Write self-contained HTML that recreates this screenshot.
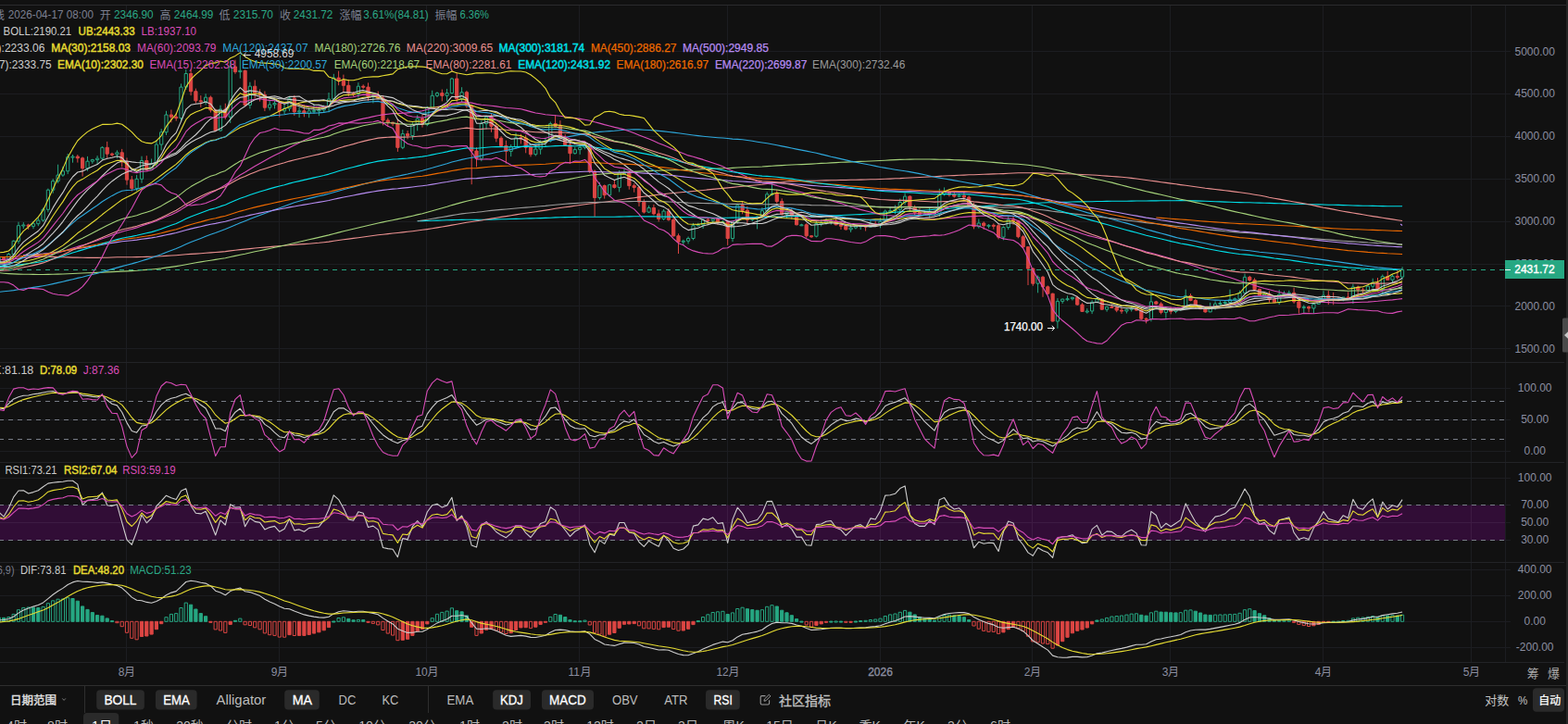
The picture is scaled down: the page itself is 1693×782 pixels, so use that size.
<!DOCTYPE html><html><head><meta charset="utf-8"><title>chart</title><style>html,body{margin:0;padding:0;background:#111111;overflow:hidden}</style></head><body><svg width="1693" height="782" viewBox="0 0 1693 782" style="display:block"><rect width="1693" height="782" fill="#111111"/><g shape-rendering="crispEdges" fill="none"><path d="M136.5 6V715" stroke="#1c1d21" stroke-width="1"/><path d="M301.5 6V715" stroke="#1c1d21" stroke-width="1"/><path d="M460.5 6V715" stroke="#1c1d21" stroke-width="1"/><path d="M625.5 6V715" stroke="#1c1d21" stroke-width="1"/><path d="M785.5 6V715" stroke="#1c1d21" stroke-width="1"/><path d="M950.5 6V715" stroke="#1c1d21" stroke-width="1"/><path d="M1114.5 6V715" stroke="#1c1d21" stroke-width="1"/><path d="M1263.5 6V715" stroke="#1c1d21" stroke-width="1"/><path d="M1428.5 6V715" stroke="#1c1d21" stroke-width="1"/><path d="M1588.5 6V715" stroke="#1c1d21" stroke-width="1"/><path d="M1625.5 6V715" stroke="#1c1d21" stroke-width="1"/><path d="M0 376.5H1631" stroke="#1c1d21" stroke-width="1"/><path d="M0 330.5H1631" stroke="#1c1d21" stroke-width="1"/><path d="M0 285.5H1631" stroke="#1c1d21" stroke-width="1"/><path d="M0 239.5H1631" stroke="#1c1d21" stroke-width="1"/><path d="M0 193.5H1631" stroke="#1c1d21" stroke-width="1"/><path d="M0 147.5H1631" stroke="#1c1d21" stroke-width="1"/><path d="M0 101.5H1631" stroke="#1c1d21" stroke-width="1"/><path d="M0 55.5H1631" stroke="#1c1d21" stroke-width="1"/><path d="M0 419.5H1631" stroke="#1c1d21" stroke-width="1"/><path d="M0 453.5H1631" stroke="#1c1d21" stroke-width="1"/><path d="M0 487.5H1631" stroke="#1c1d21" stroke-width="1"/><path d="M0 516.5H1631" stroke="#1c1d21" stroke-width="1"/><path d="M0 545.5H1631" stroke="#1c1d21" stroke-width="1"/><path d="M0 564.5H1631" stroke="#1c1d21" stroke-width="1"/><path d="M0 583.5H1631" stroke="#1c1d21" stroke-width="1"/><path d="M0 615.5H1631" stroke="#1c1d21" stroke-width="1"/><path d="M0 643.5H1631" stroke="#1c1d21" stroke-width="1"/><path d="M0 671.5H1631" stroke="#1c1d21" stroke-width="1"/><path d="M0 699.5H1631" stroke="#1c1d21" stroke-width="1"/><path d="M0 391.5H1689" stroke="#222327" stroke-width="1"/><path d="M0 499.5H1689" stroke="#222327" stroke-width="1"/><path d="M0 607.5H1689" stroke="#222327" stroke-width="1"/><path d="M0 715.5H1689" stroke="#222327" stroke-width="1"/><path d="M0 5.5H1691" stroke="#2b2b2d" stroke-width="1"/></g><rect x="0" y="545.8" width="1625" height="37.8" fill="#310d36"/><g shape-rendering="crispEdges" fill="none"><path d="M136.5 545.3V583.3" stroke="#3d1b43" stroke-width="1"/><path d="M301.5 545.3V583.3" stroke="#3d1b43" stroke-width="1"/><path d="M460.5 545.3V583.3" stroke="#3d1b43" stroke-width="1"/><path d="M625.5 545.3V583.3" stroke="#3d1b43" stroke-width="1"/><path d="M785.5 545.3V583.3" stroke="#3d1b43" stroke-width="1"/><path d="M950.5 545.3V583.3" stroke="#3d1b43" stroke-width="1"/><path d="M1114.5 545.3V583.3" stroke="#3d1b43" stroke-width="1"/><path d="M1263.5 545.3V583.3" stroke="#3d1b43" stroke-width="1"/><path d="M1428.5 545.3V583.3" stroke="#3d1b43" stroke-width="1"/><path d="M1588.5 545.3V583.3" stroke="#3d1b43" stroke-width="1"/><path d="M0 564.5H1625" stroke="#3d1b43" stroke-width="1"/></g><g shape-rendering="crispEdges" fill="none"><path d="M0 433.5H1625" stroke="#787d87" stroke-width="1" stroke-dasharray="5 5" stroke-dashoffset="0.8"/><path d="M0 453.5H1625" stroke="#787d87" stroke-width="1" stroke-dasharray="5 5" stroke-dashoffset="0.8"/><path d="M0 474.5H1625" stroke="#787d87" stroke-width="1" stroke-dasharray="5 5" stroke-dashoffset="0.8"/><path d="M0 545.5H1625" stroke="#787d87" stroke-width="1" stroke-dasharray="5 5" stroke-dashoffset="0.8"/><path d="M0 583.5H1625" stroke="#787d87" stroke-width="1" stroke-dasharray="5 5" stroke-dashoffset="0.8"/></g><path d="M-1.2 277.8V278.6M-1.2 283.7V284.5M-2.8 278.6h3.2V283.7h-3.2zM9.4 273.0V274.5M9.4 280.9V282.2M7.8 274.5h3.2V280.9h-3.2zM14.7 259.5V260.3M14.7 274.5V277.1M13.1 260.3h3.2V274.5h-3.2zM20.0 239.7V243.7M20.0 260.3V263.3M18.4 243.7h3.2V260.3h-3.2zM25.3 240.1V243.0M25.3 244.0V247.0M23.7 243.0h3.2V244.0h-3.2zM36.0 239.3V241.7M36.0 244.4V247.2M34.4 241.7h3.2V244.4h-3.2zM41.3 234.8V238.0M41.3 241.7V244.2M39.7 238.0h3.2V241.7h-3.2zM46.6 224.4V226.3M46.6 238.0V239.5M45.0 226.3h3.2V238.0h-3.2zM51.9 203.6V205.2M51.9 226.3V229.3M50.3 205.2h3.2V226.3h-3.2zM57.2 193.1V195.6M57.2 205.2V208.7M55.6 195.6h3.2V205.2h-3.2zM62.6 177.7V189.1M62.6 195.6V197.9M61.0 189.1h3.2V195.6h-3.2zM67.9 179.8V184.8M67.9 189.1V190.9M66.3 184.8h3.2V189.1h-3.2zM73.2 166.1V169.7M73.2 184.8V188.1M71.6 169.7h3.2V184.8h-3.2zM78.5 167.0V169.1M78.5 170.1V175.7M76.9 169.1h3.2V170.1h-3.2zM94.5 168.9V174.2M94.5 181.8V184.7M92.9 174.2h3.2V181.8h-3.2zM99.8 171.7V172.6M99.8 174.2V176.8M98.2 172.6h3.2V174.2h-3.2zM105.1 168.1V171.1M105.1 172.6V177.2M103.5 171.1h3.2V172.6h-3.2zM110.4 158.1V159.3M110.4 171.1V172.9M108.8 159.3h3.2V171.1h-3.2zM126.4 162.3V164.8M126.4 166.7V171.0M124.8 164.8h3.2V166.7h-3.2zM147.6 188.9V193.3M147.6 203.4V206.3M146.0 193.3h3.2V203.4h-3.2zM153.0 168.7V173.5M153.0 193.3V197.7M151.4 173.5h3.2V193.3h-3.2zM163.6 171.5V176.7M163.6 183.2V183.7M162.0 176.7h3.2V183.2h-3.2zM168.9 151.1V156.1M168.9 176.7V180.7M167.3 156.1h3.2V176.7h-3.2zM174.2 139.2V142.8M174.2 156.1V162.4M172.6 142.8h3.2V156.1h-3.2zM179.5 119.8V124.0M179.5 142.8V146.0M177.9 124.0h3.2V142.8h-3.2zM195.5 90.4V94.1M195.5 127.6V131.4M193.9 94.1h3.2V127.6h-3.2zM200.8 74.9V79.5M200.8 94.1V96.9M199.2 79.5h3.2V94.1h-3.2zM222.1 101.2V105.2M222.1 109.8V113.3M220.5 105.2h3.2V109.8h-3.2zM238.0 113.7V118.0M238.0 141.0V142.1M236.4 118.0h3.2V141.0h-3.2zM248.7 65.4V72.1M248.7 126.3V132.9M247.1 72.1h3.2V126.3h-3.2zM259.3 59.4V76.3M259.3 77.6V84.7M257.7 76.3h3.2V77.6h-3.2zM269.9 88.7V93.2M269.9 113.4V117.4M268.3 93.2h3.2V113.4h-3.2zM291.2 107.9V113.0M291.2 116.2V119.3M289.6 113.0h3.2V116.2h-3.2zM296.5 108.6V111.6M296.5 113.0V117.4M294.9 111.6h3.2V113.0h-3.2zM307.1 112.2V117.1M307.1 119.8V123.8M305.5 117.1h3.2V119.8h-3.2zM312.5 104.8V106.1M312.5 117.1V120.2M310.9 106.1h3.2V117.1h-3.2zM323.1 115.6V119.8M323.1 120.8V127.0M321.5 119.8h3.2V120.8h-3.2zM333.7 116.4V119.8M333.7 122.6V127.2M332.1 119.8h3.2V122.6h-3.2zM339.0 112.5V119.4M339.0 120.4V122.6M337.4 119.4h3.2V120.4h-3.2zM344.4 114.9V118.9M344.4 119.9V125.2M342.8 118.9h3.2V119.9h-3.2zM349.7 113.5V115.3M349.7 118.9V121.6M348.1 115.3h3.2V118.9h-3.2zM355.0 100.0V107.0M355.0 115.3V121.3M353.4 107.0h3.2V115.3h-3.2zM360.3 79.8V84.1M360.3 107.0V108.4M358.7 84.1h3.2V107.0h-3.2zM386.9 89.1V93.2M386.9 101.5V105.6M385.3 93.2h3.2V101.5h-3.2zM402.9 100.3V103.3M402.9 104.3V111.4M401.2 103.3h3.2V104.3h-3.2zM434.8 140.1V144.6M434.8 159.3V161.1M433.2 144.6h3.2V159.3h-3.2zM445.4 132.3V134.5M445.4 146.5V151.0M443.8 134.5h3.2V146.5h-3.2zM450.7 124.2V128.1M450.7 134.5V141.3M449.1 128.1h3.2V134.5h-3.2zM461.3 114.8V116.2M461.3 134.5V136.2M459.7 116.2h3.2V134.5h-3.2zM466.7 97.7V103.3M466.7 116.2V117.5M465.1 103.3h3.2V116.2h-3.2zM472.0 99.2V100.6M472.0 103.3V105.1M470.4 100.6h3.2V103.3h-3.2zM482.6 95.9V100.6M482.6 103.3V109.3M481.0 100.6h3.2V103.3h-3.2zM487.9 83.9V85.0M487.9 100.6V101.3M486.3 85.0h3.2V100.6h-3.2zM498.6 94.2V99.7M498.6 107.0V110.0M497.0 99.7h3.2V107.0h-3.2zM519.8 130.3V133.6M519.8 171.2V174.2M518.2 133.6h3.2V171.2h-3.2zM525.1 125.3V126.3M525.1 133.6V139.8M523.5 126.3h3.2V133.6h-3.2zM551.7 156.0V158.4M551.7 163.4V169.1M550.1 158.4h3.2V163.4h-3.2zM557.0 143.4V148.8M557.0 158.4V160.8M555.4 148.8h3.2V158.4h-3.2zM578.3 156.5V161.1M578.3 166.7V168.5M576.7 161.1h3.2V166.7h-3.2zM583.6 151.4V153.8M583.6 161.1V166.8M582.0 153.8h3.2V161.1h-3.2zM588.9 148.6V152.0M588.9 153.8V159.0M587.3 152.0h3.2V153.8h-3.2zM594.3 131.5V133.6M594.3 152.0V153.6M592.7 133.6h3.2V152.0h-3.2zM620.8 158.8V161.6M620.8 165.7V166.7M619.2 161.6h3.2V165.7h-3.2zM626.2 158.0V159.3M626.2 161.6V166.9M624.6 159.3h3.2V161.6h-3.2zM631.5 154.0V156.6M631.5 159.3V161.3M629.9 156.6h3.2V159.3h-3.2zM647.4 196.8V200.6M647.4 213.5V215.7M645.8 200.6h3.2V213.5h-3.2zM658.1 198.7V199.7M658.1 210.7V212.6M656.5 199.7h3.2V210.7h-3.2zM668.7 184.0V186.8M668.7 202.4V207.4M667.1 186.8h3.2V202.4h-3.2zM674.0 182.1V186.8M674.0 187.8V188.2M672.4 186.8h3.2V187.8h-3.2zM700.6 221.9V224.5M700.6 229.1V230.1M699.0 224.5h3.2V229.1h-3.2zM716.6 226.0V228.1M716.6 236.4V238.0M715.0 228.1h3.2V236.4h-3.2zM737.8 258.8V260.3M737.8 261.3V264.7M736.2 260.3h3.2V261.3h-3.2zM743.1 255.5V257.5M743.1 260.3V263.4M741.5 257.5h3.2V260.3h-3.2zM748.5 240.9V243.7M748.5 257.5V259.3M746.9 243.7h3.2V257.5h-3.2zM753.8 240.7V242.8M753.8 243.8V244.6M752.2 242.8h3.2V243.8h-3.2zM759.1 236.1V237.3M759.1 242.8V247.0M757.5 237.3h3.2V242.8h-3.2zM769.7 235.5V236.4M769.7 238.2V241.2M768.1 236.4h3.2V238.2h-3.2zM780.4 237.9V239.6M780.4 240.6V240.8M778.8 239.6h3.2V240.6h-3.2zM791.0 238.2V239.2M791.0 257.5V261.1M789.4 239.2h3.2V257.5h-3.2zM796.3 219.9V221.7M796.3 239.2V241.5M794.7 221.7h3.2V239.2h-3.2zM812.3 234.5V235.5M812.3 237.3V239.0M810.7 235.5h3.2V237.3h-3.2zM817.6 233.5V234.1M817.6 235.5V247.4M816.0 234.1h3.2V235.5h-3.2zM822.9 224.2V227.7M822.9 234.1V236.2M821.3 227.7h3.2V234.1h-3.2zM828.2 207.3V209.8M828.2 227.7V231.4M826.6 209.8h3.2V227.7h-3.2zM833.5 197.9V209.3M833.5 210.3V211.5M831.9 209.3h3.2V210.3h-3.2zM849.5 227.6V228.6M849.5 231.4V236.0M847.9 228.6h3.2V231.4h-3.2zM865.4 241.7V242.8M865.4 243.8V244.1M863.8 242.8h3.2V243.8h-3.2zM881.4 238.2V241.5M881.4 255.2V256.4M879.8 241.5h3.2V255.2h-3.2zM886.7 236.9V241.0M886.7 242.0V244.4M885.1 241.0h3.2V242.0h-3.2zM892.0 235.6V239.2M892.0 241.0V242.6M890.4 239.2h3.2V241.0h-3.2zM897.3 236.3V238.7M897.3 239.7V242.6M895.7 238.7h3.2V239.7h-3.2zM918.6 241.9V246.0M918.6 247.9V250.9M917.0 246.0h3.2V247.9h-3.2zM923.9 243.6V244.2M923.9 246.0V247.5M922.3 244.2h3.2V246.0h-3.2zM929.2 242.8V243.7M929.2 244.7V248.1M927.6 243.7h3.2V244.7h-3.2zM939.9 238.2V241.9M939.9 245.1V245.9M938.3 241.9h3.2V245.1h-3.2zM950.5 235.4V239.2M950.5 242.2V246.3M948.9 239.2h3.2V242.2h-3.2zM955.8 226.4V228.1M955.8 239.2V240.0M954.2 228.1h3.2V239.2h-3.2zM961.1 222.9V227.7M961.1 228.7V230.6M959.5 227.7h3.2V228.7h-3.2zM966.5 221.6V226.3M966.5 227.7V231.3M964.9 226.3h3.2V227.7h-3.2zM971.8 214.5V218.5M971.8 226.3V230.7M970.2 218.5h3.2V226.3h-3.2zM977.1 208.6V212.1M977.1 218.5V221.2M975.5 212.1h3.2V218.5h-3.2zM998.4 227.5V231.4M998.4 232.4V232.0M996.8 231.4h3.2V232.4h-3.2zM1003.7 224.9V228.6M1003.7 231.4V235.5M1002.1 228.6h3.2V231.4h-3.2zM1014.3 203.8V209.8M1014.3 230.4V234.0M1012.7 209.8h3.2V230.4h-3.2zM1019.6 202.4V206.6M1019.6 209.8V211.5M1018.0 206.6h3.2V209.8h-3.2zM1035.6 209.2V211.2M1035.6 212.2V213.2M1034.0 211.2h3.2V212.2h-3.2zM1056.8 236.5V241.0M1056.8 244.7V246.6M1055.2 241.0h3.2V244.7h-3.2zM1067.5 242.2V243.3M1067.5 244.3V246.6M1065.9 243.3h3.2V244.3h-3.2zM1083.4 244.4V245.6M1083.4 256.1V259.4M1081.8 245.6h3.2V256.1h-3.2zM1088.7 234.2V237.3M1088.7 245.6V248.1M1087.1 237.3h3.2V245.6h-3.2zM1120.6 297.4V299.3M1120.6 306.2V316.3M1119.0 299.3h3.2V306.2h-3.2zM1141.9 322.1V325.4M1141.9 347.0V354.8M1140.3 325.4h3.2V347.0h-3.2zM1147.2 322.6V323.1M1147.2 325.4V327.9M1145.6 323.1h3.2V325.4h-3.2zM1152.5 319.4V322.7M1152.5 323.7V325.2M1150.9 322.7h3.2V323.7h-3.2zM1157.9 320.7V321.3M1157.9 322.7V324.5M1156.3 321.3h3.2V322.7h-3.2zM1173.8 333.1V336.0M1173.8 337.0V338.6M1172.2 336.0h3.2V337.0h-3.2zM1179.1 324.2V326.4M1179.1 336.0V339.1M1177.5 326.4h3.2V336.0h-3.2zM1184.4 320.8V323.1M1184.4 326.4V327.4M1182.8 323.1h3.2V326.4h-3.2zM1195.1 331.0V331.4M1195.1 334.2V336.7M1193.5 331.4h3.2V334.2h-3.2zM1216.4 333.4V334.2M1216.4 336.0V338.5M1214.8 334.2h3.2V336.0h-3.2zM1221.7 330.5V333.2M1221.7 334.2V336.6M1220.1 333.2h3.2V334.2h-3.2zM1242.9 317.2V325.9M1242.9 344.5V347.3M1241.3 325.9h3.2V344.5h-3.2zM1258.9 331.5V334.2M1258.9 337.4V343.8M1257.3 334.2h3.2V337.4h-3.2zM1269.5 332.9V334.6M1269.5 336.4V338.2M1267.9 334.6h3.2V336.4h-3.2zM1274.8 332.0V332.8M1274.8 334.6V335.8M1273.2 332.8h3.2V334.6h-3.2zM1280.2 312.6V319.5M1280.2 332.8V333.3M1278.6 319.5h3.2V332.8h-3.2zM1306.7 326.8V331.9M1306.7 336.9V337.2M1305.1 331.9h3.2V336.9h-3.2zM1312.1 325.4V328.2M1312.1 331.9V334.7M1310.5 328.2h3.2V331.9h-3.2zM1317.4 324.9V327.5M1317.4 328.5V329.8M1315.8 327.5h3.2V328.5h-3.2zM1322.7 325.2V326.4M1322.7 327.5V329.8M1321.1 326.4h3.2V327.5h-3.2zM1328.0 312.6V323.8M1328.0 326.4V327.9M1326.4 323.8h3.2V326.4h-3.2zM1333.3 321.3V322.7M1333.3 323.8V325.4M1331.7 322.7h3.2V323.8h-3.2zM1338.6 313.8V316.3M1338.6 322.7V325.6M1337.0 316.3h3.2V322.7h-3.2zM1344.0 295.6V299.3M1344.0 316.3V317.2M1342.4 299.3h3.2V316.3h-3.2zM1365.2 316.3V317.6M1365.2 319.0V320.8M1363.6 317.6h3.2V319.0h-3.2zM1381.2 313.0V318.1M1381.2 326.8V329.1M1379.6 318.1h3.2V326.8h-3.2zM1386.5 314.3V317.2M1386.5 318.2V318.6M1384.9 317.2h3.2V318.2h-3.2zM1391.8 313.7V316.3M1391.8 317.3V319.4M1390.2 316.3h3.2V317.3h-3.2zM1407.8 329.4V331.6M1407.8 332.6V337.9M1406.2 331.6h3.2V332.6h-3.2zM1418.4 328.0V328.4M1418.4 333.0V338.7M1416.8 328.4h3.2V333.0h-3.2zM1423.7 322.3V324.7M1423.7 328.4V328.8M1422.1 324.7h3.2V328.4h-3.2zM1429.0 314.2V319.2M1429.0 324.7V327.1M1427.4 319.2h3.2V324.7h-3.2zM1450.3 321.7V321.0M1450.3 323.8V325.3M1448.7 321.0h3.2V323.8h-3.2zM1460.9 306.5V310.0M1460.9 321.9V328.1M1459.3 310.0h3.2V321.9h-3.2zM1476.9 307.3V309.2M1476.9 313.6V315.0M1475.3 309.2h3.2V313.6h-3.2zM1482.2 300.7V305.5M1482.2 309.2V311.4M1480.6 305.5h3.2V309.2h-3.2zM1492.8 296.5V298.6M1492.8 312.3V315.8M1491.2 298.6h3.2V312.3h-3.2zM1503.5 296.5V298.4M1503.5 302.3V305.6M1501.9 298.4h3.2V302.3h-3.2zM1514.1 288.3V291.3M1514.1 299.1V302.0M1512.5 291.3h3.2V299.1h-3.2z" fill="#111111" stroke="#26a782" stroke-width="1"/><path d="M4.1 277.2V282.8M2.5 278.6h3.2V280.9h-3.2zM30.7 241.7V247.9M29.1 243.0h3.2V244.4h-3.2zM83.8 167.0V175.6M82.2 169.1h3.2V170.8h-3.2zM89.1 169.4V190.5M87.5 170.8h3.2V181.8h-3.2zM115.7 152.9V170.9M114.1 159.3h3.2V166.2h-3.2zM121.0 164.8V169.1M119.4 166.2h3.2V167.2h-3.2zM131.7 160.9V180.3M130.1 164.8h3.2V175.1h-3.2zM137.0 170.4V199.7M135.4 175.1h3.2V194.2h-3.2zM142.3 190.0V206.6M140.7 194.2h3.2V203.4h-3.2zM158.3 168.2V184.4M156.7 173.5h3.2V183.2h-3.2zM184.9 118.5V132.3M183.3 124.0h3.2V126.3h-3.2zM190.2 121.9V130.6M188.6 126.3h3.2V127.6h-3.2zM206.1 74.9V103.1M204.5 79.5h3.2V98.7h-3.2zM211.4 95.6V111.6M209.8 98.7h3.2V108.8h-3.2zM216.8 103.1V115.9M215.2 108.8h3.2V109.8h-3.2zM227.4 103.4V121.5M225.8 105.2h3.2V118.9h-3.2zM232.7 117.5V141.9M231.1 118.9h3.2V141.0h-3.2zM243.3 111.7V128.9M241.7 118.0h3.2V126.3h-3.2zM254.0 64.7V79.8M252.4 72.1h3.2V77.6h-3.2zM264.6 75.5V114.4M263.0 76.3h3.2V113.4h-3.2zM275.2 86.5V106.4M273.6 93.2h3.2V100.6h-3.2zM280.6 96.4V109.6M279.0 100.6h3.2V102.4h-3.2zM285.9 98.5V120.1M284.3 102.4h3.2V116.2h-3.2zM301.8 108.7V126.5M300.2 111.6h3.2V119.8h-3.2zM317.8 102.9V124.9M316.2 106.1h3.2V120.8h-3.2zM328.4 113.2V126.3M326.8 119.8h3.2V122.6h-3.2zM365.6 76.7V92.2M364.0 84.1h3.2V86.8h-3.2zM370.9 80.6V99.7M369.3 86.8h3.2V92.3h-3.2zM376.3 85.8V104.0M374.7 92.3h3.2V100.6h-3.2zM381.6 98.9V104.1M380.0 100.6h3.2V101.6h-3.2zM392.2 91.3V96.0M390.6 93.2h3.2V94.2h-3.2zM397.5 89.4V108.9M395.9 94.1h3.2V104.2h-3.2zM408.2 98.5V107.0M406.6 103.3h3.2V106.1h-3.2zM413.5 102.9V135.4M411.9 106.1h3.2V129.9h-3.2zM418.8 127.5V137.1M417.2 129.9h3.2V132.2h-3.2zM424.1 131.6V136.1M422.5 132.2h3.2V133.6h-3.2zM429.4 128.3V163.9M427.8 133.6h3.2V159.3h-3.2zM440.1 141.1V150.3M438.5 144.6h3.2V146.5h-3.2zM456.0 124.0V137.6M454.4 128.1h3.2V134.5h-3.2zM477.3 96.5V109.4M475.7 100.6h3.2V103.3h-3.2zM493.2 78.1V109.8M491.6 85.0h3.2V107.0h-3.2zM503.9 97.9V116.7M502.3 99.7h3.2V114.3h-3.2zM509.2 113.2V199.2M507.6 114.3h3.2V163.0h-3.2zM514.5 159.2V180.4M512.9 163.0h3.2V171.2h-3.2zM530.5 122.1V142.8M528.9 126.3h3.2V136.4h-3.2zM535.8 133.2V153.4M534.2 136.4h3.2V149.2h-3.2zM541.1 147.2V158.3M539.5 149.2h3.2V157.5h-3.2zM546.4 151.7V176.7M544.8 157.5h3.2V163.4h-3.2zM562.4 144.7V155.4M560.8 148.8h3.2V149.8h-3.2zM567.7 145.8V165.3M566.1 149.2h3.2V159.3h-3.2zM573.0 157.4V169.4M571.4 159.3h3.2V166.7h-3.2zM599.6 124.0V138.1M598.0 133.6h3.2V136.4h-3.2zM604.9 130.1V151.0M603.3 136.4h3.2V148.8h-3.2zM610.2 145.0V157.8M608.6 148.8h3.2V156.6h-3.2zM615.5 153.0V176.7M613.9 156.6h3.2V165.7h-3.2zM636.8 155.0V187.0M635.2 156.6h3.2V185.0h-3.2zM642.1 183.4V233.9M640.5 185.0h3.2V213.5h-3.2zM652.7 199.4V214.6M651.1 200.6h3.2V210.7h-3.2zM663.4 195.0V203.6M661.8 199.7h3.2V202.4h-3.2zM679.3 184.6V204.7M677.7 186.8h3.2V200.6h-3.2zM684.7 198.2V207.7M683.1 200.6h3.2V202.4h-3.2zM690.0 201.0V223.0M688.4 202.4h3.2V218.1h-3.2zM695.3 215.3V230.6M693.7 218.1h3.2V229.1h-3.2zM705.9 220.8V232.5M704.3 224.5h3.2V230.9h-3.2zM711.2 226.5V239.5M709.6 230.9h3.2V236.4h-3.2zM721.9 225.0V238.7M720.3 228.1h3.2V237.3h-3.2zM727.2 233.3V255.7M725.6 237.3h3.2V254.8h-3.2zM732.5 252.3V274.0M730.9 254.8h3.2V261.2h-3.2zM764.4 235.5V241.6M762.8 237.3h3.2V238.3h-3.2zM775.0 234.4V242.7M773.4 236.4h3.2V240.1h-3.2zM785.7 237.9V264.9M784.1 239.6h3.2V257.5h-3.2zM801.6 217.1V231.3M800.0 221.7h3.2V227.2h-3.2zM806.9 222.9V241.6M805.3 227.2h3.2V237.3h-3.2zM838.8 204.8V219.7M837.2 209.3h3.2V217.6h-3.2zM844.2 214.3V232.6M842.6 217.6h3.2V231.4h-3.2zM854.8 224.9V236.9M853.2 228.6h3.2V233.2h-3.2zM860.1 232.6V243.4M858.5 233.2h3.2V242.8h-3.2zM870.7 241.2V256.8M869.1 242.8h3.2V254.8h-3.2zM876.1 254.2V256.9M874.5 254.8h3.2V255.8h-3.2zM902.6 236.7V243.3M901.0 238.7h3.2V242.8h-3.2zM908.0 238.8V248.0M906.4 242.8h3.2V244.2h-3.2zM913.3 242.6V248.5M911.7 244.2h3.2V247.9h-3.2zM934.6 242.4V249.5M933.0 243.7h3.2V245.1h-3.2zM945.2 238.5V244.3M943.6 241.9h3.2V242.9h-3.2zM982.4 211.4V227.7M980.8 212.1h3.2V224.0h-3.2zM987.7 221.6V232.3M986.1 224.0h3.2V229.5h-3.2zM993.0 224.9V232.4M991.4 229.5h3.2V231.4h-3.2zM1009.0 227.0V233.4M1007.4 228.6h3.2V230.4h-3.2zM1024.9 205.8V212.5M1023.3 206.6h3.2V210.2h-3.2zM1030.3 207.8V213.5M1028.7 210.2h3.2V212.1h-3.2zM1040.9 207.3V216.7M1039.3 211.2h3.2V213.0h-3.2zM1046.2 211.4V223.3M1044.6 213.0h3.2V221.7h-3.2zM1051.5 219.1V247.4M1049.9 221.7h3.2V244.7h-3.2zM1062.2 239.3V248.0M1060.6 241.0h3.2V243.7h-3.2zM1072.8 241.4V247.7M1071.2 243.3h3.2V244.3h-3.2zM1078.1 241.1V258.4M1076.5 243.7h3.2V256.1h-3.2zM1094.1 233.5V242.8M1092.5 237.3h3.2V238.7h-3.2zM1099.4 237.8V257.3M1097.8 238.7h3.2V255.7h-3.2zM1104.7 253.9V267.9M1103.1 255.7h3.2V266.7h-3.2zM1110.0 266.1V308.0M1108.4 266.7h3.2V290.1h-3.2zM1115.3 289.1V308.8M1113.7 290.1h3.2V306.2h-3.2zM1126.0 297.9V320.8M1124.4 299.3h3.2V309.8h-3.2zM1131.3 308.4V318.0M1129.7 309.8h3.2V317.2h-3.2zM1136.6 316.7V347.3M1135.0 317.2h3.2V347.0h-3.2zM1163.2 319.7V330.0M1161.6 321.3h3.2V329.1h-3.2zM1168.5 327.3V336.8M1166.9 329.1h3.2V336.4h-3.2zM1189.8 322.1V334.8M1188.2 323.1h3.2V334.2h-3.2zM1200.4 328.7V333.0M1198.8 331.4h3.2V332.4h-3.2zM1205.7 331.0V337.2M1204.1 331.9h3.2V335.1h-3.2zM1211.0 332.4V338.9M1209.4 335.1h3.2V336.1h-3.2zM1227.0 332.0V335.9M1225.4 333.2h3.2V335.1h-3.2zM1232.3 332.5V345.4M1230.7 335.1h3.2V344.2h-3.2zM1237.6 343.0V349.3M1236.0 344.2h3.2V345.2h-3.2zM1248.3 324.9V328.6M1246.7 325.9h3.2V328.2h-3.2zM1253.6 326.3V339.4M1252.0 328.2h3.2V337.4h-3.2zM1264.2 331.3V339.4M1262.6 334.2h3.2V336.4h-3.2zM1285.5 317.1V325.3M1283.9 319.5h3.2V324.5h-3.2zM1290.8 322.9V333.2M1289.2 324.5h3.2V330.0h-3.2zM1296.1 329.5V334.1M1294.5 330.0h3.2V333.7h-3.2zM1301.4 332.2V337.7M1299.8 333.7h3.2V336.9h-3.2zM1349.3 297.9V304.3M1347.7 299.3h3.2V302.5h-3.2zM1354.6 300.3V314.0M1353.0 302.5h3.2V312.6h-3.2zM1359.9 311.7V319.6M1358.3 312.6h3.2V319.0h-3.2zM1370.5 314.4V326.7M1368.9 317.6h3.2V323.6h-3.2zM1375.9 320.7V327.0M1374.3 323.6h3.2V326.8h-3.2zM1397.1 310.7V327.9M1395.5 316.3h3.2V325.9h-3.2zM1402.4 322.8V338.7M1400.8 325.9h3.2V332.3h-3.2zM1413.1 330.3V337.4M1411.5 331.6h3.2V333.0h-3.2zM1434.3 314.1V329.1M1432.7 319.2h3.2V322.4h-3.2zM1439.7 315.9V329.3M1438.1 322.4h3.2V323.4h-3.2zM1445.0 321.1V325.3M1443.4 323.1h3.2V324.1h-3.2zM1455.6 315.3V322.6M1454.0 321.0h3.2V322.0h-3.2zM1466.2 308.5V319.1M1464.7 310.0h3.2V313.0h-3.2zM1471.6 310.8V317.2M1470.0 313.0h3.2V314.0h-3.2zM1487.5 300.0V314.3M1485.9 305.5h3.2V312.3h-3.2zM1498.2 292.9V302.9M1496.6 298.6h3.2V302.3h-3.2zM1508.8 291.7V301.9M1507.2 298.4h3.2V299.4h-3.2z" fill="#dc4543" stroke="#dc4543" stroke-width="1"/><g clip-path="url(#cm)"><polyline points="1512.1,242.0 1514.1,243.5" fill="none" stroke="#b78cf2" stroke-width="1.1" stroke-linejoin="round" /><polyline points="1248.3,235.0 1253.6,235.4 1258.9,235.8 1264.2,236.2 1269.5,236.6 1274.8,237.0 1280.2,237.4 1285.5,237.8 1290.8,238.2 1296.1,238.7 1301.4,239.1 1306.7,239.5 1312.1,239.9 1317.4,240.3 1322.7,240.6 1328.0,241.0 1333.3,241.3 1338.6,241.6 1344.0,241.8 1349.3,242.0 1354.6,242.2 1359.9,242.5 1365.2,242.8 1370.5,243.0 1375.9,243.3 1381.2,243.5 1386.5,243.8 1391.8,244.0 1397.1,244.3 1402.4,244.6 1407.8,244.9 1413.1,245.2 1418.4,245.5 1423.7,245.8 1429.0,246.1 1434.3,246.4 1439.7,246.7 1445.0,247.0 1450.3,247.2 1455.6,247.5 1460.9,247.7 1466.2,247.8 1471.6,248.0 1476.9,248.2 1482.2,248.4 1487.5,248.6 1492.8,248.8 1498.2,249.0 1503.5,249.2 1508.8,249.4 1514.1,249.5" fill="none" stroke="#ee6a00" stroke-width="1.1" stroke-linejoin="round" /><polyline points="450.7,238.7 456.0,238.6 461.3,238.5 466.7,238.3 472.0,238.1 477.3,238.0 482.6,237.8 487.9,237.6 493.2,237.5 498.6,237.4 503.9,237.3 509.2,237.3 514.5,237.4 519.8,237.3 525.1,237.2 530.5,237.1 535.8,236.9 541.1,236.8 546.4,236.7 551.7,236.5 557.0,236.4 562.4,236.2 567.7,236.0 573.0,235.9 578.3,235.8 583.6,235.6 588.9,235.4 594.3,235.2 599.6,234.9 604.9,234.8 610.2,234.6 615.5,234.5 620.8,234.4 626.2,234.3 631.5,234.2 636.8,234.2 642.1,234.3 647.4,234.3 652.7,234.3 658.1,234.3 663.4,234.2 668.7,234.1 674.0,234.0 679.3,233.9 684.7,233.8 690.0,233.8 695.3,233.9 700.6,233.9 705.9,233.9 711.2,234.0 716.6,234.1 721.9,234.1 727.2,234.3 732.5,234.4 737.8,234.6 743.1,234.7 748.5,234.8 753.8,235.0 759.1,235.0 764.4,235.1 769.7,235.2 775.0,235.2 780.4,235.2 785.7,235.2 791.0,235.1 796.3,235.0 801.6,235.0 806.9,234.9 812.3,234.8 817.6,234.7 822.9,234.6 828.2,234.5 833.5,234.3 838.8,234.1 844.2,234.0 849.5,233.9 854.8,233.7 860.1,233.6 865.4,233.6 870.7,233.5 876.1,233.4 881.4,233.3 886.7,233.1 892.0,233.0 897.3,232.8 902.6,232.7 908.0,232.5 913.3,232.3 918.6,232.0 923.9,231.8 929.2,231.6 934.6,231.3 939.9,231.0 945.2,230.7 950.5,230.4 955.8,230.1 961.1,229.7 966.5,229.3 971.8,228.9 977.1,228.5 982.4,228.1 987.7,227.7 993.0,227.4 998.4,227.0 1003.7,226.7 1009.0,226.3 1014.3,225.9 1019.6,225.5 1024.9,225.2 1030.3,224.8 1035.6,224.4 1040.9,224.0 1046.2,223.7 1051.5,223.4 1056.8,223.1 1062.2,222.8 1067.5,222.4 1072.8,222.1 1078.1,221.8 1083.4,221.5 1088.7,221.1 1094.1,220.7 1099.4,220.3 1104.7,220.0 1110.0,219.7 1115.3,219.4 1120.6,219.2 1126.0,219.0 1131.3,218.8 1136.6,218.7 1141.9,218.5 1147.2,218.4 1152.5,218.2 1157.9,218.0 1163.2,217.9 1168.5,217.9 1173.8,217.8 1179.1,217.7 1184.4,217.5 1189.8,217.5 1195.1,217.4 1200.4,217.3 1205.7,217.3 1211.0,217.2 1216.4,217.2 1221.7,217.1 1227.0,217.0 1232.3,217.0 1237.6,217.0 1242.9,216.9 1248.3,216.9 1253.6,216.8 1258.9,216.8 1264.2,216.7 1269.5,216.7 1274.8,216.6 1280.2,216.7 1285.5,216.7 1290.8,216.9 1296.1,217.1 1301.4,217.3 1306.7,217.5 1312.1,217.7 1317.4,217.9 1322.7,218.1 1328.0,218.3 1333.3,218.5 1338.6,218.6 1344.0,218.7 1349.3,218.8 1354.6,219.0 1359.9,219.1 1365.2,219.3 1370.5,219.4 1375.9,219.6 1381.2,219.8 1386.5,219.9 1391.8,220.0 1397.1,220.2 1402.4,220.3 1407.8,220.5 1413.1,220.7 1418.4,220.8 1423.7,220.9 1429.0,221.0 1434.3,221.2 1439.7,221.3 1445.0,221.4 1450.3,221.6 1455.6,221.8 1460.9,222.0 1466.2,222.1 1471.6,222.3 1476.9,222.3 1482.2,222.4 1487.5,222.5 1492.8,222.6 1498.2,222.7 1503.5,222.7 1508.8,222.7 1514.1,222.7" fill="none" stroke="#00e0ea" stroke-width="1.1" stroke-linejoin="round" /><polyline points="25.3,275.5 30.7,275.8 36.0,276.2 41.3,276.6 46.6,277.0 51.9,277.2 57.2,277.4 62.6,277.6 67.9,277.8 73.2,277.9 78.5,278.1 83.8,278.1 89.1,278.3 94.5,278.4 99.8,278.4 105.1,278.4 110.4,278.3 115.7,278.2 121.0,278.0 126.4,277.8 131.7,277.7 137.0,277.7 142.3,277.7 147.6,277.6 153.0,277.5 158.3,277.4 163.6,277.3 168.9,277.0 174.2,276.7 179.5,276.4 184.9,276.0 190.2,275.7 195.5,275.3 200.8,274.8 206.1,274.4 211.4,274.1 216.8,273.7 222.1,273.3 227.4,272.9 232.7,272.5 238.0,272.1 243.3,271.6 248.7,270.9 254.0,270.2 259.3,269.6 264.6,269.1 269.9,268.6 275.2,268.0 280.6,267.5 285.9,267.1 291.2,266.6 296.5,266.1 301.8,265.7 307.1,265.3 312.5,264.8 317.8,264.4 323.1,263.9 328.4,263.6 333.7,263.2 339.0,262.7 344.4,262.3 349.7,261.7 355.0,261.1 360.3,260.3 365.6,259.5 370.9,258.8 376.3,258.1 381.6,257.4 386.9,256.7 392.2,256.0 397.5,255.3 402.9,254.5 408.2,253.8 413.5,253.2 418.8,252.6 424.1,252.0 429.4,251.5 434.8,250.9 440.1,250.3 445.4,249.7 450.7,249.0 456.0,248.3 461.3,247.6 466.7,246.8 472.0,245.9 477.3,245.0 482.6,244.1 487.9,243.1 493.2,242.2 498.6,241.2 503.9,240.3 509.2,239.5 514.5,238.8 519.8,238.0 525.1,237.0 530.5,236.1 535.8,235.2 541.1,234.4 546.4,233.6 551.7,232.8 557.0,231.9 562.4,231.0 567.7,230.2 573.0,229.5 578.3,228.7 583.6,227.9 588.9,227.1 594.3,226.2 599.6,225.3 604.9,224.5 610.2,223.8 615.5,223.1 620.8,222.3 626.2,221.5 631.5,220.7 636.8,220.0 642.1,219.5 647.4,218.8 652.7,218.2 658.1,217.5 663.4,216.8 668.7,216.0 674.0,215.2 679.3,214.4 684.7,213.7 690.0,212.9 695.3,212.3 700.6,211.6 705.9,210.9 711.2,210.3 716.6,209.6 721.9,209.0 727.2,208.5 732.5,208.0 737.8,207.5 743.1,207.1 748.5,206.5 753.8,206.0 759.1,205.5 764.4,204.9 769.7,204.4 775.0,203.9 780.4,203.4 785.7,202.9 791.0,202.4 796.3,201.8 801.6,201.3 806.9,200.8 812.3,200.3 817.6,199.7 822.9,199.2 828.2,198.5 833.5,197.9 838.8,197.3 844.2,196.8 849.5,196.2 854.8,195.9 860.1,195.6 865.4,195.5 870.7,195.4 876.1,195.3 881.4,195.2 886.7,195.0 892.0,194.9 897.3,194.8 902.6,194.7 908.0,194.5 913.3,194.5 918.6,194.3 923.9,194.2 929.2,194.1 934.6,194.0 939.9,193.8 945.2,193.7 950.5,193.5 955.8,193.3 961.1,193.1 966.5,192.8 971.8,192.6 977.1,192.2 982.4,192.0 987.7,191.7 993.0,191.5 998.4,191.2 1003.7,190.9 1009.0,190.7 1014.3,190.4 1019.6,190.0 1024.9,189.8 1030.3,189.6 1035.6,189.3 1040.9,189.1 1046.2,188.8 1051.5,188.7 1056.8,188.5 1062.2,188.3 1067.5,188.1 1072.8,187.9 1078.1,187.8 1083.4,187.6 1088.7,187.3 1094.1,187.0 1099.4,186.8 1104.7,186.7 1110.0,186.7 1115.3,186.8 1120.6,186.8 1126.0,186.9 1131.3,187.0 1136.6,187.3 1141.9,187.4 1147.2,187.6 1152.5,187.8 1157.9,188.0 1163.2,188.2 1168.5,188.5 1173.8,188.7 1179.1,189.0 1184.4,189.3 1189.8,189.7 1195.1,190.1 1200.4,190.5 1205.7,190.9 1211.0,191.3 1216.4,191.8 1221.7,192.4 1227.0,193.0 1232.3,193.7 1237.6,194.5 1242.9,195.2 1248.3,195.9 1253.6,196.7 1258.9,197.4 1264.2,198.1 1269.5,198.8 1274.8,199.6 1280.2,200.3 1285.5,201.0 1290.8,201.8 1296.1,202.5 1301.4,203.3 1306.7,203.9 1312.1,204.5 1317.4,205.1 1322.7,205.8 1328.0,206.4 1333.3,207.1 1338.6,207.8 1344.0,208.5 1349.3,209.3 1354.6,210.2 1359.9,211.0 1365.2,212.0 1370.5,213.2 1375.9,214.2 1381.2,215.1 1386.5,216.1 1391.8,217.0 1397.1,218.0 1402.4,218.9 1407.8,219.8 1413.1,220.8 1418.4,221.9 1423.7,223.1 1429.0,224.2 1434.3,225.1 1439.7,226.1 1445.0,227.2 1450.3,228.2 1455.6,229.1 1460.9,230.0 1466.2,230.9 1471.6,231.8 1476.9,232.7 1482.2,233.6 1487.5,234.4 1492.8,235.2 1498.2,236.1 1503.5,236.9 1508.8,237.7 1514.1,238.5" fill="none" stroke="#ea9090" stroke-width="1.1" stroke-linejoin="round" /><polyline points="-11.9,293.6 -6.6,294.2 -1.2,294.7 4.1,295.2 9.4,295.6 14.7,295.9 20.0,296.1 25.3,296.2 30.7,296.3 36.0,296.4 41.3,296.5 46.6,296.5 51.9,296.4 57.2,296.3 62.6,296.1 67.9,296.0 73.2,295.7 78.5,295.5 83.8,295.2 89.1,295.0 94.5,294.8 99.8,294.6 105.1,294.4 110.4,294.1 115.7,293.9 121.0,293.6 126.4,293.4 131.7,293.1 137.0,292.9 142.3,292.6 147.6,292.3 153.0,291.8 158.3,291.4 163.6,291.0 168.9,290.5 174.2,289.9 179.5,289.1 184.9,288.4 190.2,287.6 195.5,286.7 200.8,285.7 206.1,284.7 211.4,283.8 216.8,282.9 222.1,282.0 227.4,281.2 232.7,280.4 238.0,279.5 243.3,278.7 248.7,277.5 254.0,276.4 259.3,275.2 264.6,274.2 269.9,273.0 275.2,271.8 280.6,270.7 285.9,269.6 291.2,268.5 296.5,267.3 301.8,266.1 307.1,265.0 312.5,263.7 317.8,262.5 323.1,261.3 328.4,260.0 333.7,258.8 339.0,257.6 344.4,256.4 349.7,255.1 355.0,253.9 360.3,252.5 365.6,251.1 370.9,249.8 376.3,248.5 381.6,247.2 386.9,246.0 392.2,244.7 397.5,243.5 402.9,242.2 408.2,241.0 413.5,239.9 418.8,238.8 424.1,237.7 429.4,236.6 434.8,235.5 440.1,234.4 445.4,233.2 450.7,231.9 456.0,230.7 461.3,229.3 466.7,227.8 472.0,226.3 477.3,224.8 482.6,223.3 487.9,221.6 493.2,220.1 498.6,218.6 503.9,217.2 509.2,216.0 514.5,214.9 519.8,213.6 525.1,212.3 530.5,211.1 535.8,209.9 541.1,208.8 546.4,207.7 551.7,206.6 557.0,205.4 562.4,204.3 567.7,203.2 573.0,202.2 578.3,201.2 583.6,200.1 588.9,199.0 594.3,197.8 599.6,196.6 604.9,195.5 610.2,194.4 615.5,193.4 620.8,192.3 626.2,191.3 631.5,190.2 636.8,189.3 642.1,188.8 647.4,188.2 652.7,187.8 658.1,187.4 663.4,187.0 668.7,186.6 674.0,186.1 679.3,185.7 684.7,185.4 690.0,185.1 695.3,184.9 700.6,184.6 705.9,184.4 711.2,184.2 716.6,184.0 721.9,183.8 727.2,183.7 732.5,183.6 737.8,183.5 743.1,183.4 748.5,183.2 753.8,183.0 759.1,182.8 764.4,182.6 769.7,182.3 775.0,182.1 780.4,181.8 785.7,181.7 791.0,181.4 796.3,181.0 801.6,180.7 806.9,180.5 812.3,180.3 817.6,180.2 822.9,180.0 828.2,179.6 833.5,179.2 838.8,178.9 844.2,178.6 849.5,178.3 854.8,178.0 860.1,177.8 865.4,177.6 870.7,177.4 876.1,177.1 881.4,176.7 886.7,176.4 892.0,176.2 897.3,175.9 902.6,175.6 908.0,175.3 913.3,175.1 918.6,174.9 923.9,174.6 929.2,174.4 934.6,174.2 939.9,174.0 945.2,173.7 950.5,173.5 955.8,173.2 961.1,172.9 966.5,172.6 971.8,172.4 977.1,172.2 982.4,172.1 987.7,172.0 993.0,172.0 998.4,172.0 1003.7,172.0 1009.0,172.1 1014.3,172.2 1019.6,172.3 1024.9,172.4 1030.3,172.7 1035.6,172.9 1040.9,173.1 1046.2,173.4 1051.5,173.7 1056.8,174.1 1062.2,174.5 1067.5,175.0 1072.8,175.4 1078.1,175.9 1083.4,176.4 1088.7,176.7 1094.1,177.0 1099.4,177.3 1104.7,177.7 1110.0,178.3 1115.3,179.0 1120.6,179.7 1126.0,180.5 1131.3,181.5 1136.6,182.7 1141.9,183.8 1147.2,184.9 1152.5,186.2 1157.9,187.5 1163.2,188.8 1168.5,190.1 1173.8,191.3 1179.1,192.6 1184.4,193.7 1189.8,194.8 1195.1,196.0 1200.4,197.1 1205.7,198.6 1211.0,200.0 1216.4,201.4 1221.7,202.7 1227.0,204.0 1232.3,205.4 1237.6,206.7 1242.9,207.9 1248.3,209.1 1253.6,210.3 1258.9,211.5 1264.2,212.7 1269.5,214.0 1274.8,215.2 1280.2,216.3 1285.5,217.4 1290.8,218.6 1296.1,219.8 1301.4,221.0 1306.7,222.2 1312.1,223.4 1317.4,224.8 1322.7,226.1 1328.0,227.4 1333.3,228.6 1338.6,229.8 1344.0,230.9 1349.3,232.1 1354.6,233.3 1359.9,234.5 1365.2,235.6 1370.5,236.7 1375.9,237.8 1381.2,238.8 1386.5,239.7 1391.8,240.6 1397.1,241.6 1402.4,242.7 1407.8,243.9 1413.1,245.0 1418.4,246.2 1423.7,247.4 1429.0,248.6 1434.3,249.8 1439.7,251.0 1445.0,252.4 1450.3,253.6 1455.6,254.8 1460.9,255.9 1466.2,256.7 1471.6,257.5 1476.9,258.5 1482.2,259.5 1487.5,260.5 1492.8,261.3 1498.2,262.1 1503.5,262.8 1508.8,263.6 1514.1,264.4" fill="none" stroke="#a5d27a" stroke-width="1.1" stroke-linejoin="round" /><polyline points="-11.9,316.2 -6.6,315.8 -1.2,315.3 4.1,314.8 9.4,314.2 14.7,313.6 20.0,312.8 25.3,312.0 30.7,311.2 36.0,310.4 41.3,309.6 46.6,308.7 51.9,307.7 57.2,306.6 62.6,305.4 67.9,304.2 73.2,302.9 78.5,301.7 83.8,300.4 89.1,299.2 94.5,297.8 99.8,296.5 105.1,295.2 110.4,293.6 115.7,292.1 121.0,290.6 126.4,289.1 131.7,287.6 137.0,286.2 142.3,284.9 147.6,283.4 153.0,281.7 158.3,280.1 163.6,278.4 168.9,276.6 174.2,274.7 179.5,272.6 184.9,270.5 190.2,268.5 195.5,266.2 200.8,263.8 206.1,261.6 211.4,259.5 216.8,257.4 222.1,255.3 227.4,253.3 232.7,251.5 238.0,249.5 243.3,247.6 248.7,245.3 254.0,243.0 259.3,240.7 264.6,238.7 269.9,236.6 275.2,234.6 280.6,232.5 285.9,230.5 291.2,228.6 296.5,226.6 301.8,224.7 307.1,222.7 312.5,220.7 317.8,218.8 323.1,217.2 328.4,215.7 333.7,214.4 339.0,213.1 344.4,211.8 349.7,210.6 355.0,209.2 360.3,207.7 365.6,206.2 370.9,204.7 376.3,203.3 381.6,201.9 386.9,200.4 392.2,198.9 397.5,197.6 402.9,196.2 408.2,194.8 413.5,193.6 418.8,192.4 424.1,191.2 429.4,190.2 434.8,189.1 440.1,188.0 445.4,186.7 450.7,185.5 456.0,184.3 461.3,182.8 466.7,181.3 472.0,179.7 477.3,178.2 482.6,176.7 487.9,175.0 493.2,173.7 498.6,172.4 503.9,171.2 509.2,170.3 514.5,169.4 519.8,168.1 525.1,166.9 530.5,165.7 535.8,164.5 541.1,163.5 546.4,162.5 551.7,161.4 557.0,160.1 562.4,158.7 567.7,157.6 573.0,156.6 578.3,155.5 583.6,154.3 588.9,153.2 594.3,151.9 599.6,150.6 604.9,149.5 610.2,148.3 615.5,147.4 620.8,146.4 626.2,145.4 631.5,144.3 636.8,143.6 642.1,143.0 647.4,142.4 652.7,142.0 658.1,141.6 663.4,141.3 668.7,140.8 674.0,140.3 679.3,140.0 684.7,139.8 690.0,139.9 695.3,140.2 700.6,140.5 705.9,140.9 711.2,141.4 716.6,141.9 721.9,142.5 727.2,143.1 732.5,143.8 737.8,144.5 743.1,145.3 748.5,146.0 753.8,146.6 759.1,147.2 764.4,147.8 769.7,148.3 775.0,148.7 780.4,149.0 785.7,149.5 791.0,150.1 796.3,150.4 801.6,150.8 806.9,151.5 812.3,152.3 817.6,153.2 822.9,154.0 828.2,154.7 833.5,155.7 838.8,156.8 844.2,157.9 849.5,158.9 854.8,160.0 860.1,161.1 865.4,162.1 870.7,163.1 876.1,164.2 881.4,165.2 886.7,166.6 892.0,167.9 897.3,169.3 902.6,170.4 908.0,171.6 913.3,172.9 918.6,174.1 923.9,175.1 929.2,176.2 934.6,177.3 939.9,178.3 945.2,179.4 950.5,180.5 955.8,181.4 961.1,182.3 966.5,183.2 971.8,184.0 977.1,184.8 982.4,185.6 987.7,186.6 993.0,187.6 998.4,188.8 1003.7,190.0 1009.0,191.2 1014.3,192.1 1019.6,193.0 1024.9,193.9 1030.3,194.9 1035.6,195.8 1040.9,196.7 1046.2,197.7 1051.5,198.6 1056.8,199.6 1062.2,200.5 1067.5,201.2 1072.8,202.0 1078.1,202.9 1083.4,203.8 1088.7,204.7 1094.1,205.6 1099.4,206.8 1104.7,208.1 1110.0,209.7 1115.3,211.4 1120.6,213.1 1126.0,214.9 1131.3,216.7 1136.6,218.7 1141.9,220.5 1147.2,221.8 1152.5,223.1 1157.9,224.7 1163.2,226.4 1168.5,228.0 1173.8,229.6 1179.1,231.0 1184.4,232.3 1189.8,233.8 1195.1,235.3 1200.4,236.8 1205.7,238.3 1211.0,239.7 1216.4,241.1 1221.7,242.6 1227.0,244.2 1232.3,245.9 1237.6,247.7 1242.9,249.1 1248.3,250.6 1253.6,252.0 1258.9,253.4 1264.2,254.9 1269.5,256.4 1274.8,257.6 1280.2,258.5 1285.5,259.5 1290.8,260.5 1296.1,261.7 1301.4,262.8 1306.7,264.0 1312.1,265.2 1317.4,266.2 1322.7,267.2 1328.0,268.1 1333.3,268.9 1338.6,269.7 1344.0,270.2 1349.3,270.8 1354.6,271.5 1359.9,272.2 1365.2,272.7 1370.5,273.2 1375.9,273.8 1381.2,274.3 1386.5,274.9 1391.8,275.5 1397.1,276.2 1402.4,277.0 1407.8,277.8 1413.1,278.6 1418.4,279.3 1423.7,279.9 1429.0,280.6 1434.3,281.4 1439.7,282.2 1445.0,282.9 1450.3,283.6 1455.6,284.4 1460.9,285.1 1466.2,285.9 1471.6,286.8 1476.9,287.5 1482.2,288.2 1487.5,288.9 1492.8,289.4 1498.2,289.9 1503.5,290.4 1508.8,290.7 1514.1,291.0" fill="none" stroke="#2ea8dc" stroke-width="1.1" stroke-linejoin="round" /><polyline points="-11.9,283.1 -6.6,282.0 -1.2,280.8 4.1,280.3 9.4,279.9 14.7,279.6 20.0,279.1 25.3,278.5 30.7,278.1 36.0,277.7 41.3,277.2 46.6,276.5 51.9,275.5 57.2,274.2 62.6,272.9 67.9,271.5 73.2,269.8 78.5,268.1 83.8,266.4 89.1,264.9 94.5,263.2 99.8,261.5 105.1,259.7 110.4,257.7 115.7,255.9 121.0,254.0 126.4,252.0 131.7,250.3 137.0,248.8 142.3,247.5 147.6,245.9 153.0,243.9 158.3,242.2 163.6,240.4 168.9,238.4 174.2,236.3 179.5,234.1 184.9,231.9 190.2,229.4 195.5,226.4 200.8,223.0 206.1,220.0 211.4,217.1 216.8,214.2 222.1,211.2 227.4,208.5 232.7,206.0 238.0,202.9 243.3,199.8 248.7,196.1 254.0,192.6 259.3,189.0 264.6,186.0 269.9,182.7 275.2,179.5 280.6,176.5 285.9,173.6 291.2,170.6 296.5,167.8 301.8,165.2 307.1,162.4 312.5,159.5 317.8,156.8 323.1,154.2 328.4,151.6 333.7,149.3 339.0,147.2 344.4,145.1 349.7,143.0 355.0,140.7 360.3,138.2 365.6,135.9 370.9,134.0 376.3,132.4 381.6,130.9 386.9,129.4 392.2,128.1 397.5,127.1 402.9,125.9 408.2,124.7 413.5,123.9 418.8,123.3 424.1,122.6 429.4,122.6 434.8,122.3 440.1,121.9 445.4,121.4 450.7,120.7 456.0,119.7 461.3,118.2 466.7,116.7 472.0,115.5 477.3,114.2 482.6,112.9 487.9,111.7 493.2,111.1 498.6,110.7 503.9,110.5 509.2,111.1 514.5,112.4 519.8,113.3 525.1,113.7 530.5,114.2 535.8,114.9 541.1,115.7 546.4,116.5 551.7,116.8 557.0,117.3 562.4,117.7 567.7,119.1 573.0,120.6 578.3,122.0 583.6,122.7 588.9,123.7 594.3,124.2 599.6,124.8 604.9,125.3 610.2,126.0 615.5,127.0 620.8,127.6 626.2,128.4 631.5,129.2 636.8,130.3 642.1,131.8 647.4,133.1 652.7,134.6 658.1,136.0 663.4,137.4 668.7,138.6 674.0,139.9 679.3,141.8 684.7,143.8 690.0,145.9 695.3,148.0 700.6,150.0 705.9,152.3 711.2,154.7 716.6,156.8 721.9,159.0 727.2,161.5 732.5,163.7 737.8,165.8 743.1,167.9 748.5,169.3 753.8,170.9 759.1,172.4 764.4,174.2 769.7,176.0 775.0,177.7 780.4,179.8 785.7,182.4 791.0,184.7 796.3,186.6 801.6,188.7 806.9,191.3 812.3,193.4 817.6,195.7 822.9,197.6 828.2,198.3 833.5,199.0 838.8,200.4 844.2,202.1 849.5,203.7 854.8,205.1 860.1,206.5 865.4,207.8 870.7,209.4 876.1,211.2 881.4,212.7 886.7,214.1 892.0,215.3 897.3,216.6 902.6,218.1 908.0,219.6 913.3,221.5 918.6,223.3 923.9,224.9 929.2,226.4 934.6,227.7 939.9,229.0 945.2,230.4 950.5,231.8 955.8,232.5 961.1,232.8 966.5,233.2 971.8,233.3 977.1,233.5 982.4,233.9 987.7,234.6 993.0,235.3 998.4,235.9 1003.7,236.3 1009.0,236.5 1014.3,236.2 1019.6,235.9 1024.9,235.5 1030.3,235.1 1035.6,234.8 1040.9,234.4 1046.2,233.9 1051.5,233.6 1056.8,233.3 1062.2,233.1 1067.5,233.1 1072.8,233.1 1078.1,233.4 1083.4,233.5 1088.7,233.5 1094.1,233.5 1099.4,233.8 1104.7,233.9 1110.0,234.8 1115.3,236.2 1120.6,237.4 1126.0,238.6 1131.3,239.9 1136.6,241.8 1141.9,243.5 1147.2,245.3 1152.5,247.2 1157.9,249.0 1163.2,250.6 1168.5,252.4 1173.8,254.1 1179.1,255.5 1184.4,256.8 1189.8,258.2 1195.1,259.4 1200.4,260.9 1205.7,262.5 1211.0,264.1 1216.4,265.7 1221.7,267.2 1227.0,268.7 1232.3,270.3 1237.6,272.0 1242.9,273.3 1248.3,274.7 1253.6,276.3 1258.9,277.8 1264.2,279.4 1269.5,281.0 1274.8,282.7 1280.2,284.3 1285.5,285.9 1290.8,287.7 1296.1,289.8 1301.4,291.7 1306.7,293.4 1312.1,295.0 1317.4,296.6 1322.7,298.2 1328.0,299.8 1333.3,301.6 1338.6,303.5 1344.0,305.0 1349.3,306.5 1354.6,308.2 1359.9,309.9 1365.2,311.5 1370.5,312.8 1375.9,314.3 1381.2,315.5 1386.5,316.7 1391.8,317.9 1397.1,319.1 1402.4,320.6 1407.8,322.1 1413.1,323.7 1418.4,324.9 1423.7,325.9 1429.0,326.4 1434.3,326.6 1439.7,327.0 1445.0,327.3 1450.3,327.3 1455.6,326.9 1460.9,326.6 1466.2,326.5 1471.6,326.3 1476.9,326.1 1482.2,325.7 1487.5,325.3 1492.8,324.7 1498.2,324.3 1503.5,323.9 1508.8,323.3 1514.1,322.6" fill="none" stroke="#d94cb8" stroke-width="1.1" stroke-linejoin="round" /><polyline points="-11.9,284.4 -6.6,284.1 -1.2,283.8 4.1,283.8 9.4,283.6 14.7,283.4 20.0,283.0 25.3,282.4 30.7,281.5 36.0,280.3 41.3,278.8 46.6,277.0 51.9,274.4 57.2,271.5 62.6,268.4 67.9,265.1 73.2,261.0 78.5,256.5 83.8,251.8 89.1,248.1 94.5,244.3 99.8,240.3 105.1,236.2 110.4,231.8 115.7,227.6 121.0,223.7 126.4,219.6 131.7,215.7 137.0,212.9 142.3,210.4 147.6,207.4 153.0,203.7 158.3,200.5 163.6,197.1 168.9,193.1 174.2,189.2 179.5,185.2 184.9,181.3 190.2,177.4 195.5,172.5 200.8,167.2 206.1,163.0 211.4,159.8 216.8,156.9 222.1,154.1 227.4,151.9 232.7,151.0 238.0,149.3 243.3,147.8 248.7,144.1 254.0,140.9 259.3,137.7 264.6,135.8 269.9,133.6 275.2,131.4 280.6,129.2 285.9,127.6 291.2,125.5 296.5,122.8 301.8,120.0 307.1,117.5 312.5,115.2 317.8,113.1 323.1,111.2 328.4,110.1 333.7,109.4 339.0,109.2 344.4,109.0 349.7,108.5 355.0,109.0 360.3,109.1 365.6,108.7 370.9,108.2 376.3,107.9 381.6,107.7 386.9,106.9 392.2,105.3 397.5,104.9 402.9,104.1 408.2,105.2 413.5,107.0 418.8,108.8 424.1,109.5 429.4,111.7 434.8,113.2 440.1,114.7 445.4,115.3 450.7,115.8 456.0,116.5 461.3,116.4 466.7,116.0 472.0,115.8 477.3,115.2 482.6,114.6 487.9,113.3 493.2,112.9 498.6,112.2 503.9,112.1 509.2,113.7 514.5,115.8 519.8,117.4 525.1,118.8 530.5,120.2 535.8,121.8 541.1,123.7 546.4,126.1 551.7,128.2 557.0,129.7 562.4,131.2 567.7,133.0 573.0,134.2 578.3,135.2 583.6,135.8 588.9,135.6 594.3,135.2 599.6,134.9 604.9,135.4 610.2,136.3 615.5,137.4 620.8,138.9 626.2,140.7 631.5,142.6 636.8,145.3 642.1,149.1 647.4,152.9 652.7,156.4 658.1,159.7 663.4,162.7 668.7,163.5 674.0,164.0 679.3,166.2 684.7,168.8 690.0,171.5 695.3,174.1 700.6,176.4 705.9,178.6 711.2,181.2 716.6,183.9 721.9,186.8 727.2,190.0 732.5,193.1 737.8,196.5 743.1,199.9 748.5,203.0 753.8,206.6 759.1,210.0 764.4,213.0 769.7,215.6 775.0,218.1 780.4,220.7 785.7,224.0 791.0,226.7 796.3,227.9 801.6,228.4 806.9,229.6 812.3,230.5 817.6,231.6 822.9,232.4 828.2,233.2 833.5,234.0 838.8,234.5 844.2,235.5 849.5,235.8 854.8,236.0 860.1,236.6 865.4,237.0 870.7,237.6 876.1,238.5 881.4,238.6 886.7,238.2 892.0,237.4 897.3,236.7 902.6,236.2 908.0,236.3 913.3,236.4 918.6,236.7 923.9,236.9 929.2,237.2 934.6,237.3 939.9,237.4 945.2,236.9 950.5,236.9 955.8,237.1 961.1,237.1 966.5,236.8 971.8,236.2 977.1,235.5 982.4,235.3 987.7,236.0 993.0,236.7 998.4,237.2 1003.7,237.1 1009.0,237.2 1014.3,236.4 1019.6,235.2 1024.9,234.1 1030.3,232.7 1035.6,231.2 1040.9,230.2 1046.2,229.6 1051.5,229.8 1056.8,229.9 1062.2,229.9 1067.5,229.9 1072.8,229.7 1078.1,230.1 1083.4,230.1 1088.7,229.9 1094.1,229.7 1099.4,230.1 1104.7,230.9 1110.0,232.6 1115.3,235.2 1120.6,237.6 1126.0,240.4 1131.3,243.7 1136.6,248.2 1141.9,251.6 1147.2,254.7 1152.5,257.7 1157.9,260.7 1163.2,264.1 1168.5,267.6 1173.8,271.8 1179.1,275.8 1184.4,279.6 1189.8,283.7 1195.1,287.7 1200.4,291.6 1205.7,295.4 1211.0,298.4 1216.4,301.6 1221.7,304.5 1227.0,307.6 1232.3,310.9 1237.6,313.9 1242.9,316.6 1248.3,319.6 1253.6,322.9 1258.9,325.5 1264.2,327.8 1269.5,329.3 1274.8,330.2 1280.2,330.9 1285.5,331.4 1290.8,331.8 1296.1,331.3 1301.4,331.7 1306.7,332.0 1312.1,332.2 1317.4,332.4 1322.7,332.3 1328.0,331.9 1333.3,331.5 1338.6,331.1 1344.0,330.3 1349.3,329.3 1354.6,328.6 1359.9,328.2 1365.2,327.6 1370.5,327.2 1375.9,327.0 1381.2,326.5 1386.5,325.9 1391.8,324.9 1397.1,324.3 1402.4,324.5 1407.8,324.6 1413.1,324.5 1418.4,324.3 1423.7,323.9 1429.0,323.4 1434.3,323.1 1439.7,323.2 1445.0,323.2 1450.3,322.9 1455.6,322.5 1460.9,321.6 1466.2,320.9 1471.6,320.4 1476.9,319.8 1482.2,319.1 1487.5,318.8 1492.8,318.0 1498.2,317.5 1503.5,317.5 1508.8,317.3 1514.1,316.6" fill="none" stroke="#e6dc32" stroke-width="1.1" stroke-linejoin="round" /><polyline points="-11.9,290.9 -6.6,290.2 -1.2,288.5 4.1,286.6 9.4,285.4 14.7,283.4 20.0,280.2 25.3,276.8 30.7,273.7 36.0,270.4 41.3,267.2 46.6,263.2 51.9,257.3 57.2,251.8 62.6,245.9 67.9,239.3 73.2,231.7 78.5,224.4 83.8,217.1 89.1,210.9 94.5,205.2 99.8,200.4 105.1,195.6 110.4,190.0 115.7,184.9 121.0,180.2 126.4,176.1 131.7,174.1 137.0,174.0 142.3,174.9 147.6,175.5 153.0,175.7 158.3,176.7 163.6,177.1 168.9,175.4 174.2,173.3 179.5,170.0 184.9,167.0 190.2,164.9 195.5,160.1 200.8,154.3 206.1,149.9 211.4,145.5 216.8,139.9 222.1,133.3 227.4,128.4 232.7,126.2 238.0,121.8 243.3,118.5 248.7,112.9 254.0,108.5 259.3,105.3 264.6,104.5 269.9,102.2 275.2,102.6 280.6,104.2 285.9,105.3 291.2,105.6 296.5,105.7 301.8,106.7 307.1,106.6 312.5,104.2 317.8,104.4 323.1,104.0 328.4,107.4 333.7,110.2 339.0,113.1 344.4,113.4 349.7,114.9 355.0,115.3 360.3,114.1 365.6,112.1 370.9,110.8 376.3,110.0 381.6,108.8 386.9,107.2 392.2,106.4 397.5,105.3 402.9,104.2 408.2,103.1 413.5,103.8 418.8,104.6 424.1,105.6 429.4,108.6 434.8,111.1 440.1,115.2 445.4,118.4 450.7,120.8 456.0,123.1 461.3,124.0 466.7,124.7 472.0,125.1 477.3,125.1 482.6,124.9 487.9,123.5 493.2,122.0 498.6,119.8 503.9,118.5 509.2,118.7 514.5,120.5 519.8,119.7 525.1,119.1 530.5,119.7 535.8,120.6 541.1,123.4 546.4,127.4 551.7,131.3 557.0,134.3 562.4,137.5 567.7,142.5 573.0,146.5 578.3,150.6 583.6,153.2 588.9,152.5 594.3,149.9 599.6,150.1 604.9,151.6 610.2,153.0 615.5,154.1 620.8,154.4 626.2,154.1 631.5,154.0 636.8,156.4 642.1,160.7 647.4,163.4 652.7,166.3 658.1,168.9 663.4,172.2 668.7,174.5 674.0,178.0 679.3,182.3 684.7,185.9 690.0,190.0 695.3,194.2 700.6,198.4 705.9,203.2 711.2,208.5 716.6,211.4 721.9,213.0 727.2,216.6 732.5,219.9 737.8,224.0 743.1,227.7 748.5,231.5 753.8,235.2 759.1,237.6 764.4,240.0 769.7,241.2 775.0,242.0 780.4,243.0 785.7,244.8 791.0,244.9 796.3,244.5 801.6,243.8 806.9,242.7 812.3,241.0 817.6,239.2 822.9,237.2 828.2,235.0 833.5,232.7 838.8,231.4 844.2,231.0 849.5,230.4 854.8,230.0 860.1,230.2 865.4,229.2 870.7,230.3 876.1,232.5 881.4,233.4 886.7,233.7 892.0,233.9 897.3,234.2 902.6,235.2 908.0,237.5 913.3,240.1 918.6,242.0 923.9,242.9 929.2,243.9 934.6,244.7 939.9,244.6 945.2,244.6 950.5,243.5 955.8,241.7 961.1,240.8 966.5,239.8 971.8,238.4 977.1,236.7 982.4,235.4 987.7,234.4 993.0,233.3 998.4,232.4 1003.7,231.3 1009.0,230.4 1014.3,228.1 1019.6,225.7 1024.9,223.6 1030.3,221.8 1035.6,220.7 1040.9,219.7 1046.2,219.4 1051.5,221.1 1056.8,223.0 1062.2,224.4 1067.5,225.3 1072.8,226.1 1078.1,227.7 1083.4,228.9 1088.7,229.3 1094.1,231.3 1099.4,234.5 1104.7,238.3 1110.0,243.5 1115.3,249.8 1120.6,255.6 1126.0,261.5 1131.3,266.3 1136.6,273.4 1141.9,278.8 1147.2,284.1 1152.5,289.4 1157.9,293.7 1163.2,299.3 1168.5,305.9 1173.8,312.4 1179.1,317.1 1184.4,320.9 1189.8,323.8 1195.1,325.5 1200.4,327.7 1205.7,329.3 1211.0,330.6 1216.4,329.7 1221.7,330.3 1227.0,331.1 1232.3,332.5 1237.6,334.0 1242.9,333.8 1248.3,333.3 1253.6,333.4 1258.9,333.9 1264.2,334.8 1269.5,334.8 1274.8,334.9 1280.2,334.1 1285.5,333.4 1290.8,333.0 1296.1,332.9 1301.4,333.2 1306.7,333.0 1312.1,331.9 1317.4,330.8 1322.7,330.8 1328.0,330.5 1333.3,329.5 1338.6,328.3 1344.0,325.9 1349.3,323.7 1354.6,322.4 1359.9,322.3 1365.2,321.9 1370.5,321.5 1375.9,321.0 1381.2,319.7 1386.5,318.8 1391.8,318.0 1397.1,317.9 1402.4,318.3 1407.8,318.8 1413.1,319.5 1418.4,320.3 1423.7,322.0 1429.0,323.1 1434.3,323.7 1439.7,324.0 1445.0,324.4 1450.3,324.2 1455.6,323.9 1460.9,323.4 1466.2,323.1 1471.6,322.9 1476.9,321.8 1482.2,320.0 1487.5,318.7 1492.8,316.5 1498.2,314.7 1503.5,313.0 1508.8,311.6 1514.1,309.5" fill="none" stroke="#cdcdcd" stroke-width="1.1" stroke-linejoin="round" /><polyline points="450.7,238.7 456.0,238.0 461.3,237.2 466.7,236.3 472.0,235.4 477.3,234.5 482.6,233.6 487.9,232.6 493.2,231.8 498.6,230.9 503.9,230.2 509.2,229.7 514.5,229.3 519.8,228.7 525.1,228.0 530.5,227.4 535.8,226.9 541.1,226.4 546.4,226.0 551.7,225.5 557.0,225.0 562.4,224.5 567.7,224.1 573.0,223.7 578.3,223.3 583.6,222.8 588.9,222.4 594.3,221.8 599.6,221.2 604.9,220.7 610.2,220.3 615.5,219.9 620.8,219.6 626.2,219.2 631.5,218.7 636.8,218.5 642.1,218.5 647.4,218.4 652.7,218.3 658.1,218.2 663.4,218.1 668.7,217.9 674.0,217.7 679.3,217.6 684.7,217.5 690.0,217.5 695.3,217.5 700.6,217.6 705.9,217.7 711.2,217.8 716.6,217.9 721.9,218.0 727.2,218.2 732.5,218.5 737.8,218.8 743.1,219.1 748.5,219.2 753.8,219.4 759.1,219.5 764.4,219.6 769.7,219.7 775.0,219.9 780.4,220.0 785.7,220.2 791.0,220.4 796.3,220.4 801.6,220.4 806.9,220.5 812.3,220.6 817.6,220.7 822.9,220.8 828.2,220.7 833.5,220.6 838.8,220.6 844.2,220.7 849.5,220.7 854.8,220.8 860.1,221.0 865.4,221.1 870.7,221.3 876.1,221.6 881.4,221.7 886.7,221.8 892.0,221.9 897.3,222.0 902.6,222.2 908.0,222.3 913.3,222.5 918.6,222.7 923.9,222.8 929.2,222.9 934.6,223.1 939.9,223.2 945.2,223.3 950.5,223.4 955.8,223.5 961.1,223.5 966.5,223.5 971.8,223.5 977.1,223.4 982.4,223.4 987.7,223.5 993.0,223.5 998.4,223.6 1003.7,223.6 1009.0,223.6 1014.3,223.5 1019.6,223.4 1024.9,223.3 1030.3,223.3 1035.6,223.2 1040.9,223.1 1046.2,223.1 1051.5,223.3 1056.8,223.4 1062.2,223.5 1067.5,223.6 1072.8,223.8 1078.1,224.0 1083.4,224.1 1088.7,224.2 1094.1,224.3 1099.4,224.5 1104.7,224.8 1110.0,225.2 1115.3,225.8 1120.6,226.3 1126.0,226.8 1131.3,227.4 1136.6,228.2 1141.9,228.9 1147.2,229.5 1152.5,230.1 1157.9,230.7 1163.2,231.4 1168.5,232.1 1173.8,232.8 1179.1,233.4 1184.4,234.0 1189.8,234.6 1195.1,235.3 1200.4,235.9 1205.7,236.6 1211.0,237.2 1216.4,237.9 1221.7,238.5 1227.0,239.2 1232.3,239.9 1237.6,240.6 1242.9,241.1 1248.3,241.7 1253.6,242.3 1258.9,242.9 1264.2,243.6 1269.5,244.2 1274.8,244.8 1280.2,245.3 1285.5,245.8 1290.8,246.3 1296.1,246.9 1301.4,247.5 1306.7,248.1 1312.1,248.6 1317.4,249.1 1322.7,249.7 1328.0,250.1 1333.3,250.6 1338.6,251.1 1344.0,251.4 1349.3,251.7 1354.6,252.1 1359.9,252.6 1365.2,253.0 1370.5,253.5 1375.9,254.0 1381.2,254.4 1386.5,254.8 1391.8,255.2 1397.1,255.7 1402.4,256.2 1407.8,256.7 1413.1,257.2 1418.4,257.7 1423.7,258.1 1429.0,258.5 1434.3,258.9 1439.7,259.4 1445.0,259.8 1450.3,260.2 1455.6,260.6 1460.9,260.9 1466.2,261.3 1471.6,261.6 1476.9,262.0 1482.2,262.2 1487.5,262.6 1492.8,262.8 1498.2,263.1 1503.5,263.3 1508.8,263.6 1514.1,263.7" fill="none" stroke="#9b9b9b" stroke-width="1.1" stroke-linejoin="round" /><polyline points="25.3,275.5 30.7,275.2 36.0,274.9 41.3,274.5 46.6,274.1 51.9,273.5 57.2,272.8 62.6,272.0 67.9,271.2 73.2,270.3 78.5,269.4 83.8,268.5 89.1,267.7 94.5,266.9 99.8,266.0 105.1,265.2 110.4,264.2 115.7,263.3 121.0,262.4 126.4,261.6 131.7,260.8 137.0,260.2 142.3,259.7 147.6,259.1 153.0,258.3 158.3,257.6 163.6,256.9 168.9,256.0 174.2,254.9 179.5,253.8 184.9,252.6 190.2,251.5 195.5,250.0 200.8,248.5 206.1,247.1 211.4,245.9 216.8,244.7 222.1,243.4 227.4,242.3 232.7,241.4 238.0,240.2 243.3,239.2 248.7,237.7 254.0,236.2 259.3,234.8 264.6,233.7 269.9,232.4 275.2,231.2 280.6,230.1 285.9,229.0 291.2,228.0 296.5,226.9 301.8,226.0 307.1,225.0 312.5,223.9 317.8,223.0 323.1,222.0 328.4,221.1 333.7,220.2 339.0,219.3 344.4,218.4 349.7,217.5 355.0,216.5 360.3,215.3 365.6,214.1 370.9,213.0 376.3,212.0 381.6,211.0 386.9,209.9 392.2,208.9 397.5,207.9 402.9,207.0 408.2,206.1 413.5,205.4 418.8,204.7 424.1,204.1 429.4,203.7 434.8,203.1 440.1,202.6 445.4,202.0 450.7,201.3 456.0,200.7 461.3,200.0 466.7,199.1 472.0,198.2 477.3,197.3 482.6,196.5 487.9,195.5 493.2,194.7 498.6,193.8 503.9,193.1 509.2,192.8 514.5,192.6 519.8,192.1 525.1,191.5 530.5,191.0 535.8,190.6 541.1,190.3 546.4,190.1 551.7,189.8 557.0,189.4 562.4,189.0 567.7,188.8 573.0,188.6 578.3,188.3 583.6,188.0 588.9,187.7 594.3,187.2 599.6,186.7 604.9,186.4 610.2,186.1 615.5,185.9 620.8,185.7 626.2,185.5 631.5,185.2 636.8,185.2 642.1,185.5 647.4,185.6 652.7,185.8 658.1,186.0 663.4,186.1 668.7,186.1 674.0,186.1 679.3,186.3 684.7,186.4 690.0,186.7 695.3,187.1 700.6,187.4 705.9,187.8 711.2,188.2 716.6,188.6 721.9,189.0 727.2,189.6 732.5,190.3 737.8,190.9 743.1,191.5 748.5,192.0 753.8,192.5 759.1,192.9 764.4,193.3 769.7,193.7 775.0,194.1 780.4,194.5 785.7,195.1 791.0,195.5 796.3,195.7 801.6,196.0 806.9,196.4 812.3,196.7 817.6,197.1 822.9,197.3 828.2,197.4 833.5,197.5 838.8,197.7 844.2,198.0 849.5,198.3 854.8,198.6 860.1,199.0 865.4,199.4 870.7,199.9 876.1,200.4 881.4,200.8 886.7,201.2 892.0,201.5 897.3,201.8 902.6,202.2 908.0,202.6 913.3,203.0 918.6,203.4 923.9,203.8 929.2,204.1 934.6,204.5 939.9,204.8 945.2,205.2 950.5,205.5 955.8,205.7 961.1,205.9 966.5,206.1 971.8,206.2 977.1,206.2 982.4,206.4 987.7,206.6 993.0,206.8 998.4,207.0 1003.7,207.2 1009.0,207.5 1014.3,207.5 1019.6,207.5 1024.9,207.5 1030.3,207.5 1035.6,207.6 1040.9,207.6 1046.2,207.7 1051.5,208.1 1056.8,208.4 1062.2,208.7 1067.5,209.0 1072.8,209.3 1078.1,209.7 1083.4,210.1 1088.7,210.3 1094.1,210.6 1099.4,211.0 1104.7,211.5 1110.0,212.2 1115.3,213.0 1120.6,213.8 1126.0,214.7 1131.3,215.6 1136.6,216.8 1141.9,217.8 1147.2,218.8 1152.5,219.7 1157.9,220.6 1163.2,221.6 1168.5,222.6 1173.8,223.7 1179.1,224.6 1184.4,225.5 1189.8,226.5 1195.1,227.4 1200.4,228.4 1205.7,229.3 1211.0,230.3 1216.4,231.2 1221.7,232.2 1227.0,233.1 1232.3,234.1 1237.6,235.1 1242.9,235.9 1248.3,236.7 1253.6,237.7 1258.9,238.5 1264.2,239.4 1269.5,240.3 1274.8,241.1 1280.2,241.8 1285.5,242.6 1290.8,243.4 1296.1,244.2 1301.4,245.0 1306.7,245.8 1312.1,246.6 1317.4,247.3 1322.7,248.0 1328.0,248.7 1333.3,249.4 1338.6,250.0 1344.0,250.4 1349.3,250.9 1354.6,251.4 1359.9,252.0 1365.2,252.6 1370.5,253.3 1375.9,253.9 1381.2,254.5 1386.5,255.1 1391.8,255.6 1397.1,256.3 1402.4,257.0 1407.8,257.6 1413.1,258.3 1418.4,259.0 1423.7,259.6 1429.0,260.1 1434.3,260.7 1439.7,261.2 1445.0,261.8 1450.3,262.3 1455.6,262.9 1460.9,263.3 1466.2,263.7 1471.6,264.2 1476.9,264.6 1482.2,265.0 1487.5,265.4 1492.8,265.7 1498.2,266.0 1503.5,266.3 1508.8,266.6 1514.1,266.8" fill="none" stroke="#b78cf2" stroke-width="1.1" stroke-linejoin="round" /><polyline points="-11.9,277.4 -6.6,277.5 -1.2,277.5 4.1,277.5 9.4,277.5 14.7,277.3 20.0,277.0 25.3,276.6 30.7,276.2 36.0,275.8 41.3,275.4 46.6,274.9 51.9,274.1 57.2,273.2 62.6,272.3 67.9,271.3 73.2,270.2 78.5,269.1 83.8,268.0 89.1,267.1 94.5,266.0 99.8,265.0 105.1,264.0 110.4,262.8 115.7,261.7 121.0,260.7 126.4,259.6 131.7,258.7 137.0,258.0 142.3,257.4 147.6,256.7 153.0,255.8 158.3,255.0 163.6,254.1 168.9,253.0 174.2,251.8 179.5,250.4 184.9,249.0 190.2,247.7 195.5,246.0 200.8,244.1 206.1,242.5 211.4,241.0 216.8,239.6 222.1,238.1 227.4,236.8 232.7,235.7 238.0,234.4 243.3,233.2 248.7,231.5 254.0,229.8 259.3,228.1 264.6,226.8 269.9,225.3 275.2,223.9 280.6,222.6 285.9,221.4 291.2,220.2 296.5,219.0 301.8,217.9 307.1,216.8 312.5,215.6 317.8,214.5 323.1,213.5 328.4,212.5 333.7,211.5 339.0,210.4 344.4,209.4 349.7,208.4 355.0,207.3 360.3,205.9 365.6,204.6 370.9,203.4 376.3,202.2 381.6,201.1 386.9,199.9 392.2,198.7 397.5,197.7 402.9,196.7 408.2,195.7 413.5,194.9 418.8,194.2 424.1,193.6 429.4,193.2 434.8,192.7 440.1,192.1 445.4,191.5 450.7,190.8 456.0,190.2 461.3,189.4 466.7,188.4 472.0,187.4 477.3,186.5 482.6,185.6 487.9,184.5 493.2,183.6 498.6,182.7 503.9,181.9 509.2,181.7 514.5,181.6 519.8,181.1 525.1,180.5 530.5,180.0 535.8,179.6 541.1,179.4 546.4,179.2 551.7,179.0 557.0,178.6 562.4,178.3 567.7,178.1 573.0,178.0 578.3,177.8 583.6,177.5 588.9,177.3 594.3,176.8 599.6,176.3 604.9,176.0 610.2,175.8 615.5,175.7 620.8,175.5 626.2,175.4 631.5,175.1 636.8,175.3 642.1,175.7 647.4,176.0 652.7,176.3 658.1,176.6 663.4,176.9 668.7,177.0 674.0,177.1 679.3,177.4 684.7,177.6 690.0,178.1 695.3,178.6 700.6,179.2 705.9,179.7 711.2,180.4 716.6,180.9 721.9,181.5 727.2,182.3 732.5,183.2 737.8,184.0 743.1,184.8 748.5,185.5 753.8,186.1 759.1,186.7 764.4,187.3 769.7,187.8 775.0,188.4 780.4,189.0 785.7,189.7 791.0,190.3 796.3,190.6 801.6,191.0 806.9,191.5 812.3,192.0 817.6,192.5 822.9,192.9 828.2,193.1 833.5,193.2 838.8,193.5 844.2,193.9 849.5,194.3 854.8,194.7 860.1,195.3 865.4,195.8 870.7,196.4 876.1,197.1 881.4,197.6 886.7,198.1 892.0,198.5 897.3,199.0 902.6,199.4 908.0,199.9 913.3,200.5 918.6,201.0 923.9,201.4 929.2,201.9 934.6,202.4 939.9,202.8 945.2,203.3 950.5,203.7 955.8,203.9 961.1,204.2 966.5,204.4 971.8,204.6 977.1,204.7 982.4,204.9 987.7,205.2 993.0,205.5 998.4,205.7 1003.7,206.0 1009.0,206.3 1014.3,206.3 1019.6,206.3 1024.9,206.3 1030.3,206.4 1035.6,206.5 1040.9,206.5 1046.2,206.7 1051.5,207.1 1056.8,207.5 1062.2,207.9 1067.5,208.3 1072.8,208.7 1078.1,209.2 1083.4,209.6 1088.7,209.9 1094.1,210.2 1099.4,210.7 1104.7,211.4 1110.0,212.2 1115.3,213.3 1120.6,214.2 1126.0,215.3 1131.3,216.4 1136.6,217.8 1141.9,219.0 1147.2,220.2 1152.5,221.3 1157.9,222.4 1163.2,223.6 1168.5,224.8 1173.8,226.1 1179.1,227.2 1184.4,228.2 1189.8,229.4 1195.1,230.5 1200.4,231.7 1205.7,232.8 1211.0,233.9 1216.4,235.0 1221.7,236.1 1227.0,237.2 1232.3,238.4 1237.6,239.6 1242.9,240.5 1248.3,241.5 1253.6,242.6 1258.9,243.6 1264.2,244.6 1269.5,245.6 1274.8,246.6 1280.2,247.4 1285.5,248.2 1290.8,249.1 1296.1,250.1 1301.4,251.0 1306.7,251.9 1312.1,252.7 1317.4,253.6 1322.7,254.4 1328.0,255.1 1333.3,255.9 1338.6,256.6 1344.0,257.0 1349.3,257.5 1354.6,258.1 1359.9,258.8 1365.2,259.5 1370.5,260.2 1375.9,260.9 1381.2,261.5 1386.5,262.2 1391.8,262.8 1397.1,263.4 1402.4,264.2 1407.8,265.0 1413.1,265.7 1418.4,266.4 1423.7,267.0 1429.0,267.6 1434.3,268.2 1439.7,268.8 1445.0,269.4 1450.3,270.0 1455.6,270.6 1460.9,271.0 1466.2,271.5 1471.6,271.9 1476.9,272.4 1482.2,272.7 1487.5,273.2 1492.8,273.4 1498.2,273.8 1503.5,274.0 1508.8,274.3 1514.1,274.5" fill="none" stroke="#ee6a00" stroke-width="1.1" stroke-linejoin="round" /><polyline points="-11.9,287.8 -6.6,287.7 -1.2,287.6 4.1,287.5 9.4,287.3 14.7,286.8 20.0,286.1 25.3,285.4 30.7,284.7 36.0,284.0 41.3,283.3 46.6,282.3 51.9,281.0 57.2,279.6 62.6,278.1 67.9,276.6 73.2,274.8 78.5,273.1 83.8,271.4 89.1,269.9 94.5,268.3 99.8,266.7 105.1,265.2 110.4,263.4 115.7,261.8 121.0,260.2 126.4,258.6 131.7,257.3 137.0,256.2 142.3,255.4 147.6,254.3 153.0,253.0 158.3,251.8 163.6,250.6 168.9,249.0 174.2,247.3 179.5,245.2 184.9,243.3 190.2,241.4 195.5,238.9 200.8,236.3 206.1,234.0 211.4,231.9 216.8,229.9 222.1,227.9 227.4,226.1 232.7,224.7 238.0,222.9 243.3,221.3 248.7,218.8 254.0,216.5 259.3,214.2 264.6,212.5 269.9,210.5 275.2,208.7 280.6,207.0 285.9,205.5 291.2,203.9 296.5,202.4 301.8,201.0 307.1,199.7 312.5,198.1 317.8,196.8 323.1,195.6 328.4,194.4 333.7,193.1 339.0,191.9 344.4,190.7 349.7,189.5 355.0,188.1 360.3,186.4 365.6,184.7 370.9,183.2 376.3,181.8 381.6,180.5 386.9,179.1 392.2,177.7 397.5,176.4 402.9,175.2 408.2,174.1 413.5,173.4 418.8,172.7 424.1,172.0 429.4,171.8 434.8,171.4 440.1,171.0 445.4,170.4 450.7,169.7 456.0,169.1 461.3,168.2 466.7,167.1 472.0,166.0 477.3,165.0 482.6,163.9 487.9,162.6 493.2,161.7 498.6,160.7 503.9,159.9 509.2,160.0 514.5,160.2 519.8,159.7 525.1,159.2 530.5,158.8 535.8,158.6 541.1,158.6 546.4,158.7 551.7,158.7 557.0,158.5 562.4,158.4 567.7,158.4 573.0,158.5 578.3,158.6 583.6,158.5 588.9,158.4 594.3,158.0 599.6,157.6 604.9,157.5 610.2,157.4 615.5,157.6 620.8,157.7 626.2,157.7 631.5,157.7 636.8,158.1 642.1,159.0 647.4,159.7 652.7,160.6 658.1,161.2 663.4,161.9 668.7,162.3 674.0,162.7 679.3,163.3 684.7,164.0 690.0,164.9 695.3,165.9 700.6,166.9 705.9,168.0 711.2,169.1 716.6,170.1 721.9,171.2 727.2,172.6 732.5,174.0 737.8,175.4 743.1,176.8 748.5,177.9 753.8,179.0 759.1,180.0 764.4,180.9 769.7,181.8 775.0,182.8 780.4,183.7 785.7,185.0 791.0,185.8 796.3,186.4 801.6,187.1 806.9,187.9 812.3,188.7 817.6,189.5 822.9,190.1 828.2,190.4 833.5,190.8 838.8,191.2 844.2,191.9 849.5,192.5 854.8,193.1 860.1,194.0 865.4,194.8 870.7,195.8 876.1,196.7 881.4,197.5 886.7,198.2 892.0,198.9 897.3,199.5 902.6,200.3 908.0,201.0 913.3,201.8 918.6,202.5 923.9,203.2 929.2,203.8 934.6,204.5 939.9,205.1 945.2,205.8 950.5,206.3 955.8,206.7 961.1,207.0 966.5,207.3 971.8,207.5 977.1,207.6 982.4,207.9 987.7,208.2 993.0,208.6 998.4,209.0 1003.7,209.3 1009.0,209.7 1014.3,209.7 1019.6,209.6 1024.9,209.6 1030.3,209.7 1035.6,209.7 1040.9,209.7 1046.2,209.9 1051.5,210.5 1056.8,211.0 1062.2,211.6 1067.5,212.1 1072.8,212.6 1078.1,213.3 1083.4,213.9 1088.7,214.2 1094.1,214.7 1099.4,215.3 1104.7,216.2 1110.0,217.4 1115.3,218.9 1120.6,220.2 1126.0,221.7 1131.3,223.3 1136.6,225.3 1141.9,227.0 1147.2,228.5 1152.5,230.1 1157.9,231.6 1163.2,233.2 1168.5,234.9 1173.8,236.6 1179.1,238.1 1184.4,239.5 1189.8,241.1 1195.1,242.5 1200.4,244.0 1205.7,245.5 1211.0,247.0 1216.4,248.5 1221.7,249.9 1227.0,251.3 1232.3,252.8 1237.6,254.3 1242.9,255.5 1248.3,256.7 1253.6,258.0 1258.9,259.3 1264.2,260.6 1269.5,261.8 1274.8,263.0 1280.2,263.9 1285.5,264.9 1290.8,266.0 1296.1,267.1 1301.4,268.3 1306.7,269.3 1312.1,270.3 1317.4,271.2 1322.7,272.1 1328.0,273.0 1333.3,273.8 1338.6,274.5 1344.0,274.9 1349.3,275.4 1354.6,276.0 1359.9,276.7 1365.2,277.4 1370.5,278.1 1375.9,279.0 1381.2,279.6 1386.5,280.2 1391.8,280.8 1397.1,281.6 1402.4,282.4 1407.8,283.2 1413.1,284.0 1418.4,284.8 1423.7,285.4 1429.0,286.0 1434.3,286.6 1439.7,287.2 1445.0,287.8 1450.3,288.3 1455.6,288.9 1460.9,289.2 1466.2,289.6 1471.6,290.0 1476.9,290.4 1482.2,290.6 1487.5,291.0 1492.8,291.1 1498.2,291.3 1503.5,291.4 1508.8,291.5 1514.1,291.5" fill="none" stroke="#00e0ea" stroke-width="1.1" stroke-linejoin="round" /><polyline points="-11.9,293.2 -6.6,293.0 -1.2,292.6 4.1,292.3 9.4,291.9 14.7,291.1 20.0,290.0 25.3,288.8 30.7,287.7 36.0,286.6 41.3,285.4 46.6,283.9 51.9,282.0 57.2,279.8 62.6,277.6 67.9,275.3 73.2,272.7 78.5,270.1 83.8,267.7 89.1,265.6 94.5,263.3 99.8,261.1 105.1,258.8 110.4,256.4 115.7,254.2 121.0,252.0 126.4,249.8 131.7,248.0 137.0,246.7 142.3,245.6 147.6,244.3 153.0,242.6 158.3,241.1 163.6,239.5 168.9,237.4 174.2,235.1 179.5,232.4 184.9,229.7 190.2,227.2 195.5,223.9 200.8,220.4 206.1,217.4 211.4,214.7 216.8,212.1 222.1,209.5 227.4,207.2 232.7,205.6 238.0,203.4 243.3,201.5 248.7,198.3 254.0,195.3 259.3,192.4 264.6,190.5 269.9,188.1 275.2,185.9 280.6,183.8 285.9,182.2 291.2,180.5 296.5,178.8 301.8,177.3 307.1,175.8 312.5,174.1 317.8,172.8 323.1,171.5 328.4,170.3 333.7,169.0 339.0,167.8 344.4,166.6 349.7,165.3 355.0,163.9 360.3,161.9 365.6,160.1 370.9,158.4 376.3,157.0 381.6,155.6 386.9,154.0 392.2,152.6 397.5,151.4 402.9,150.2 408.2,149.1 413.5,148.6 418.8,148.2 424.1,147.9 429.4,148.1 434.8,148.1 440.1,148.0 445.4,147.7 450.7,147.2 456.0,146.9 461.3,146.1 466.7,145.1 472.0,144.0 477.3,143.0 482.6,141.9 487.9,140.5 493.2,139.7 498.6,138.7 503.9,138.1 509.2,138.7 514.5,139.5 519.8,139.4 525.1,139.0 530.5,139.0 535.8,139.2 541.1,139.7 546.4,140.3 551.7,140.7 557.0,140.9 562.4,141.1 567.7,141.6 573.0,142.2 578.3,142.7 583.6,142.9 588.9,143.2 594.3,142.9 599.6,142.8 604.9,142.9 610.2,143.2 615.5,143.8 620.8,144.2 626.2,144.6 631.5,144.9 636.8,145.9 642.1,147.6 647.4,148.9 652.7,150.4 658.1,151.6 663.4,152.9 668.7,153.7 674.0,154.5 679.3,155.7 684.7,156.8 690.0,158.3 695.3,160.1 700.6,161.7 705.9,163.4 711.2,165.2 716.6,166.7 721.9,168.5 727.2,170.6 732.5,172.8 737.8,175.0 743.1,177.0 748.5,178.7 753.8,180.3 759.1,181.7 764.4,183.1 769.7,184.4 775.0,185.8 780.4,187.1 785.7,188.8 791.0,190.1 796.3,190.9 801.6,191.8 806.9,192.9 812.3,193.9 817.6,194.9 822.9,195.7 828.2,196.1 833.5,196.4 838.8,196.9 844.2,197.8 849.5,198.5 854.8,199.4 860.1,200.5 865.4,201.5 870.7,202.8 876.1,204.1 881.4,205.0 886.7,205.9 892.0,206.8 897.3,207.5 902.6,208.4 908.0,209.3 913.3,210.3 918.6,211.1 923.9,212.0 929.2,212.7 934.6,213.5 939.9,214.2 945.2,214.9 950.5,215.5 955.8,215.8 961.1,216.1 966.5,216.4 971.8,216.4 977.1,216.3 982.4,216.5 987.7,216.8 993.0,217.2 998.4,217.5 1003.7,217.8 1009.0,218.1 1014.3,217.9 1019.6,217.6 1024.9,217.5 1030.3,217.3 1035.6,217.2 1040.9,217.1 1046.2,217.2 1051.5,217.9 1056.8,218.4 1062.2,219.1 1067.5,219.7 1072.8,220.3 1078.1,221.1 1083.4,221.7 1088.7,222.1 1094.1,222.5 1099.4,223.4 1104.7,224.4 1110.0,226.1 1115.3,228.0 1120.6,229.8 1126.0,231.8 1131.3,233.9 1136.6,236.7 1141.9,238.9 1147.2,240.9 1152.5,243.0 1157.9,244.9 1163.2,247.0 1168.5,249.2 1173.8,251.3 1179.1,253.2 1184.4,254.9 1189.8,256.9 1195.1,258.7 1200.4,260.5 1205.7,262.3 1211.0,264.2 1216.4,265.9 1221.7,267.6 1227.0,269.2 1232.3,271.1 1237.6,272.9 1242.9,274.2 1248.3,275.5 1253.6,277.1 1258.9,278.5 1264.2,279.9 1269.5,281.3 1274.8,282.5 1280.2,283.4 1285.5,284.4 1290.8,285.6 1296.1,286.8 1301.4,288.0 1306.7,289.1 1312.1,290.0 1317.4,291.0 1322.7,291.8 1328.0,292.6 1333.3,293.4 1338.6,293.9 1344.0,294.1 1349.3,294.3 1354.6,294.7 1359.9,295.3 1365.2,295.9 1370.5,296.6 1375.9,297.3 1381.2,297.8 1386.5,298.3 1391.8,298.7 1397.1,299.4 1402.4,300.2 1407.8,301.0 1413.1,301.8 1418.4,302.5 1423.7,303.0 1429.0,303.4 1434.3,303.9 1439.7,304.3 1445.0,304.8 1450.3,305.2 1455.6,305.6 1460.9,305.7 1466.2,305.9 1471.6,306.1 1476.9,306.2 1482.2,306.2 1487.5,306.3 1492.8,306.1 1498.2,306.0 1503.5,305.9 1508.8,305.7 1514.1,305.3" fill="none" stroke="#ea9090" stroke-width="1.1" stroke-linejoin="round" /><polyline points="-11.9,291.5 -6.6,291.3 -1.2,290.9 4.1,290.5 9.4,290.0 14.7,289.0 20.0,287.6 25.3,286.1 30.7,284.7 36.0,283.3 41.3,281.8 46.6,280.0 51.9,277.6 57.2,274.9 62.6,272.1 67.9,269.2 73.2,265.9 78.5,262.8 83.8,259.7 89.1,257.2 94.5,254.5 99.8,251.8 105.1,249.1 110.4,246.2 115.7,243.6 121.0,241.0 126.4,238.5 131.7,236.5 137.0,235.1 142.3,234.0 147.6,232.7 153.0,230.8 158.3,229.2 163.6,227.5 168.9,225.1 174.2,222.4 179.5,219.2 184.9,216.2 190.2,213.3 195.5,209.4 200.8,205.1 206.1,201.6 211.4,198.6 216.8,195.7 222.1,192.7 227.4,190.3 232.7,188.7 238.0,186.3 243.3,184.4 248.7,180.7 254.0,177.3 259.3,174.0 264.6,172.0 269.9,169.4 275.2,167.2 280.6,165.0 285.9,163.4 291.2,161.8 296.5,160.1 301.8,158.8 307.1,157.5 312.5,155.8 317.8,154.6 323.1,153.5 328.4,152.5 333.7,151.4 339.0,150.4 344.4,149.3 349.7,148.2 355.0,146.9 360.3,144.8 365.6,142.9 370.9,141.2 376.3,139.9 381.6,138.6 386.9,137.2 392.2,135.7 397.5,134.7 402.9,133.7 408.2,132.8 413.5,132.7 418.8,132.7 424.1,132.7 429.4,133.6 434.8,133.9 440.1,134.3 445.4,134.4 450.7,134.1 456.0,134.2 461.3,133.6 466.7,132.6 472.0,131.5 477.3,130.6 482.6,129.6 487.9,128.2 493.2,127.5 498.6,126.5 503.9,126.1 509.2,127.4 514.5,128.8 519.8,129.0 525.1,128.9 530.5,129.1 535.8,129.8 541.1,130.7 546.4,131.8 551.7,132.6 557.0,133.2 562.4,133.7 567.7,134.5 573.0,135.6 578.3,136.4 583.6,137.0 588.9,137.5 594.3,137.3 599.6,137.3 604.9,137.7 610.2,138.3 615.5,139.2 620.8,139.9 626.2,140.6 631.5,141.1 636.8,142.5 642.1,144.9 647.4,146.7 652.7,148.8 658.1,150.5 663.4,152.2 668.7,153.3 674.0,154.4 679.3,155.9 684.7,157.4 690.0,159.4 695.3,161.7 700.6,163.8 705.9,166.0 711.2,168.3 716.6,170.2 721.9,172.4 727.2,175.1 732.5,178.0 737.8,180.7 743.1,183.2 748.5,185.2 753.8,187.1 759.1,188.7 764.4,190.3 769.7,191.8 775.0,193.4 780.4,194.9 785.7,197.0 791.0,198.4 796.3,199.1 801.6,200.1 806.9,201.3 812.3,202.4 817.6,203.4 822.9,204.2 828.2,204.4 833.5,204.6 838.8,205.0 844.2,205.9 849.5,206.6 854.8,207.5 860.1,208.6 865.4,209.8 870.7,211.2 876.1,212.7 881.4,213.6 886.7,214.5 892.0,215.3 897.3,216.1 902.6,217.0 908.0,217.9 913.3,218.9 918.6,219.7 923.9,220.5 929.2,221.3 934.6,222.1 939.9,222.7 945.2,223.4 950.5,223.9 955.8,224.0 961.1,224.2 966.5,224.2 971.8,224.0 977.1,223.6 982.4,223.7 987.7,223.8 993.0,224.1 998.4,224.3 1003.7,224.5 1009.0,224.7 1014.3,224.2 1019.6,223.6 1024.9,223.2 1030.3,222.8 1035.6,222.4 1040.9,222.1 1046.2,222.1 1051.5,222.8 1056.8,223.4 1062.2,224.1 1067.5,224.7 1072.8,225.4 1078.1,226.4 1083.4,227.0 1088.7,227.3 1094.1,227.7 1099.4,228.6 1104.7,229.9 1110.0,231.8 1115.3,234.3 1120.6,236.4 1126.0,238.8 1131.3,241.4 1136.6,244.9 1141.9,247.5 1147.2,250.0 1152.5,252.4 1157.9,254.6 1163.2,257.1 1168.5,259.7 1173.8,262.2 1179.1,264.3 1184.4,266.2 1189.8,268.4 1195.1,270.5 1200.4,272.5 1205.7,274.6 1211.0,276.6 1216.4,278.5 1221.7,280.3 1227.0,282.1 1232.3,284.1 1237.6,286.1 1242.9,287.4 1248.3,288.7 1253.6,290.3 1258.9,291.7 1264.2,293.2 1269.5,294.6 1274.8,295.8 1280.2,296.6 1285.5,297.5 1290.8,298.6 1296.1,299.7 1301.4,300.9 1306.7,302.0 1312.1,302.8 1317.4,303.6 1322.7,304.4 1328.0,305.0 1333.3,305.6 1338.6,305.9 1344.0,305.7 1349.3,305.6 1354.6,305.8 1359.9,306.3 1365.2,306.7 1370.5,307.2 1375.9,307.8 1381.2,308.2 1386.5,308.5 1391.8,308.7 1397.1,309.3 1402.4,310.1 1407.8,310.8 1413.1,311.5 1418.4,312.0 1423.7,312.5 1429.0,312.7 1434.3,313.0 1439.7,313.3 1445.0,313.7 1450.3,313.9 1455.6,314.2 1460.9,314.0 1466.2,314.0 1471.6,314.0 1476.9,313.8 1482.2,313.6 1487.5,313.5 1492.8,313.0 1498.2,312.7 1503.5,312.2 1508.8,311.8 1514.1,311.1" fill="none" stroke="#a5d27a" stroke-width="1.1" stroke-linejoin="round" /><polyline points="-11.9,286.6 -6.6,286.4 -1.2,285.9 4.1,285.6 9.4,284.9 14.7,283.3 20.0,280.7 25.3,278.3 30.7,276.1 36.0,273.9 41.3,271.6 46.6,268.7 51.9,264.6 57.2,260.1 62.6,255.5 67.9,251.0 73.2,245.7 78.5,240.8 83.8,236.3 89.1,232.8 94.5,229.0 99.8,225.3 105.1,221.8 110.4,217.8 115.7,214.5 121.0,211.4 126.4,208.4 131.7,206.2 137.0,205.5 142.3,205.3 147.6,204.5 153.0,202.5 158.3,201.3 163.6,199.7 168.9,196.9 174.2,193.4 179.5,188.9 184.9,184.9 190.2,181.2 195.5,175.6 200.8,169.4 206.1,164.8 211.4,161.2 216.8,157.9 222.1,154.5 227.4,152.2 232.7,151.5 238.0,149.3 243.3,147.8 248.7,142.9 254.0,138.7 259.3,134.7 264.6,133.3 269.9,130.7 275.2,128.8 280.6,127.1 285.9,126.4 291.2,125.5 296.5,124.6 301.8,124.3 307.1,123.8 312.5,122.7 317.8,122.6 323.1,122.4 328.4,122.4 333.7,122.2 339.0,122.1 344.4,121.9 349.7,121.4 355.0,120.5 360.3,118.1 365.6,116.1 370.9,114.6 376.3,113.7 381.6,112.9 386.9,111.6 392.2,110.5 397.5,110.1 402.9,109.7 408.2,109.4 413.5,110.8 418.8,112.1 424.1,113.5 429.4,116.5 434.8,118.3 440.1,120.1 445.4,121.0 450.7,121.5 456.0,122.3 461.3,121.9 466.7,120.7 472.0,119.4 477.3,118.4 482.6,117.2 487.9,115.2 493.2,114.6 498.6,113.7 503.9,113.7 509.2,116.9 514.5,120.4 519.8,121.3 525.1,121.6 530.5,122.5 535.8,124.3 541.1,126.4 546.4,128.8 551.7,130.7 557.0,131.9 562.4,133.0 567.7,134.7 573.0,136.7 578.3,138.3 583.6,139.3 588.9,140.1 594.3,139.7 599.6,139.5 604.9,140.1 610.2,141.2 615.5,142.7 620.8,144.0 626.2,144.9 631.5,145.7 636.8,148.2 642.1,152.4 647.4,155.6 652.7,159.1 658.1,161.7 663.4,164.4 668.7,165.8 674.0,167.2 679.3,169.3 684.7,171.5 690.0,174.5 695.3,178.0 700.6,181.0 705.9,184.2 711.2,187.6 716.6,190.2 721.9,193.2 727.2,197.2 732.5,201.3 737.8,205.1 743.1,208.5 748.5,210.8 753.8,212.9 759.1,214.4 764.4,216.0 769.7,217.3 775.0,218.8 780.4,220.1 785.7,222.5 791.0,223.6 796.3,223.5 801.6,223.7 806.9,224.6 812.3,225.3 817.6,225.9 822.9,226.0 828.2,224.9 833.5,223.9 838.8,223.5 844.2,224.0 849.5,224.3 854.8,224.9 860.1,226.1 865.4,227.1 870.7,228.9 876.1,230.6 881.4,231.3 886.7,231.9 892.0,232.4 897.3,232.8 902.6,233.5 908.0,234.1 913.3,235.0 918.6,235.7 923.9,236.3 929.2,236.8 934.6,237.3 939.9,237.6 945.2,237.9 950.5,238.0 955.8,237.4 961.1,236.7 966.5,236.1 971.8,234.9 977.1,233.4 982.4,232.8 987.7,232.6 993.0,232.5 998.4,232.5 1003.7,232.2 1009.0,232.1 1014.3,230.7 1019.6,229.1 1024.9,227.9 1030.3,226.9 1035.6,225.9 1040.9,225.0 1046.2,224.8 1051.5,226.1 1056.8,227.1 1062.2,228.1 1067.5,229.1 1072.8,230.1 1078.1,231.7 1083.4,232.6 1088.7,232.9 1094.1,233.3 1099.4,234.8 1104.7,236.8 1110.0,240.3 1115.3,244.5 1120.6,248.0 1126.0,252.0 1131.3,256.2 1136.6,262.1 1141.9,266.2 1147.2,269.8 1152.5,273.3 1157.9,276.4 1163.2,279.8 1168.5,283.4 1173.8,286.8 1179.1,289.4 1184.4,291.5 1189.8,294.3 1195.1,296.7 1200.4,299.0 1205.7,301.3 1211.0,303.5 1216.4,305.5 1221.7,307.3 1227.0,309.1 1232.3,311.3 1237.6,313.5 1242.9,314.3 1248.3,315.2 1253.6,316.6 1258.9,317.7 1264.2,319.0 1269.5,320.0 1274.8,320.8 1280.2,320.7 1285.5,321.0 1290.8,321.5 1296.1,322.3 1301.4,323.3 1306.7,323.8 1312.1,324.1 1317.4,324.3 1322.7,324.5 1328.0,324.4 1333.3,324.3 1338.6,323.8 1344.0,322.2 1349.3,320.9 1354.6,320.4 1359.9,320.3 1365.2,320.1 1370.5,320.4 1375.9,320.8 1381.2,320.6 1386.5,320.4 1391.8,320.1 1397.1,320.5 1402.4,321.2 1407.8,321.9 1413.1,322.6 1418.4,323.0 1423.7,323.1 1429.0,322.9 1434.3,322.8 1439.7,322.8 1445.0,322.9 1450.3,322.8 1455.6,322.7 1460.9,321.9 1466.2,321.3 1471.6,320.8 1476.9,320.1 1482.2,319.1 1487.5,318.7 1492.8,317.4 1498.2,316.4 1503.5,315.3 1508.8,314.2 1514.1,312.7" fill="none" stroke="#2ea8dc" stroke-width="1.1" stroke-linejoin="round" /><polyline points="-11.9,286.3 -6.6,286.0 -1.2,285.1 4.1,284.6 9.4,283.3 14.7,280.4 20.0,275.8 25.3,271.7 30.7,268.3 36.0,265.0 41.3,261.6 46.6,257.2 51.9,250.7 57.2,243.8 62.6,237.0 67.9,230.5 73.2,222.9 78.5,216.1 83.8,210.5 89.1,206.9 94.5,202.8 99.8,199.0 105.1,195.5 110.4,191.0 115.7,187.9 121.0,185.2 126.4,182.7 131.7,181.7 137.0,183.3 142.3,185.8 147.6,186.7 153.0,185.1 158.3,184.9 163.6,183.8 168.9,180.4 174.2,175.7 179.5,169.2 184.9,163.8 190.2,159.3 195.5,151.2 200.8,142.2 206.1,136.8 211.4,133.3 216.8,130.3 222.1,127.2 227.4,126.2 232.7,128.0 238.0,126.8 243.3,126.7 248.7,119.9 254.0,114.6 259.3,109.8 264.6,110.3 269.9,108.1 275.2,107.2 280.6,106.6 285.9,107.8 291.2,108.4 296.5,108.8 301.8,110.2 307.1,111.1 312.5,110.4 317.8,111.7 323.1,112.7 328.4,114.0 333.7,114.7 339.0,115.3 344.4,115.7 349.7,115.7 355.0,114.6 360.3,110.8 365.6,107.8 370.9,105.9 376.3,105.2 381.6,104.7 386.9,103.3 392.2,102.1 397.5,102.4 402.9,102.5 408.2,103.0 413.5,106.3 418.8,109.6 424.1,112.6 429.4,118.4 434.8,121.7 440.1,124.8 445.4,126.0 450.7,126.3 456.0,127.3 461.3,125.9 466.7,123.1 472.0,120.3 477.3,118.2 482.6,116.0 487.9,112.1 493.2,111.4 498.6,110.0 503.9,110.5 509.2,117.1 514.5,123.8 519.8,125.1 525.1,125.2 530.5,126.6 535.8,129.4 541.1,132.9 546.4,136.8 551.7,139.5 557.0,140.6 562.4,141.7 567.7,143.9 573.0,146.7 578.3,148.5 583.6,149.2 588.9,149.5 594.3,147.6 599.6,146.2 604.9,146.5 610.2,147.7 615.5,150.0 620.8,151.4 626.2,152.4 631.5,152.9 636.8,157.0 642.1,164.0 647.4,168.6 652.7,173.9 658.1,177.1 663.4,180.3 668.7,181.1 674.0,181.8 679.3,184.2 684.7,186.4 690.0,190.4 695.3,195.2 700.6,198.9 705.9,202.9 711.2,207.1 716.6,209.7 721.9,213.2 727.2,218.4 732.5,223.7 737.8,228.3 743.1,231.9 748.5,233.4 753.8,234.6 759.1,234.9 764.4,235.3 769.7,235.5 775.0,236.1 780.4,236.5 785.7,239.1 791.0,239.1 796.3,237.0 801.6,235.7 806.9,235.9 812.3,235.9 817.6,235.7 822.9,234.7 828.2,231.6 833.5,228.8 838.8,227.4 844.2,227.9 849.5,228.0 854.8,228.6 860.1,230.4 865.4,232.0 870.7,234.8 876.1,237.4 881.4,237.9 886.7,238.3 892.0,238.4 897.3,238.4 902.6,239.0 908.0,239.6 913.3,240.7 918.6,241.3 923.9,241.7 929.2,241.9 934.6,242.3 939.9,242.3 945.2,242.3 950.5,241.9 955.8,240.2 961.1,238.6 966.5,237.1 971.8,234.8 977.1,231.9 982.4,230.9 987.7,230.8 993.0,230.8 998.4,230.9 1003.7,230.6 1009.0,230.6 1014.3,228.0 1019.6,225.3 1024.9,223.4 1030.3,222.0 1035.6,220.7 1040.9,219.7 1046.2,220.0 1051.5,223.0 1056.8,225.3 1062.2,227.6 1067.5,229.6 1072.8,231.3 1078.1,234.4 1083.4,235.8 1088.7,236.0 1094.1,236.3 1099.4,238.8 1104.7,242.3 1110.0,248.2 1115.3,255.5 1120.6,261.0 1126.0,267.1 1131.3,273.3 1136.6,282.5 1141.9,287.9 1147.2,292.3 1152.5,296.1 1157.9,299.3 1163.2,303.0 1168.5,307.2 1173.8,310.8 1179.1,312.7 1184.4,314.0 1189.8,316.5 1195.1,318.4 1200.4,320.1 1205.7,322.0 1211.0,323.7 1216.4,325.0 1221.7,326.0 1227.0,327.2 1232.3,329.3 1237.6,331.2 1242.9,330.5 1248.3,330.2 1253.6,331.1 1258.9,331.5 1264.2,332.1 1269.5,332.4 1274.8,332.5 1280.2,330.9 1285.5,330.1 1290.8,330.1 1296.1,330.5 1301.4,331.3 1306.7,331.4 1312.1,331.0 1317.4,330.6 1322.7,330.0 1328.0,329.2 1333.3,328.4 1338.6,326.9 1344.0,323.5 1349.3,320.8 1354.6,319.8 1359.9,319.7 1365.2,319.4 1370.5,320.0 1375.9,320.8 1381.2,320.5 1386.5,320.1 1391.8,319.6 1397.1,320.4 1402.4,321.9 1407.8,323.1 1413.1,324.3 1418.4,324.8 1423.7,324.8 1429.0,324.1 1434.3,323.9 1439.7,323.8 1445.0,323.8 1450.3,323.5 1455.6,323.3 1460.9,321.6 1466.2,320.5 1471.6,319.7 1476.9,318.4 1482.2,316.7 1487.5,316.2 1492.8,314.0 1498.2,312.5 1503.5,310.8 1508.8,309.3 1514.1,307.1" fill="none" stroke="#d94cb8" stroke-width="1.1" stroke-linejoin="round" /><polyline points="-11.9,285.8 -6.6,285.4 -1.2,284.2 4.1,283.6 9.4,281.9 14.7,278.0 20.0,271.8 25.3,266.5 30.7,262.5 36.0,258.7 41.3,255.0 46.6,249.7 51.9,241.6 57.2,233.3 62.6,225.2 67.9,217.9 73.2,209.1 78.5,201.9 83.8,196.2 89.1,193.6 94.5,190.1 99.8,186.9 105.1,184.0 110.4,179.5 115.7,177.1 121.0,175.2 126.4,173.3 131.7,173.6 137.0,177.4 142.3,182.1 147.6,184.1 153.0,182.2 158.3,182.4 163.6,181.4 168.9,176.8 174.2,170.6 179.5,162.1 184.9,155.6 190.2,150.5 195.5,140.3 200.8,129.2 206.1,123.7 211.4,121.0 216.8,118.9 222.1,116.4 227.4,116.9 232.7,121.3 238.0,120.7 243.3,121.7 248.7,112.7 254.0,106.3 259.3,100.8 264.6,103.1 269.9,101.3 275.2,101.2 280.6,101.4 285.9,104.1 291.2,105.7 296.5,106.8 301.8,109.2 307.1,110.6 312.5,109.8 317.8,111.8 323.1,113.2 328.4,114.9 333.7,115.8 339.0,116.5 344.4,116.9 349.7,116.6 355.0,114.9 360.3,109.3 365.6,105.2 370.9,102.8 376.3,102.4 381.6,102.3 386.9,100.6 392.2,99.4 397.5,100.3 402.9,100.9 408.2,101.8 413.5,106.9 418.8,111.5 424.1,115.5 429.4,123.5 434.8,127.3 440.1,130.8 445.4,131.5 450.7,130.9 456.0,131.5 461.3,128.7 466.7,124.1 472.0,119.8 477.3,116.8 482.6,113.9 487.9,108.6 493.2,108.3 498.6,106.8 503.9,108.1 509.2,118.1 514.5,127.8 519.8,128.8 525.1,128.4 530.5,129.8 535.8,133.3 541.1,137.7 546.4,142.4 551.7,145.3 557.0,145.9 562.4,146.5 567.7,148.9 573.0,152.1 578.3,153.7 583.6,153.8 588.9,153.4 594.3,149.8 599.6,147.4 604.9,147.6 610.2,149.3 615.5,152.2 620.8,154.0 626.2,154.9 631.5,155.2 636.8,160.6 642.1,170.2 647.4,175.8 652.7,182.1 658.1,185.3 663.4,188.4 668.7,188.1 674.0,187.9 679.3,190.2 684.7,192.4 690.0,197.1 695.3,202.9 700.6,206.8 705.9,211.2 711.2,215.8 716.6,218.0 721.9,221.5 727.2,227.6 732.5,233.7 737.8,238.5 743.1,242.0 748.5,242.3 753.8,242.4 759.1,241.5 764.4,240.9 769.7,240.1 775.0,240.1 780.4,240.0 785.7,243.2 791.0,242.4 796.3,238.7 801.6,236.6 806.9,236.7 812.3,236.5 817.6,236.1 822.9,234.5 828.2,230.0 833.5,226.3 838.8,224.7 844.2,225.9 849.5,226.4 854.8,227.6 860.1,230.4 865.4,232.7 870.7,236.7 876.1,240.0 881.4,240.3 886.7,240.4 892.0,240.2 897.3,239.9 902.6,240.5 908.0,241.1 913.3,242.4 918.6,243.0 923.9,243.2 929.2,243.3 934.6,243.7 939.9,243.3 945.2,243.1 950.5,242.4 955.8,239.8 961.1,237.6 966.5,235.6 971.8,232.5 977.1,228.8 982.4,227.9 987.7,228.2 993.0,228.8 998.4,229.2 1003.7,229.1 1009.0,229.4 1014.3,225.8 1019.6,222.3 1024.9,220.1 1030.3,218.7 1035.6,217.3 1040.9,216.5 1046.2,217.5 1051.5,222.4 1056.8,225.8 1062.2,229.1 1067.5,231.6 1072.8,233.8 1078.1,237.9 1083.4,239.3 1088.7,238.9 1094.1,238.9 1099.4,241.9 1104.7,246.4 1110.0,254.4 1115.3,263.8 1120.6,270.2 1126.0,277.4 1131.3,284.7 1136.6,296.0 1141.9,301.4 1147.2,305.3 1152.5,308.5 1157.9,310.8 1163.2,314.1 1168.5,318.2 1173.8,321.4 1179.1,322.3 1184.4,322.5 1189.8,324.6 1195.1,325.8 1200.4,326.9 1205.7,328.4 1211.0,329.8 1216.4,330.6 1221.7,331.1 1227.0,331.8 1232.3,334.1 1237.6,336.0 1242.9,334.1 1248.3,333.0 1253.6,333.8 1258.9,333.9 1264.2,334.4 1269.5,334.4 1274.8,334.1 1280.2,331.4 1285.5,330.2 1290.8,330.2 1296.1,330.8 1301.4,331.9 1306.7,331.9 1312.1,331.2 1317.4,330.6 1322.7,329.8 1328.0,328.7 1333.3,327.6 1338.6,325.5 1344.0,320.8 1349.3,317.4 1354.6,316.6 1359.9,317.0 1365.2,317.1 1370.5,318.3 1375.9,319.8 1381.2,319.5 1386.5,319.1 1391.8,318.6 1397.1,319.9 1402.4,322.2 1407.8,323.9 1413.1,325.5 1418.4,326.0 1423.7,325.8 1429.0,324.6 1434.3,324.2 1439.7,324.0 1445.0,324.0 1450.3,323.4 1455.6,323.1 1460.9,320.8 1466.2,319.4 1471.6,318.3 1476.9,316.6 1482.2,314.6 1487.5,314.2 1492.8,311.4 1498.2,309.7 1503.5,307.7 1508.8,306.1 1514.1,303.4" fill="none" stroke="#e6dc32" stroke-width="1.1" stroke-linejoin="round" /><polyline points="-11.9,284.7 -6.6,284.4 -1.2,283.0 4.1,282.5 9.4,280.5 14.7,275.4 20.0,267.5 25.3,261.4 30.7,257.1 36.0,253.3 41.3,249.5 46.6,243.7 51.9,234.1 57.2,224.4 62.6,215.6 67.9,207.9 73.2,198.4 78.5,191.0 83.8,186.0 89.1,184.9 94.5,182.2 99.8,179.8 105.1,177.6 110.4,173.1 115.7,171.3 121.0,170.2 126.4,168.8 131.7,170.4 137.0,176.3 142.3,183.1 147.6,185.6 153.0,182.6 158.3,182.8 163.6,181.3 168.9,175.0 174.2,166.9 179.5,156.2 184.9,148.7 190.2,143.4 195.5,131.1 200.8,118.2 206.1,113.3 211.4,112.2 216.8,111.6 222.1,110.0 227.4,112.2 232.7,119.4 238.0,119.1 243.3,120.9 248.7,108.7 254.0,100.9 259.3,94.7 264.6,99.4 269.9,97.9 275.2,98.5 280.6,99.5 285.9,103.7 291.2,106.0 296.5,107.4 301.8,110.5 307.1,112.2 312.5,110.6 317.8,113.2 323.1,114.8 328.4,116.8 333.7,117.5 339.0,118.0 344.4,118.2 349.7,117.5 355.0,114.9 360.3,107.2 365.6,102.1 370.9,99.6 376.3,99.9 381.6,100.3 386.9,98.5 392.2,97.4 397.5,99.1 402.9,100.2 408.2,101.7 413.5,108.7 418.8,114.6 424.1,119.4 429.4,129.3 434.8,133.2 440.1,136.5 445.4,136.0 450.7,134.0 456.0,134.2 461.3,129.7 466.7,123.1 472.0,117.4 477.3,113.9 482.6,110.6 487.9,104.2 493.2,104.9 498.6,103.6 503.9,106.3 509.2,120.4 514.5,133.1 519.8,133.3 525.1,131.5 530.5,132.7 535.8,136.8 541.1,142.0 546.4,147.4 551.7,150.1 557.0,149.8 562.4,149.6 567.7,152.1 573.0,155.7 578.3,157.1 583.6,156.3 588.9,155.2 594.3,149.8 599.6,146.4 604.9,147.0 610.2,149.4 615.5,153.5 620.8,155.5 626.2,156.5 631.5,156.5 636.8,163.6 642.1,176.1 647.4,182.2 652.7,189.3 658.1,191.9 663.4,194.6 668.7,192.6 674.0,191.2 679.3,193.5 684.7,195.8 690.0,201.3 695.3,208.3 700.6,212.3 705.9,217.0 711.2,221.8 716.6,223.4 721.9,226.9 727.2,233.9 732.5,240.7 737.8,245.6 743.1,248.6 748.5,247.4 753.8,246.2 759.1,244.0 764.4,242.6 769.7,241.0 775.0,240.8 780.4,240.5 785.7,244.8 791.0,243.4 796.3,237.9 801.6,235.3 806.9,235.8 812.3,235.7 817.6,235.3 822.9,233.4 828.2,227.5 833.5,223.0 838.8,221.6 844.2,224.1 849.5,225.2 854.8,227.2 860.1,231.1 865.4,234.0 870.7,239.2 876.1,243.2 881.4,242.8 886.7,242.3 892.0,241.5 897.3,240.8 902.6,241.3 908.0,242.0 913.3,243.5 918.6,244.1 923.9,244.2 929.2,244.1 934.6,244.3 939.9,243.7 945.2,243.3 950.5,242.3 955.8,238.8 961.1,236.0 966.5,233.6 971.8,229.8 977.1,225.4 982.4,225.0 987.7,226.2 993.0,227.5 998.4,228.4 1003.7,228.5 1009.0,229.0 1014.3,224.2 1019.6,219.8 1024.9,217.4 1030.3,216.1 1035.6,214.8 1040.9,214.4 1046.2,216.2 1051.5,223.3 1056.8,227.7 1062.2,231.7 1067.5,234.6 1072.8,236.9 1078.1,241.7 1083.4,242.7 1088.7,241.3 1094.1,240.7 1099.4,244.4 1104.7,250.0 1110.0,260.0 1115.3,271.6 1120.6,278.5 1126.0,286.3 1131.3,294.0 1136.6,307.3 1141.9,311.8 1147.2,314.6 1152.5,316.7 1157.9,317.8 1163.2,320.6 1168.5,324.6 1173.8,327.4 1179.1,327.2 1184.4,326.2 1189.8,328.2 1195.1,329.0 1200.4,329.7 1205.7,331.0 1211.0,332.3 1216.4,332.7 1221.7,332.9 1227.0,333.4 1232.3,336.1 1237.6,338.2 1242.9,335.1 1248.3,333.4 1253.6,334.4 1258.9,334.3 1264.2,334.9 1269.5,334.8 1274.8,334.3 1280.2,330.6 1285.5,329.1 1290.8,329.3 1296.1,330.4 1301.4,332.0 1306.7,332.0 1312.1,331.0 1317.4,330.2 1322.7,329.2 1328.0,327.9 1333.3,326.6 1338.6,324.0 1344.0,317.8 1349.3,314.0 1354.6,313.6 1359.9,315.0 1365.2,315.6 1370.5,317.6 1375.9,319.9 1381.2,319.5 1386.5,318.9 1391.8,318.2 1397.1,320.1 1402.4,323.2 1407.8,325.3 1413.1,327.2 1418.4,327.5 1423.7,326.8 1429.0,324.9 1434.3,324.3 1439.7,324.0 1445.0,323.9 1450.3,323.2 1455.6,322.9 1460.9,319.7 1466.2,318.0 1471.6,316.9 1476.9,315.0 1482.2,312.6 1487.5,312.5 1492.8,309.1 1498.2,307.4 1503.5,305.1 1508.8,303.6 1514.1,300.5" fill="none" stroke="#cdcdcd" stroke-width="1.1" stroke-linejoin="round" /><polyline points="-11.9,288.7 -6.6,288.9 -1.2,288.8 4.1,288.6 9.4,288.2 14.7,287.0 20.0,284.5 25.3,281.5 30.7,278.3 36.0,275.7 41.3,273.1 46.6,269.8 51.9,265.4 57.2,260.6 62.6,255.5 67.9,250.5 73.2,244.6 78.5,238.4 83.8,233.0 89.1,228.3 94.5,222.8 99.8,217.2 105.1,211.8 110.4,205.8 115.7,200.3 121.0,195.7 126.4,191.7 131.7,188.3 137.0,185.8 142.3,183.9 147.6,181.7 153.0,179.0 158.3,177.9 163.6,177.0 168.9,175.3 174.2,173.2 179.5,170.9 184.9,168.8 190.2,166.6 195.5,162.3 200.8,157.5 206.1,153.8 211.4,150.7 216.8,148.2 222.1,145.2 227.4,142.8 232.7,141.6 238.0,138.8 243.3,135.4 248.7,128.8 254.0,123.0 259.3,118.1 264.6,114.7 269.9,110.5 275.2,107.7 280.6,105.7 285.9,105.3 291.2,104.6 296.5,103.8 301.8,105.1 307.1,107.0 312.5,107.4 317.8,108.0 323.1,108.5 328.4,109.3 333.7,109.4 339.0,108.3 344.4,108.4 349.7,107.8 355.0,109.5 360.3,109.9 365.6,110.4 370.9,109.3 376.3,109.7 381.6,109.8 386.9,109.3 392.2,108.2 397.5,107.8 402.9,107.3 408.2,106.7 413.5,107.3 418.8,108.6 424.1,109.2 429.4,111.2 434.8,112.3 440.1,113.7 445.4,114.4 450.7,114.9 456.0,115.8 461.3,116.3 466.7,117.3 472.0,117.9 477.3,118.5 482.6,118.5 487.9,117.7 493.2,118.4 498.6,118.6 503.9,119.1 509.2,122.1 514.5,125.4 519.8,125.6 525.1,125.3 530.5,125.4 535.8,124.9 541.1,125.5 546.4,126.4 551.7,127.6 557.0,128.6 562.4,129.3 567.7,131.5 573.0,134.7 578.3,137.7 583.6,140.2 588.9,142.8 594.3,145.2 599.6,146.7 604.9,149.1 610.2,151.3 615.5,151.4 620.8,150.9 626.2,152.2 631.5,153.7 636.8,156.1 642.1,159.4 647.4,161.5 652.7,163.9 658.1,165.9 663.4,168.6 668.7,170.5 674.0,171.9 679.3,173.6 684.7,175.6 690.0,178.9 695.3,182.7 700.6,187.3 705.9,192.0 711.2,196.4 716.6,199.9 721.9,203.5 727.2,208.2 732.5,213.3 737.8,218.5 743.1,222.1 748.5,223.6 753.8,225.7 759.1,227.0 764.4,229.0 769.7,230.7 775.0,233.3 780.4,236.0 785.7,238.8 791.0,240.7 796.3,240.8 801.6,240.7 806.9,241.4 812.3,241.6 817.6,241.5 822.9,241.5 828.2,240.1 833.5,237.8 838.8,235.6 844.2,234.2 849.5,232.8 854.8,232.2 860.1,232.2 865.4,232.5 870.7,233.3 876.1,234.3 881.4,234.3 886.7,234.4 892.0,233.5 897.3,233.5 902.6,234.5 908.0,235.4 913.3,235.9 918.6,236.4 923.9,236.9 929.2,237.7 934.6,239.5 939.9,241.1 945.2,242.4 950.5,242.8 955.8,242.7 961.1,242.5 966.5,241.6 971.8,240.4 977.1,238.3 982.4,236.7 987.7,236.1 993.0,235.6 998.4,235.3 1003.7,234.7 1009.0,234.1 1014.3,232.4 1019.6,230.3 1024.9,228.6 1030.3,226.9 1035.6,225.3 1040.9,223.7 1046.2,222.7 1051.5,222.8 1056.8,222.9 1062.2,223.7 1067.5,224.5 1072.8,225.3 1078.1,227.2 1083.4,228.9 1088.7,229.6 1094.1,230.0 1099.4,231.2 1104.7,233.0 1110.0,236.1 1115.3,239.9 1120.6,244.3 1126.0,249.5 1131.3,254.9 1136.6,261.6 1141.9,267.3 1147.2,272.8 1152.5,277.9 1157.9,281.7 1163.2,286.1 1168.5,290.7 1173.8,295.4 1179.1,299.5 1184.4,302.9 1189.8,307.3 1195.1,312.0 1200.4,316.6 1205.7,320.6 1211.0,324.1 1216.4,326.3 1221.7,327.6 1227.0,329.4 1232.3,331.1 1237.6,332.5 1242.9,331.5 1248.3,331.6 1253.6,332.3 1258.9,332.9 1264.2,333.6 1269.5,333.9 1274.8,333.7 1280.2,332.9 1285.5,332.8 1290.8,333.2 1296.1,333.1 1301.4,333.4 1306.7,333.4 1312.1,333.1 1317.4,332.6 1322.7,332.3 1328.0,331.8 1333.3,331.2 1338.6,329.8 1344.0,327.5 1349.3,326.3 1354.6,325.5 1359.9,324.6 1365.2,323.8 1370.5,323.2 1375.9,322.8 1381.2,322.0 1386.5,321.9 1391.8,321.5 1397.1,321.3 1402.4,321.2 1407.8,321.0 1413.1,321.0 1418.4,321.0 1423.7,320.9 1429.0,320.5 1434.3,320.5 1439.7,320.5 1445.0,320.9 1450.3,322.0 1455.6,322.9 1460.9,322.8 1466.2,322.5 1471.6,322.3 1476.9,321.6 1482.2,320.5 1487.5,320.2 1492.8,319.3 1498.2,318.6 1503.5,317.2 1508.8,315.6 1514.1,313.5" fill="none" stroke="#cdcdcd" stroke-width="1.1" stroke-linejoin="round" /><polyline points="-11.9,272.7 -6.6,273.2 -1.2,272.8 4.1,272.4 9.4,271.0 14.7,266.0 20.0,256.6 25.3,249.6 30.7,245.2 36.0,239.8 41.3,234.3 46.6,227.1 51.9,215.6 57.2,203.9 62.6,192.6 67.9,182.1 73.2,169.9 78.5,160.4 83.8,152.0 89.1,146.9 94.5,142.4 99.8,139.2 105.1,136.7 110.4,134.4 115.7,134.4 121.0,134.3 126.4,133.1 131.7,134.3 137.0,138.2 142.3,142.7 147.6,148.4 153.0,152.7 158.3,154.4 163.6,154.9 168.9,152.2 174.2,146.6 179.5,136.7 184.9,129.4 190.2,123.4 195.5,109.3 200.8,93.9 206.1,85.7 211.4,80.4 216.8,75.8 222.1,70.9 227.4,68.4 232.7,67.9 238.0,66.0 243.3,67.1 248.7,62.7 254.0,60.4 259.3,56.9 264.6,61.1 269.9,64.5 275.2,66.6 280.6,67.8 285.9,68.1 291.2,68.5 296.5,69.0 301.8,70.0 307.1,73.5 312.5,74.1 317.8,74.2 323.1,74.3 328.4,74.7 333.7,74.7 339.0,76.4 344.4,76.4 349.7,76.7 355.0,83.1 360.3,84.8 365.6,87.9 370.9,85.6 376.3,86.7 381.6,86.8 386.9,85.5 392.2,83.7 397.5,83.3 402.9,82.9 408.2,82.9 413.5,81.8 418.8,80.9 424.1,79.9 429.4,74.8 434.8,73.4 440.1,72.0 445.4,71.9 450.7,71.9 456.0,72.1 461.3,72.7 466.7,75.8 472.0,78.1 477.3,79.8 482.6,79.8 487.9,76.9 493.2,78.8 498.6,79.7 503.9,80.7 509.2,79.9 514.5,78.8 519.8,78.9 525.1,78.7 530.5,78.7 535.8,79.5 541.1,78.7 546.4,77.5 551.7,76.8 557.0,77.0 562.4,77.0 567.7,78.0 573.0,80.7 578.3,84.9 583.6,89.5 588.9,95.3 594.3,105.4 599.6,110.6 604.9,120.3 610.2,127.1 615.5,126.9 620.8,127.7 626.2,130.1 631.5,135.1 636.8,134.7 642.1,126.7 647.4,124.3 652.7,120.9 658.1,120.3 663.4,121.1 668.7,123.2 674.0,124.4 679.3,124.5 684.7,125.4 690.0,126.4 695.3,127.5 700.6,134.1 705.9,140.9 711.2,145.9 716.6,151.1 721.9,154.8 727.2,158.6 732.5,163.8 737.8,172.3 743.1,175.6 748.5,176.4 753.8,179.0 759.1,180.6 764.4,184.0 769.7,187.3 775.0,194.8 780.4,203.9 785.7,209.8 791.0,216.9 796.3,217.8 801.6,217.5 806.9,219.3 812.3,219.8 817.6,219.6 822.9,219.5 828.2,214.2 833.5,209.6 838.8,208.2 844.2,209.2 849.5,210.1 854.8,210.1 860.1,210.1 865.4,210.0 870.7,208.9 876.1,208.1 881.4,208.1 886.7,208.1 892.0,209.2 897.3,209.2 902.6,210.6 908.0,211.3 913.3,211.3 918.6,211.4 923.9,211.7 929.2,212.7 934.6,217.9 939.9,224.5 945.2,229.7 950.5,231.0 955.8,230.9 961.1,229.5 966.5,226.9 971.8,222.6 977.1,217.8 982.4,216.9 987.7,216.2 993.0,215.8 998.4,215.4 1003.7,214.7 1009.0,214.4 1014.3,210.6 1019.6,207.0 1024.9,204.8 1030.3,203.3 1035.6,202.1 1040.9,201.7 1046.2,202.4 1051.5,202.0 1056.8,201.8 1062.2,200.8 1067.5,200.1 1072.8,199.5 1078.1,198.4 1083.4,199.9 1088.7,200.4 1094.1,200.6 1099.4,199.8 1104.7,197.9 1110.0,193.2 1115.3,187.3 1120.6,187.7 1126.0,188.9 1131.3,190.3 1136.6,188.7 1141.9,193.2 1147.2,199.3 1152.5,205.2 1157.9,208.4 1163.2,212.5 1168.5,216.8 1173.8,222.2 1179.1,229.2 1184.4,234.8 1189.8,243.3 1195.1,256.0 1200.4,271.3 1205.7,284.3 1211.0,296.9 1216.4,303.8 1221.7,306.9 1227.0,313.1 1232.3,316.3 1237.6,318.0 1242.9,318.3 1248.3,318.7 1253.6,319.8 1258.9,321.1 1264.2,323.1 1269.5,323.5 1274.8,323.4 1280.2,320.9 1285.5,320.6 1290.8,321.7 1296.1,321.7 1301.4,321.9 1306.7,321.9 1312.1,321.3 1317.4,320.8 1322.7,320.1 1328.0,319.1 1333.3,318.0 1338.6,316.5 1344.0,310.2 1349.3,305.9 1354.6,304.3 1359.9,303.9 1365.2,303.4 1370.5,303.6 1375.9,303.8 1381.2,303.5 1386.5,303.3 1391.8,302.8 1397.1,302.9 1402.4,303.0 1407.8,303.5 1413.1,303.4 1418.4,303.4 1423.7,303.4 1429.0,303.2 1434.3,303.2 1439.7,303.2 1445.0,303.7 1450.3,307.9 1455.6,312.0 1460.9,311.4 1466.2,310.4 1471.6,309.8 1476.9,307.8 1482.2,305.3 1487.5,304.6 1492.8,301.1 1498.2,299.0 1503.5,296.1 1508.8,294.2 1514.1,291.0" fill="none" stroke="#e6dc32" stroke-width="1.1" stroke-linejoin="round" /><polyline points="-11.9,304.7 -6.6,304.6 -1.2,304.8 4.1,304.8 9.4,305.4 14.7,308.1 20.0,312.5 25.3,313.5 30.7,311.3 36.0,311.6 41.3,311.9 46.6,312.5 51.9,315.2 57.2,317.3 62.6,318.3 67.9,318.8 73.2,319.4 78.5,316.4 83.8,314.0 89.1,309.6 94.5,303.1 99.8,295.3 105.1,287.0 110.4,277.2 115.7,266.3 121.0,257.1 126.4,250.3 131.7,242.3 137.0,233.5 142.3,225.0 147.6,214.9 153.0,205.3 158.3,201.5 163.6,199.1 168.9,198.5 174.2,199.9 179.5,205.2 184.9,208.2 190.2,209.9 195.5,215.2 200.8,221.2 206.1,222.0 211.4,221.1 216.8,220.7 222.1,219.5 227.4,217.2 232.7,215.3 238.0,211.5 243.3,203.6 248.7,194.9 254.0,185.7 259.3,179.4 264.6,168.2 269.9,156.5 275.2,148.8 280.6,143.5 285.9,142.5 291.2,140.8 296.5,138.6 301.8,140.3 307.1,140.5 312.5,140.6 317.8,141.7 323.1,142.6 328.4,144.0 333.7,144.1 339.0,140.2 344.4,140.4 349.7,138.9 355.0,136.0 360.3,134.9 365.6,132.9 370.9,133.1 376.3,132.7 381.6,132.7 386.9,133.1 392.2,132.7 397.5,132.2 402.9,131.8 408.2,130.4 413.5,132.8 418.8,136.3 424.1,138.6 429.4,147.6 434.8,151.3 440.1,155.3 445.4,157.0 450.7,157.8 456.0,159.6 461.3,159.9 466.7,158.7 472.0,157.8 477.3,157.2 482.6,157.2 487.9,158.5 493.2,157.9 498.6,157.6 503.9,157.6 509.2,164.3 514.5,171.9 519.8,172.2 525.1,171.8 530.5,172.1 535.8,170.3 541.1,172.4 546.4,175.3 551.7,178.3 557.0,180.2 562.4,181.7 567.7,185.0 573.0,188.6 578.3,190.5 583.6,190.9 588.9,190.3 594.3,185.0 599.6,182.7 604.9,178.0 610.2,175.4 615.5,175.9 620.8,174.1 626.2,174.3 631.5,172.4 636.8,177.6 642.1,192.0 647.4,198.8 652.7,206.9 658.1,211.6 663.4,216.2 668.7,217.8 674.0,219.4 679.3,222.6 684.7,225.9 690.0,231.3 695.3,237.9 700.6,240.5 705.9,243.0 711.2,246.9 716.6,248.8 721.9,252.3 727.2,257.8 732.5,262.7 737.8,264.7 743.1,268.6 748.5,270.9 753.8,272.4 759.1,273.5 764.4,273.9 769.7,274.0 775.0,271.8 780.4,268.1 785.7,267.8 791.0,264.4 796.3,263.9 801.6,264.0 806.9,263.5 812.3,263.4 817.6,263.4 822.9,263.4 828.2,266.0 833.5,266.1 838.8,263.1 844.2,259.2 849.5,255.5 854.8,254.4 860.1,254.4 865.4,255.0 870.7,257.8 876.1,260.5 881.4,260.6 886.7,260.7 892.0,257.7 897.3,257.7 902.6,258.5 908.0,259.4 913.3,260.5 918.6,261.5 923.9,262.2 929.2,262.8 934.6,261.1 939.9,257.8 945.2,255.0 950.5,254.5 955.8,254.6 961.1,255.4 966.5,256.3 971.8,258.2 977.1,258.7 982.4,256.5 987.7,256.0 993.0,255.5 998.4,255.1 1003.7,254.8 1009.0,253.9 1014.3,254.2 1019.6,253.7 1024.9,252.3 1030.3,250.6 1035.6,248.6 1040.9,245.7 1046.2,243.0 1051.5,243.6 1056.8,244.0 1062.2,246.6 1067.5,248.9 1072.8,251.2 1078.1,256.1 1083.4,257.9 1088.7,258.7 1094.1,259.5 1099.4,262.7 1104.7,268.1 1110.0,279.0 1115.3,292.4 1120.6,300.9 1126.0,310.1 1131.3,319.4 1136.6,334.5 1141.9,341.4 1147.2,346.3 1152.5,350.5 1157.9,355.0 1163.2,359.7 1168.5,364.7 1173.8,368.5 1179.1,369.8 1184.4,370.9 1189.8,371.2 1195.1,368.0 1200.4,362.0 1205.7,356.9 1211.0,351.2 1216.4,348.8 1221.7,348.3 1227.0,345.7 1232.3,346.0 1237.6,347.0 1242.9,344.6 1248.3,344.5 1253.6,344.9 1258.9,344.6 1264.2,344.2 1269.5,344.3 1274.8,344.0 1280.2,344.9 1285.5,345.0 1290.8,344.6 1296.1,344.6 1301.4,344.9 1306.7,344.9 1312.1,344.8 1317.4,344.5 1322.7,344.4 1328.0,344.5 1333.3,344.4 1338.6,343.0 1344.0,344.8 1349.3,346.8 1354.6,346.8 1359.9,345.3 1365.2,344.3 1370.5,342.8 1375.9,341.8 1381.2,340.5 1386.5,340.5 1391.8,340.2 1397.1,339.7 1402.4,339.5 1407.8,338.4 1413.1,338.6 1418.4,338.7 1423.7,338.3 1429.0,337.8 1434.3,337.7 1439.7,337.7 1445.0,338.1 1450.3,336.0 1455.6,333.8 1460.9,334.2 1466.2,334.6 1471.6,334.8 1476.9,335.3 1482.2,335.7 1487.5,335.8 1492.8,337.5 1498.2,338.2 1503.5,338.4 1508.8,336.9 1514.1,336.0" fill="none" stroke="#d94cb8" stroke-width="1.1" stroke-linejoin="round" /></g><defs><clipPath id="cm"><rect x="0" y="6" width="1625" height="385"/></clipPath><clipPath id="ck"><rect x="0" y="392" width="1625" height="107"/></clipPath><clipPath id="cr"><rect x="0" y="500" width="1625" height="107"/></clipPath><clipPath id="cd"><rect x="0" y="608" width="1625" height="107"/></clipPath></defs><path d="M0 291.5H1625" stroke="#26a782" stroke-width="1" stroke-dasharray="5 5" stroke-dashoffset="0.8" shape-rendering="crispEdges"/><g clip-path="url(#ck)"><polyline points="-11.9,439.3 -6.6,443.1 -1.2,440.9 4.1,441.6 9.4,435.9 14.7,430.9 20.0,428.8 25.3,427.3 30.7,427.0 36.0,425.8 41.3,425.1 46.6,424.0 51.9,423.0 57.2,422.5 62.6,424.6 67.9,425.2 73.2,424.4 78.5,423.6 83.8,423.6 89.1,427.1 94.5,427.5 99.8,428.4 105.1,429.0 110.4,426.7 115.7,432.3 121.0,436.3 126.4,437.9 131.7,445.2 137.0,456.6 142.3,465.5 147.6,467.2 153.0,460.0 158.3,459.3 163.6,453.9 168.9,444.5 174.2,437.4 179.5,432.6 184.9,430.2 190.2,429.0 195.5,426.7 200.8,425.3 206.1,428.3 211.4,432.7 216.8,437.3 222.1,441.0 227.4,451.2 232.7,463.0 238.0,463.0 243.3,465.8 248.7,452.4 254.0,445.2 259.3,441.3 264.6,448.8 269.9,448.3 275.2,450.0 280.6,451.6 285.9,458.4 291.2,461.9 296.5,467.2 301.8,471.7 307.1,472.8 312.5,466.1 317.8,470.0 323.1,470.6 328.4,472.7 333.7,470.8 339.0,469.1 344.4,467.5 349.7,463.0 355.0,454.4 360.3,444.8 365.6,440.9 370.9,440.8 376.3,444.4 381.6,447.7 386.9,446.0 392.2,446.0 397.5,451.2 402.9,458.0 408.2,464.3 413.5,469.7 418.8,473.5 424.1,476.5 429.4,478.7 434.8,475.8 440.1,474.4 445.4,468.6 450.7,462.5 456.0,459.9 461.3,447.1 466.7,439.9 472.0,434.1 477.3,431.7 482.6,429.6 487.9,426.6 493.2,434.6 498.6,437.8 503.9,445.8 509.2,452.9 514.5,459.2 519.8,456.4 525.1,453.1 530.5,452.8 535.8,455.0 541.1,456.8 546.4,459.0 551.7,457.8 557.0,455.4 562.4,454.6 567.7,458.3 573.0,463.9 578.3,463.6 583.6,456.0 588.9,449.7 594.3,440.9 599.6,440.0 604.9,445.5 610.2,453.1 615.5,459.8 620.8,462.5 626.2,463.3 631.5,462.7 636.8,470.2 642.1,471.7 647.4,469.7 652.7,469.7 658.1,466.0 663.4,464.3 668.7,458.7 674.0,454.9 679.3,456.2 684.7,452.9 690.0,461.6 695.3,469.5 700.6,472.6 705.9,476.8 711.2,479.1 716.6,477.4 721.9,479.9 727.2,482.0 732.5,479.8 737.8,477.1 743.1,473.5 748.5,465.3 753.8,458.3 759.1,451.1 764.4,446.7 769.7,439.4 775.0,436.0 780.4,434.5 785.7,446.7 791.0,441.2 796.3,434.9 801.6,434.6 806.9,439.2 812.3,441.4 817.6,442.2 822.9,439.7 828.2,434.0 833.5,433.3 838.8,437.7 844.2,446.9 849.5,451.9 854.8,457.2 860.1,465.2 865.4,472.0 870.7,476.3 876.1,479.4 881.4,475.3 886.7,470.9 892.0,463.9 897.3,458.9 902.6,455.3 908.0,452.5 913.3,454.6 918.6,454.0 923.9,451.9 929.2,453.2 934.6,456.1 939.9,452.6 945.2,450.2 950.5,445.5 955.8,438.5 961.1,436.0 966.5,434.4 971.8,432.0 977.1,429.8 982.4,435.7 987.7,442.9 993.0,448.8 998.4,455.4 1003.7,460.3 1009.0,465.1 1014.3,454.2 1019.6,445.5 1024.9,442.2 1030.3,441.2 1035.6,440.0 1040.9,440.4 1046.2,446.7 1051.5,458.9 1056.8,465.1 1062.2,470.4 1067.5,473.6 1072.8,475.8 1078.1,478.7 1083.4,475.6 1088.7,469.1 1094.1,463.6 1099.4,468.3 1104.7,473.8 1110.0,472.9 1115.3,477.0 1120.6,475.8 1126.0,476.8 1131.3,479.4 1136.6,482.0 1141.9,478.1 1147.2,474.1 1152.5,470.4 1157.9,464.5 1163.2,462.0 1168.5,463.2 1173.8,462.1 1179.1,453.7 1184.4,444.7 1189.8,453.3 1195.1,455.8 1200.4,457.9 1205.7,463.0 1211.0,467.3 1216.4,467.9 1221.7,467.1 1227.0,469.1 1232.3,474.1 1237.6,473.3 1242.9,461.5 1248.3,455.3 1253.6,457.6 1258.9,456.9 1264.2,458.0 1269.5,457.5 1274.8,455.8 1280.2,448.0 1285.5,446.3 1290.8,450.0 1296.1,455.2 1301.4,460.9 1306.7,463.4 1312.1,462.6 1317.4,461.7 1322.7,460.0 1328.0,456.6 1333.3,453.4 1338.6,445.4 1344.0,438.8 1349.3,436.1 1354.6,440.4 1359.9,448.9 1365.2,453.7 1370.5,461.9 1375.9,470.3 1381.2,468.5 1386.5,466.8 1391.8,464.3 1397.1,469.5 1402.4,470.3 1407.8,470.3 1413.1,471.4 1418.4,468.4 1423.7,463.5 1429.0,455.7 1434.3,453.2 1439.7,452.0 1445.0,450.1 1450.3,446.3 1455.6,444.6 1460.9,438.7 1466.2,438.8 1471.6,439.5 1476.9,435.5 1482.2,434.0 1487.5,439.1 1492.8,434.1 1498.2,435.4 1503.5,433.6 1508.8,435.1 1514.1,432.3" fill="none" stroke="#cdcdcd" stroke-width="1.1" stroke-linejoin="round" /><polyline points="-11.9,438.0 -6.6,439.7 -1.2,440.1 4.1,440.6 9.4,439.0 14.7,436.3 20.0,433.8 25.3,431.6 30.7,430.1 36.0,428.7 41.3,427.5 46.6,426.3 51.9,425.2 57.2,424.3 62.6,424.4 67.9,424.7 73.2,424.6 78.5,424.3 83.8,424.1 89.1,425.1 94.5,425.9 99.8,426.7 105.1,427.5 110.4,427.2 115.7,428.9 121.0,431.4 126.4,433.6 131.7,437.4 137.0,443.8 142.3,451.0 147.6,456.4 153.0,457.6 158.3,458.2 163.6,456.8 168.9,452.7 174.2,447.6 179.5,442.6 184.9,438.5 190.2,435.3 195.5,432.4 200.8,430.0 206.1,429.5 211.4,430.5 216.8,432.8 222.1,435.5 227.4,440.8 232.7,448.2 238.0,453.1 243.3,457.3 248.7,455.7 254.0,452.2 259.3,448.6 264.6,448.6 269.9,448.5 275.2,449.0 280.6,449.9 285.9,452.7 291.2,455.8 296.5,459.6 301.8,463.7 307.1,466.7 312.5,466.5 317.8,467.7 323.1,468.6 328.4,470.0 333.7,470.3 339.0,469.9 344.4,469.1 349.7,467.1 355.0,462.8 360.3,456.8 365.6,451.5 370.9,448.0 376.3,446.8 381.6,447.1 386.9,446.7 392.2,446.5 397.5,448.0 402.9,451.4 408.2,455.7 413.5,460.4 418.8,464.7 424.1,468.7 429.4,472.0 434.8,473.3 440.1,473.6 445.4,471.9 450.7,468.8 456.0,465.8 461.3,459.6 466.7,453.0 472.0,446.7 477.3,441.7 482.6,437.7 487.9,434.0 493.2,434.2 498.6,435.4 503.9,438.9 509.2,443.6 514.5,448.8 519.8,451.3 525.1,451.9 530.5,452.2 535.8,453.1 541.1,454.4 546.4,455.9 551.7,456.5 557.0,456.1 562.4,455.6 567.7,456.5 573.0,459.0 578.3,460.5 583.6,459.0 588.9,455.9 594.3,450.9 599.6,447.3 604.9,446.7 610.2,448.8 615.5,452.5 620.8,455.8 626.2,458.3 631.5,459.8 636.8,463.3 642.1,466.1 647.4,467.3 652.7,468.1 658.1,467.4 663.4,466.4 668.7,463.8 674.0,460.8 679.3,459.3 684.7,457.2 690.0,458.7 695.3,462.3 700.6,465.7 705.9,469.4 711.2,472.7 716.6,474.3 721.9,476.1 727.2,478.1 732.5,478.7 737.8,478.1 743.1,476.6 748.5,472.8 753.8,468.0 759.1,462.3 764.4,457.1 769.7,451.2 775.0,446.1 780.4,442.2 785.7,443.7 791.0,442.9 796.3,440.2 801.6,438.3 806.9,438.6 812.3,439.5 817.6,440.4 822.9,440.2 828.2,438.1 833.5,436.5 838.8,436.9 844.2,440.2 849.5,444.1 854.8,448.5 860.1,454.0 865.4,460.0 870.7,465.5 876.1,470.1 881.4,471.8 886.7,471.5 892.0,469.0 897.3,465.6 902.6,462.2 908.0,459.0 913.3,457.5 918.6,456.3 923.9,454.9 929.2,454.3 934.6,454.9 939.9,454.1 945.2,452.8 950.5,450.4 955.8,446.4 961.1,442.9 966.5,440.1 971.8,437.4 977.1,434.9 982.4,435.2 987.7,437.7 993.0,441.4 998.4,446.1 1003.7,450.8 1009.0,455.6 1014.3,455.1 1019.6,451.9 1024.9,448.7 1030.3,446.2 1035.6,444.1 1040.9,442.9 1046.2,444.1 1051.5,449.0 1056.8,454.4 1062.2,459.8 1067.5,464.4 1072.8,468.2 1078.1,471.7 1083.4,473.0 1088.7,471.7 1094.1,469.0 1099.4,468.7 1104.7,470.4 1110.0,471.3 1115.3,473.2 1120.6,474.0 1126.0,475.0 1131.3,476.4 1136.6,478.3 1141.9,478.2 1147.2,476.9 1152.5,474.7 1157.9,471.3 1163.2,468.2 1168.5,466.5 1173.8,465.1 1179.1,461.3 1184.4,455.7 1189.8,454.9 1195.1,455.2 1200.4,456.1 1205.7,458.4 1211.0,461.4 1216.4,463.5 1221.7,464.7 1227.0,466.2 1232.3,468.8 1237.6,470.3 1242.9,467.4 1248.3,463.4 1253.6,461.4 1258.9,459.9 1264.2,459.3 1269.5,458.7 1274.8,457.7 1280.2,454.5 1285.5,451.8 1290.8,451.2 1296.1,452.5 1301.4,455.3 1306.7,458.0 1312.1,459.5 1317.4,460.2 1322.7,460.2 1328.0,459.0 1333.3,457.1 1338.6,453.2 1344.0,448.4 1349.3,444.3 1354.6,443.0 1359.9,445.0 1365.2,447.9 1370.5,452.6 1375.9,458.5 1381.2,461.8 1386.5,463.5 1391.8,463.8 1397.1,465.7 1402.4,467.2 1407.8,468.3 1413.1,469.3 1418.4,469.0 1423.7,467.2 1429.0,463.3 1434.3,459.9 1439.7,457.3 1445.0,454.9 1450.3,452.1 1455.6,449.6 1460.9,445.9 1466.2,443.6 1471.6,442.2 1476.9,440.0 1482.2,438.0 1487.5,438.4 1492.8,437.0 1498.2,436.4 1503.5,435.5 1508.8,435.4 1514.1,434.4" fill="none" stroke="#e6dc32" stroke-width="1.1" stroke-linejoin="round" /><polyline points="-11.9,441.7 -6.6,449.8 -1.2,442.4 4.1,443.5 9.4,429.6 14.7,420.1 20.0,418.7 25.3,418.7 30.7,420.9 36.0,420.0 41.3,420.5 46.6,419.4 51.9,418.6 57.2,418.9 62.6,424.9 67.9,426.3 73.2,423.9 78.5,422.4 83.8,422.8 89.1,431.3 94.5,430.8 99.8,431.6 105.1,432.0 110.4,425.6 115.7,439.1 121.0,446.3 126.4,446.6 131.7,460.6 137.0,482.1 142.3,494.4 147.6,488.7 153.0,464.8 158.3,461.5 163.6,448.2 168.9,428.1 174.2,417.0 179.5,412.5 184.9,413.8 190.2,416.5 195.5,415.2 200.8,415.7 206.1,426.0 211.4,436.9 216.8,446.4 222.1,452.0 227.4,472.1 232.7,492.6 238.0,482.8 243.3,482.7 248.7,445.7 254.0,431.3 259.3,426.7 264.6,449.1 269.9,447.9 275.2,451.9 280.6,455.1 285.9,469.7 291.2,474.2 296.5,482.5 301.8,487.9 307.1,485.0 312.5,465.4 317.8,474.7 323.1,474.4 328.4,478.2 333.7,471.8 339.0,467.5 344.4,464.3 349.7,455.0 355.0,437.5 360.3,420.8 365.6,419.7 370.9,426.5 376.3,439.7 381.6,448.9 386.9,444.6 392.2,445.0 397.5,457.4 402.9,471.2 408.2,481.5 413.5,488.5 418.8,491.0 424.1,492.2 429.4,492.2 434.8,480.8 440.1,475.8 445.4,461.8 450.7,449.8 456.0,448.0 461.3,422.2 466.7,413.6 472.0,408.9 477.3,411.6 482.6,413.4 487.9,411.9 493.2,435.5 498.6,442.6 503.9,459.8 509.2,471.7 514.5,480.0 519.8,466.5 525.1,455.5 530.5,454.0 535.8,458.7 541.1,461.7 546.4,465.2 551.7,460.2 557.0,453.8 562.4,452.6 567.7,462.0 573.0,473.6 578.3,469.8 583.6,449.9 588.9,437.2 594.3,420.9 599.6,425.4 604.9,443.2 610.2,461.7 615.5,474.5 620.8,475.9 626.2,473.4 631.5,468.6 636.8,484.1 642.1,483.0 647.4,474.5 652.7,472.9 658.1,463.3 663.4,460.1 668.7,448.4 674.0,443.1 679.3,450.0 684.7,444.3 690.0,467.6 695.3,484.0 700.6,486.5 705.9,491.6 711.2,492.1 716.6,483.8 721.9,487.4 727.2,489.9 732.5,482.2 737.8,474.9 743.1,467.3 748.5,450.2 753.8,438.9 759.1,428.5 764.4,425.8 769.7,415.7 775.0,415.8 780.4,418.9 785.7,452.5 791.0,437.8 796.3,424.2 801.6,427.1 806.9,440.3 812.3,445.0 817.6,445.7 822.9,438.7 828.2,425.7 833.5,426.8 838.8,439.3 844.2,460.4 849.5,467.3 854.8,474.7 860.1,487.5 865.4,495.8 870.7,498.1 876.1,497.9 881.4,482.3 886.7,469.7 892.0,453.7 897.3,445.4 902.6,441.6 908.0,439.7 913.3,448.8 918.6,449.4 923.9,446.0 929.2,450.9 934.6,458.4 939.9,449.4 945.2,445.1 950.5,435.7 955.8,422.6 961.1,422.2 966.5,423.0 971.8,421.3 977.1,419.7 982.4,436.7 987.7,453.2 993.0,463.5 998.4,474.1 1003.7,479.3 1009.0,484.1 1014.3,452.3 1019.6,432.6 1024.9,429.2 1030.3,431.4 1035.6,431.7 1040.9,435.5 1046.2,451.7 1051.5,478.5 1056.8,486.6 1062.2,491.8 1067.5,492.0 1072.8,491.1 1078.1,492.6 1083.4,480.8 1088.7,464.0 1094.1,452.8 1099.4,467.3 1104.7,480.6 1110.0,476.2 1115.3,484.5 1120.6,479.3 1126.0,480.5 1131.3,485.3 1136.6,489.4 1141.9,477.9 1147.2,468.7 1152.5,461.7 1157.9,450.9 1163.2,449.7 1168.5,456.5 1173.8,456.2 1179.1,438.4 1184.4,422.6 1189.8,450.0 1195.1,457.0 1200.4,461.5 1205.7,472.3 1211.0,479.1 1216.4,476.5 1221.7,471.9 1227.0,474.8 1232.3,484.6 1237.6,479.3 1242.9,449.8 1248.3,439.2 1253.6,449.9 1258.9,450.8 1264.2,455.5 1269.5,455.1 1274.8,452.0 1280.2,435.0 1285.5,435.4 1290.8,447.7 1296.1,460.5 1301.4,472.2 1306.7,474.1 1312.1,468.7 1317.4,464.6 1322.7,459.7 1328.0,451.9 1333.3,445.8 1338.6,429.8 1344.0,419.5 1349.3,419.8 1354.6,435.3 1359.9,456.8 1365.2,465.3 1370.5,480.6 1375.9,493.8 1381.2,482.0 1386.5,473.4 1391.8,465.5 1397.1,477.2 1402.4,476.6 1407.8,474.4 1413.1,475.6 1418.4,467.2 1423.7,456.1 1429.0,440.5 1434.3,439.6 1439.7,441.5 1445.0,440.6 1450.3,434.9 1455.6,434.6 1460.9,424.2 1466.2,429.4 1471.6,434.0 1476.9,426.6 1482.2,426.2 1487.5,440.6 1492.8,428.5 1498.2,433.2 1503.5,429.9 1508.8,434.6 1514.1,428.3" fill="none" stroke="#d94cb8" stroke-width="1.1" stroke-linejoin="round" /></g><g clip-path="url(#cr)"><polyline points="-11.9,561.3 -6.6,560.6 -1.2,553.0 4.1,558.1 9.4,548.8 14.7,536.9 20.0,530.0 25.3,529.8 30.7,533.0 36.0,531.6 41.3,529.8 46.6,525.7 51.9,522.1 57.2,521.2 62.6,520.6 67.9,520.2 73.2,519.3 78.5,519.2 83.8,523.1 89.1,545.3 94.5,540.4 99.8,539.5 105.1,538.4 110.4,532.0 115.7,545.7 121.0,546.6 126.4,544.8 131.7,564.3 137.0,583.0 142.3,588.3 147.6,574.3 153.0,556.2 158.3,564.8 163.6,559.5 168.9,546.7 174.2,541.1 179.5,535.2 184.9,537.8 190.2,539.6 195.5,530.2 200.8,527.8 206.1,546.2 211.4,554.2 216.8,554.9 222.1,552.2 227.4,564.5 232.7,578.0 238.0,561.9 243.3,567.0 248.7,544.7 254.0,548.1 259.3,547.7 264.6,568.8 269.9,559.6 275.2,563.4 280.6,564.4 285.9,571.9 291.2,569.6 296.5,568.4 301.8,574.3 307.1,571.3 312.5,560.6 317.8,572.9 323.1,571.9 328.4,574.3 333.7,570.4 339.0,569.7 344.4,568.9 349.7,562.1 355.0,550.3 360.3,534.8 365.6,539.6 370.9,549.0 376.3,561.0 381.6,562.2 386.9,552.7 392.2,554.3 397.5,569.5 402.9,568.1 408.2,572.1 413.5,591.5 418.8,592.6 424.1,593.3 429.4,601.7 434.8,581.6 440.1,582.6 445.4,568.7 450.7,562.5 456.0,568.7 461.3,553.0 466.7,545.7 472.0,544.3 477.3,548.1 482.6,546.1 487.9,537.3 493.2,562.4 498.6,557.0 503.9,569.1 509.2,589.1 514.5,591.1 519.8,567.1 525.1,563.6 530.5,568.6 535.8,574.5 541.1,578.1 546.4,580.7 551.7,576.1 557.0,567.7 562.4,568.0 567.7,575.7 573.0,580.5 578.3,573.7 583.6,565.4 588.9,563.4 594.3,547.8 599.6,551.4 604.9,565.6 610.2,572.5 615.5,579.4 620.8,574.0 626.2,570.9 631.5,567.0 636.8,588.2 642.1,596.8 647.4,583.6 652.7,587.4 658.1,576.9 663.4,578.4 668.7,564.5 674.0,564.5 679.3,575.0 684.7,576.3 690.0,585.5 695.3,590.3 700.6,584.2 705.9,587.6 711.2,590.3 716.6,578.0 721.9,584.1 727.2,592.3 732.5,594.5 737.8,593.0 743.1,588.1 748.5,568.1 753.8,566.9 759.1,560.1 764.4,561.5 769.7,558.8 775.0,565.5 780.4,564.6 785.7,586.5 791.0,561.1 796.3,548.2 801.6,554.5 806.9,564.8 812.3,563.0 817.6,561.5 822.9,554.5 828.2,541.6 833.5,541.4 838.8,554.3 844.2,569.8 849.5,566.5 854.8,571.4 860.1,580.1 865.4,580.1 870.7,588.8 876.1,589.1 881.4,566.6 886.7,566.0 892.0,563.2 897.3,562.5 902.6,569.9 908.0,572.3 913.3,578.4 918.6,573.2 923.9,568.0 929.2,566.6 934.6,570.6 939.9,559.9 945.2,561.0 950.5,551.7 955.8,535.1 961.1,534.7 966.5,533.3 971.8,527.6 977.1,524.9 982.4,556.3 987.7,565.5 993.0,568.4 998.4,568.4 1003.7,562.3 1009.0,566.6 1014.3,539.7 1019.6,537.6 1024.9,545.9 1030.3,550.0 1035.6,548.8 1040.9,553.9 1046.2,572.0 1051.5,591.8 1056.8,585.3 1062.2,587.2 1067.5,586.2 1072.8,586.6 1078.1,595.5 1083.4,574.6 1088.7,563.1 1094.1,564.9 1099.4,581.9 1104.7,588.5 1110.0,596.9 1115.3,600.3 1120.6,591.5 1126.0,594.8 1131.3,596.8 1136.6,602.3 1141.9,581.6 1147.2,579.7 1152.5,579.3 1157.9,577.7 1163.2,582.7 1168.5,586.8 1173.8,586.0 1179.1,571.6 1184.4,567.4 1189.8,578.1 1195.1,573.9 1200.4,574.4 1205.7,578.2 1211.0,579.3 1216.4,574.7 1221.7,572.2 1227.0,575.9 1232.3,588.7 1237.6,589.0 1242.9,552.4 1248.3,556.5 1253.6,570.4 1258.9,565.3 1264.2,568.8 1269.5,565.3 1274.8,561.6 1280.2,543.9 1285.5,554.3 1290.8,563.8 1296.1,569.5 1301.4,574.1 1306.7,564.3 1312.1,558.1 1317.4,557.0 1322.7,554.8 1328.0,550.0 1333.3,547.9 1338.6,538.6 1344.0,528.0 1349.3,536.3 1354.6,556.9 1359.9,566.4 1365.2,564.3 1370.5,572.9 1375.9,577.0 1381.2,561.7 1386.5,560.3 1391.8,558.7 1397.1,575.3 1402.4,582.6 1407.8,580.8 1413.1,582.6 1418.4,570.4 1423.7,562.4 1429.0,552.6 1434.3,560.3 1439.7,562.1 1445.0,563.8 1450.3,556.7 1455.6,559.5 1460.9,539.4 1466.2,548.5 1471.6,550.2 1476.9,543.4 1482.2,538.9 1487.5,558.9 1492.8,542.1 1498.2,550.0 1503.5,545.8 1508.8,547.6 1514.1,539.6" fill="none" stroke="#cdcdcd" stroke-width="1.1" stroke-linejoin="round" /><polyline points="-11.9,562.6 -6.6,562.2 -1.2,558.3 4.1,560.5 9.4,555.7 14.7,547.5 20.0,541.1 25.3,540.8 30.7,542.3 36.0,541.2 41.3,539.8 46.6,535.9 51.9,531.2 57.2,529.6 62.6,528.7 67.9,528.0 73.2,526.2 78.5,526.1 83.8,527.9 89.1,538.9 94.5,536.9 99.8,536.5 105.1,536.1 110.4,533.3 115.7,540.0 121.0,540.5 126.4,539.9 131.7,549.9 137.0,563.5 142.3,568.5 147.6,562.8 153.0,554.0 158.3,559.4 163.6,556.7 168.9,549.5 174.2,545.8 179.5,541.5 184.9,542.9 190.2,543.7 195.5,537.0 200.8,534.9 206.1,545.0 211.4,549.7 216.8,550.2 222.1,548.9 227.4,555.6 232.7,564.4 238.0,557.2 243.3,560.3 248.7,547.9 254.0,549.8 259.3,549.5 264.6,561.8 269.9,557.1 275.2,559.3 280.6,559.8 285.9,564.0 291.2,563.1 296.5,562.6 301.8,565.5 307.1,564.5 312.5,560.6 317.8,566.0 323.1,565.7 328.4,566.7 333.7,565.5 339.0,565.3 344.4,565.1 349.7,563.1 355.0,558.9 360.3,549.9 365.6,551.6 370.9,555.0 376.3,559.8 381.6,560.3 386.9,556.4 392.2,557.0 397.5,563.3 402.9,562.7 408.2,564.5 413.5,576.4 418.8,577.3 424.1,577.9 429.4,586.4 434.8,577.0 440.1,577.6 445.4,570.7 450.7,567.3 456.0,570.1 461.3,561.2 466.7,556.2 472.0,555.2 477.3,556.8 482.6,555.6 487.9,549.7 493.2,561.5 498.6,558.6 503.9,565.1 509.2,579.5 514.5,581.3 519.8,567.6 525.1,565.4 530.5,568.3 535.8,571.6 541.1,573.7 546.4,575.2 551.7,573.2 557.0,569.4 562.4,569.5 567.7,572.8 573.0,575.0 578.3,572.4 583.6,569.0 588.9,568.1 594.3,560.2 599.6,561.5 604.9,566.9 610.2,570.0 615.5,573.4 620.8,571.2 626.2,570.0 631.5,568.4 636.8,579.1 642.1,586.0 647.4,579.5 652.7,581.9 658.1,576.6 663.4,577.3 668.7,570.1 674.0,570.1 679.3,574.8 684.7,575.3 690.0,580.0 695.3,582.9 700.6,580.3 705.9,582.1 711.2,583.6 716.6,578.5 721.9,581.3 727.2,585.8 732.5,587.3 737.8,586.7 743.1,584.7 748.5,575.8 753.8,575.3 759.1,571.9 764.4,572.3 769.7,571.0 775.0,572.9 780.4,572.6 785.7,580.9 791.0,568.6 796.3,560.0 801.6,562.8 806.9,567.6 812.3,566.6 817.6,565.9 822.9,562.3 828.2,554.1 833.5,554.0 838.8,559.1 844.2,566.5 849.5,565.0 854.8,567.4 860.1,572.1 865.4,572.1 870.7,577.4 876.1,577.6 881.4,568.2 886.7,567.9 892.0,566.7 897.3,566.4 902.6,569.1 908.0,570.0 913.3,572.4 918.6,570.7 923.9,569.0 929.2,568.5 934.6,569.7 939.9,566.2 945.2,566.5 950.5,563.1 955.8,553.1 961.1,552.8 966.5,551.7 971.8,546.1 977.1,542.5 982.4,556.5 987.7,561.6 993.0,563.2 998.4,563.2 1003.7,560.7 1009.0,562.6 1014.3,548.0 1019.6,546.4 1024.9,550.3 1030.3,552.3 1035.6,551.7 1040.9,553.8 1046.2,562.9 1051.5,578.1 1056.8,575.0 1062.2,576.4 1067.5,576.0 1072.8,576.3 1078.1,583.0 1083.4,573.1 1088.7,566.8 1094.1,567.7 1099.4,577.1 1104.7,581.6 1110.0,588.6 1115.3,592.1 1120.6,587.2 1126.0,589.6 1131.3,591.1 1136.6,596.0 1141.9,583.6 1147.2,582.4 1152.5,582.2 1157.9,581.4 1163.2,583.5 1168.5,585.5 1173.8,585.2 1179.1,578.6 1184.4,576.5 1189.8,580.5 1195.1,578.6 1200.4,578.7 1205.7,580.0 1211.0,580.4 1216.4,578.8 1221.7,577.9 1227.0,578.9 1232.3,583.5 1237.6,583.6 1242.9,566.9 1248.3,568.4 1253.6,573.8 1258.9,571.2 1264.2,572.6 1269.5,571.0 1274.8,569.3 1280.2,559.1 1285.5,563.0 1290.8,567.0 1296.1,569.5 1301.4,571.6 1306.7,567.3 1312.1,564.3 1317.4,563.7 1322.7,562.7 1328.0,560.4 1333.3,559.4 1338.6,554.0 1344.0,544.1 1349.3,547.6 1354.6,557.4 1359.9,562.6 1365.2,561.6 1370.5,566.3 1375.9,568.6 1381.2,561.7 1386.5,561.0 1391.8,560.3 1397.1,568.4 1402.4,572.8 1407.8,572.1 1413.1,573.1 1418.4,568.4 1423.7,564.9 1429.0,560.1 1434.3,563.2 1439.7,563.9 1445.0,564.5 1450.3,561.6 1455.6,562.6 1460.9,551.9 1466.2,555.6 1471.6,556.3 1476.9,552.5 1482.2,549.7 1487.5,558.3 1492.8,548.6 1498.2,552.6 1503.5,550.1 1508.8,551.0 1514.1,546.3" fill="none" stroke="#e6dc32" stroke-width="1.1" stroke-linejoin="round" /><polyline points="-11.9,562.2 -6.6,562.0 -1.2,560.0 4.1,561.0 9.4,558.5 14.7,553.7 20.0,549.1 25.3,549.0 30.7,549.6 36.0,548.9 41.3,547.9 46.6,545.1 51.9,540.9 57.2,539.4 62.6,538.4 67.9,537.7 73.2,535.7 78.5,535.6 83.8,536.5 89.1,542.1 94.5,540.8 99.8,540.5 105.1,540.3 110.4,538.4 115.7,541.8 121.0,542.0 126.4,541.7 131.7,546.7 137.0,554.7 142.3,558.0 147.6,555.4 153.0,551.1 158.3,554.4 163.6,553.0 168.9,549.1 174.2,546.9 179.5,544.1 184.9,544.9 190.2,545.4 195.5,541.0 200.8,539.4 206.1,545.4 211.4,548.2 216.8,548.5 222.1,547.8 227.4,551.8 232.7,557.3 238.0,553.6 243.3,555.5 248.7,548.4 254.0,549.6 259.3,549.4 264.6,557.1 269.9,554.5 275.2,555.9 280.6,556.2 285.9,558.8 291.2,558.4 296.5,558.2 301.8,559.8 307.1,559.3 312.5,557.6 317.8,560.5 323.1,560.4 328.4,561.0 333.7,560.5 339.0,560.4 344.4,560.3 349.7,559.5 355.0,557.9 360.3,553.8 365.6,554.5 370.9,556.0 376.3,558.1 381.6,558.3 386.9,556.7 392.2,556.9 397.5,559.6 402.9,559.4 408.2,560.2 413.5,566.2 418.8,566.7 424.1,567.0 429.4,572.5 434.8,568.7 440.1,569.1 445.4,566.1 450.7,564.6 456.0,566.1 461.3,561.9 466.7,559.3 472.0,558.8 477.3,559.5 482.6,558.9 487.9,555.8 493.2,561.3 498.6,559.8 503.9,563.2 509.2,572.1 514.5,573.3 519.8,566.0 525.1,564.7 530.5,566.4 535.8,568.4 541.1,569.7 546.4,570.6 551.7,569.6 557.0,567.7 562.4,567.8 567.7,569.5 573.0,570.8 578.3,569.6 583.6,568.0 588.9,567.6 594.3,563.8 599.6,564.3 604.9,566.8 610.2,568.3 615.5,569.9 620.8,569.0 626.2,568.5 631.5,567.8 636.8,573.1 642.1,577.4 647.4,574.4 652.7,575.9 658.1,573.3 663.4,573.8 668.7,570.3 674.0,570.3 679.3,572.6 684.7,572.9 690.0,575.4 695.3,577.0 700.6,575.8 705.9,576.8 711.2,577.6 716.6,575.5 721.9,576.9 727.2,579.5 732.5,580.4 737.8,580.1 743.1,579.3 748.5,575.5 753.8,575.2 759.1,573.7 764.4,573.9 769.7,573.3 775.0,574.1 780.4,573.9 785.7,577.4 791.0,572.0 796.3,567.5 801.6,568.6 806.9,570.7 812.3,570.2 817.6,569.8 822.9,568.1 828.2,563.6 833.5,563.5 838.8,565.6 844.2,568.7 849.5,568.0 854.8,569.0 860.1,571.1 865.4,571.1 870.7,573.6 876.1,573.7 881.4,569.6 886.7,569.5 892.0,568.9 897.3,568.8 902.6,569.9 908.0,570.2 913.3,571.2 918.6,570.5 923.9,569.9 929.2,569.7 934.6,570.1 939.9,568.9 945.2,568.9 950.5,567.7 955.8,563.5 961.1,563.4 966.5,562.9 971.8,560.0 977.1,557.9 982.4,562.6 987.7,564.6 993.0,565.3 998.4,565.3 1003.7,564.2 1009.0,564.9 1014.3,557.6 1019.6,556.6 1024.9,558.2 1030.3,558.9 1035.6,558.6 1040.9,559.4 1046.2,563.1 1051.5,571.0 1056.8,569.6 1062.2,570.4 1067.5,570.3 1072.8,570.4 1078.1,574.3 1083.4,569.9 1088.7,566.8 1094.1,567.2 1099.4,572.3 1104.7,575.2 1110.0,580.3 1115.3,583.1 1120.6,580.5 1126.0,582.4 1131.3,583.5 1136.6,587.7 1141.9,580.6 1147.2,579.9 1152.5,579.8 1157.9,579.3 1163.2,580.6 1168.5,581.8 1173.8,581.7 1179.1,578.3 1184.4,577.3 1189.8,579.3 1195.1,578.3 1200.4,578.4 1205.7,579.1 1211.0,579.2 1216.4,578.5 1221.7,578.2 1227.0,578.6 1232.3,580.6 1237.6,580.6 1242.9,573.1 1248.3,573.7 1253.6,575.9 1258.9,574.7 1264.2,575.3 1269.5,574.5 1274.8,573.8 1280.2,568.7 1285.5,570.1 1290.8,571.7 1296.1,572.7 1301.4,573.6 1306.7,571.6 1312.1,570.1 1317.4,569.9 1322.7,569.4 1328.0,568.3 1333.3,567.8 1338.6,565.2 1344.0,559.1 1349.3,560.4 1354.6,564.1 1359.9,566.4 1365.2,565.9 1370.5,567.9 1375.9,569.0 1381.2,565.6 1386.5,565.3 1391.8,564.9 1397.1,568.4 1402.4,570.5 1407.8,570.2 1413.1,570.7 1418.4,568.6 1423.7,567.1 1429.0,564.8 1434.3,566.0 1439.7,566.3 1445.0,566.6 1450.3,565.3 1455.6,565.7 1460.9,560.6 1466.2,562.0 1471.6,562.2 1476.9,560.3 1482.2,558.8 1487.5,562.1 1492.8,556.9 1498.2,558.6 1503.5,557.2 1508.8,557.5 1514.1,554.8" fill="none" stroke="#d94cb8" stroke-width="1.1" stroke-linejoin="round" /></g><g clip-path="url(#cd)"><path d="M2.5 667.3h3.2v4.0h-3.2zM34.4 656.2h3.2v15.1h-3.2zM39.7 656.5h3.2v14.8h-3.2zM76.9 646.5h3.2v24.8h-3.2zM82.2 649.2h3.2v22.1h-3.2zM87.5 654.9h3.2v16.4h-3.2zM92.9 658.4h3.2v12.9h-3.2zM98.2 661.6h3.2v9.7h-3.2zM103.5 664.6h3.2v6.7h-3.2zM108.8 665.2h3.2v6.1h-3.2zM114.1 667.9h3.2v3.4h-3.2zM119.4 670.6h3.2v1.0h-3.2zM204.5 653.2h3.2v18.1h-3.2zM209.8 658.0h3.2v13.3h-3.2zM215.2 662.6h3.2v8.7h-3.2zM220.5 665.7h3.2v5.6h-3.2zM252.4 670.3h3.2v1.0h-3.2zM358.7 671.0h3.2v1.0h-3.2zM374.7 668.4h3.2v2.9h-3.2zM380.0 669.8h3.2v1.5h-3.2zM390.6 669.6h3.2v1.7h-3.2zM491.6 659.7h3.2v11.6h-3.2zM497.0 660.8h3.2v10.5h-3.2zM502.3 664.9h3.2v6.4h-3.2zM603.3 664.3h3.2v7.0h-3.2zM608.6 666.5h3.2v4.8h-3.2zM613.9 669.6h3.2v1.7h-3.2zM619.2 670.7h3.2v1.0h-3.2zM624.6 670.7h3.2v1.0h-3.2zM752.2 670.6h3.2v1.0h-3.2zM784.1 663.5h3.2v7.8h-3.2zM805.3 657.7h3.2v13.6h-3.2zM810.7 658.6h3.2v12.7h-3.2zM816.0 659.3h3.2v12.0h-3.2zM837.2 655.0h3.2v16.3h-3.2zM842.6 659.2h3.2v12.1h-3.2zM847.9 661.8h3.2v9.5h-3.2zM853.2 664.7h3.2v6.6h-3.2zM858.5 668.6h3.2v2.7h-3.2zM863.8 671.1h3.2v1.0h-3.2zM895.7 671.1h3.2v1.0h-3.2zM906.4 671.1h3.2v1.0h-3.2zM922.3 671.0h3.2v1.0h-3.2zM980.8 661.2h3.2v10.1h-3.2zM986.1 663.9h3.2v7.4h-3.2zM991.4 666.4h3.2v4.9h-3.2zM996.8 668.3h3.2v3.0h-3.2zM1002.1 669.1h3.2v2.2h-3.2zM1007.4 670.1h3.2v1.2h-3.2zM1028.7 664.8h3.2v6.5h-3.2zM1034.0 665.5h3.2v5.8h-3.2zM1039.3 666.7h3.2v4.6h-3.2zM1044.6 669.5h3.2v1.8h-3.2zM1182.8 670.0h3.2v1.3h-3.2zM1230.7 664.3h3.2v7.0h-3.2zM1236.0 665.1h3.2v6.2h-3.2zM1252.0 661.1h3.2v10.2h-3.2zM1257.3 661.2h3.2v10.1h-3.2zM1262.6 661.8h3.2v9.5h-3.2zM1267.9 661.9h3.2v9.4h-3.2zM1289.2 660.2h3.2v11.1h-3.2zM1294.5 662.0h3.2v9.3h-3.2zM1299.8 664.0h3.2v7.3h-3.2zM1305.1 664.4h3.2v6.9h-3.2zM1353.0 659.6h3.2v11.7h-3.2zM1358.3 662.7h3.2v8.6h-3.2zM1363.6 664.8h3.2v6.5h-3.2zM1368.9 667.7h3.2v3.6h-3.2zM1374.3 670.3h3.2v1.0h-3.2zM1379.6 670.3h3.2v1.0h-3.2zM1438.1 671.2h3.2v1.0h-3.2zM1485.9 666.6h3.2v4.7h-3.2zM1496.6 665.0h3.2v6.3h-3.2zM1507.2 665.1h3.2v6.2h-3.2z" fill="#26a782" stroke="#26a782" stroke-width="1"/><path d="M-2.8 667.0h3.2v4.3h-3.2zM7.8 666.5h3.2v4.8h-3.2zM13.1 663.4h3.2v7.9h-3.2zM18.4 658.7h3.2v12.6h-3.2zM23.7 656.4h3.2v14.9h-3.2zM29.1 656.0h3.2v15.3h-3.2zM45.0 655.4h3.2v15.9h-3.2zM50.3 651.7h3.2v19.6h-3.2zM55.6 648.8h3.2v22.5h-3.2zM61.0 647.2h3.2v24.1h-3.2zM66.3 647.0h3.2v24.3h-3.2zM71.6 645.7h3.2v25.6h-3.2zM177.9 666.7h3.2v4.6h-3.2zM183.3 663.4h3.2v7.9h-3.2zM188.6 662.6h3.2v8.7h-3.2zM193.9 656.5h3.2v14.8h-3.2zM199.2 651.1h3.2v20.2h-3.2zM257.7 668.1h3.2v3.2h-3.2zM364.0 667.5h3.2v3.8h-3.2zM369.3 666.8h3.2v4.5h-3.2zM385.3 669.4h3.2v1.9h-3.2zM465.1 667.7h3.2v3.6h-3.2zM470.4 663.3h3.2v8.0h-3.2zM475.7 661.4h3.2v9.9h-3.2zM481.0 660.1h3.2v11.2h-3.2zM486.3 656.8h3.2v14.5h-3.2zM592.7 666.4h3.2v4.9h-3.2zM598.0 663.5h3.2v7.8h-3.2zM629.9 670.1h3.2v1.2h-3.2zM757.5 666.5h3.2v4.8h-3.2zM762.8 663.8h3.2v7.5h-3.2zM768.1 661.5h3.2v9.8h-3.2zM773.4 660.8h3.2v10.5h-3.2zM778.8 660.3h3.2v11.0h-3.2zM789.4 661.9h3.2v9.4h-3.2zM794.7 657.5h3.2v13.8h-3.2zM800.0 656.2h3.2v15.1h-3.2zM821.3 658.7h3.2v12.6h-3.2zM826.6 655.3h3.2v16.0h-3.2zM831.9 653.7h3.2v17.6h-3.2zM901.0 671.0h3.2v1.0h-3.2zM927.6 670.5h3.2v1.0h-3.2zM933.0 670.3h3.2v1.0h-3.2zM938.3 669.5h3.2v1.8h-3.2zM943.6 669.0h3.2v2.3h-3.2zM948.9 668.1h3.2v3.2h-3.2zM954.2 665.5h3.2v5.8h-3.2zM959.5 663.9h3.2v7.4h-3.2zM964.9 663.0h3.2v8.3h-3.2zM970.2 661.3h3.2v10.0h-3.2zM975.5 659.4h3.2v11.9h-3.2zM1012.7 666.9h3.2v4.4h-3.2zM1018.0 664.5h3.2v6.8h-3.2zM1023.3 664.2h3.2v7.1h-3.2zM1188.2 669.0h3.2v2.3h-3.2zM1193.5 667.4h3.2v3.9h-3.2zM1198.8 666.0h3.2v5.3h-3.2zM1204.1 665.5h3.2v5.8h-3.2zM1209.4 665.0h3.2v6.3h-3.2zM1214.8 664.1h3.2v7.2h-3.2zM1220.1 663.1h3.2v8.2h-3.2zM1225.4 662.8h3.2v8.5h-3.2zM1241.3 661.8h3.2v9.5h-3.2zM1246.7 660.2h3.2v11.1h-3.2zM1273.2 661.7h3.2v9.6h-3.2zM1278.6 659.2h3.2v12.1h-3.2zM1283.9 658.9h3.2v12.4h-3.2zM1310.5 664.1h3.2v7.2h-3.2zM1315.8 664.0h3.2v7.3h-3.2zM1321.1 663.9h3.2v7.4h-3.2zM1326.4 663.6h3.2v7.7h-3.2zM1331.7 663.4h3.2v7.9h-3.2zM1337.0 662.3h3.2v9.0h-3.2zM1342.4 658.7h3.2v12.6h-3.2zM1347.7 657.7h3.2v13.6h-3.2zM1384.9 670.2h3.2v1.1h-3.2zM1390.2 670.1h3.2v1.2h-3.2zM1443.4 671.1h3.2v1.0h-3.2zM1448.7 670.5h3.2v1.0h-3.2zM1454.0 670.3h3.2v1.0h-3.2zM1459.3 667.9h3.2v3.4h-3.2zM1464.7 667.2h3.2v4.1h-3.2zM1470.0 667.0h3.2v4.3h-3.2zM1475.3 666.3h3.2v5.0h-3.2zM1480.6 665.5h3.2v5.8h-3.2zM1491.2 664.9h3.2v6.4h-3.2zM1501.9 664.7h3.2v6.6h-3.2zM1512.5 664.2h3.2v7.1h-3.2z" fill="#111111" stroke="#26a782" stroke-width="1"/><path d="M151.4 671.3h3.2v16.2h-3.2zM156.7 671.3h3.2v15.7h-3.2zM162.0 671.3h3.2v13.8h-3.2zM167.3 671.3h3.2v8.4h-3.2zM172.6 671.3h3.2v2.4h-3.2zM225.8 671.3h3.2v1.0h-3.2zM247.1 671.3h3.2v3.1h-3.2zM310.9 671.3h3.2v14.3h-3.2zM321.5 671.3h3.2v15.1h-3.2zM326.8 671.3h3.2v15.1h-3.2zM332.1 671.3h3.2v14.1h-3.2zM337.4 671.3h3.2v12.8h-3.2zM342.8 671.3h3.2v11.5h-3.2zM348.1 671.3h3.2v9.5h-3.2zM353.4 671.3h3.2v6.3h-3.2zM395.9 671.3h3.2v1.0h-3.2zM433.2 671.3h3.2v20.0h-3.2zM438.5 671.3h3.2v19.0h-3.2zM443.8 671.3h3.2v15.1h-3.2zM449.1 671.3h3.2v10.5h-3.2zM454.4 671.3h3.2v8.2h-3.2zM459.7 671.3h3.2v2.6h-3.2zM507.6 671.3h3.2v6.0h-3.2zM518.2 671.3h3.2v12.7h-3.2zM523.5 671.3h3.2v9.0h-3.2zM528.9 671.3h3.2v8.2h-3.2zM550.1 671.3h3.2v12.4h-3.2zM555.4 671.3h3.2v9.2h-3.2zM560.8 671.3h3.2v6.6h-3.2zM566.1 671.3h3.2v6.4h-3.2zM576.7 671.3h3.2v5.9h-3.2zM582.0 671.3h3.2v3.1h-3.2zM587.3 671.3h3.2v1.0h-3.2zM656.5 671.3h3.2v13.9h-3.2zM661.8 671.3h3.2v12.2h-3.2zM667.1 671.3h3.2v7.0h-3.2zM672.4 671.3h3.2v3.0h-3.2zM677.7 671.3h3.2v2.7h-3.2zM683.1 671.3h3.2v2.3h-3.2zM715.0 671.3h3.2v6.3h-3.2zM720.3 671.3h3.2v5.9h-3.2zM736.2 671.3h3.2v9.7h-3.2zM741.5 671.3h3.2v8.0h-3.2zM746.9 671.3h3.2v3.3h-3.2zM879.8 671.3h3.2v4.1h-3.2zM885.1 671.3h3.2v2.6h-3.2zM890.4 671.3h3.2v1.0h-3.2zM917.0 671.3h3.2v1.0h-3.2zM1081.8 671.3h3.2v11.6h-3.2zM1087.1 671.3h3.2v8.4h-3.2zM1092.5 671.3h3.2v6.2h-3.2zM1140.3 671.3h3.2v25.7h-3.2zM1145.6 671.3h3.2v21.4h-3.2zM1150.9 671.3h3.2v17.0h-3.2zM1156.3 671.3h3.2v12.5h-3.2zM1161.6 671.3h3.2v10.0h-3.2zM1166.9 671.3h3.2v8.7h-3.2zM1172.2 671.3h3.2v6.7h-3.2zM1177.5 671.3h3.2v2.6h-3.2zM1395.5 671.3h3.2v1.0h-3.2zM1416.8 671.3h3.2v4.5h-3.2zM1422.1 671.3h3.2v3.2h-3.2zM1427.4 671.3h3.2v1.1h-3.2zM1432.7 671.3h3.2v1.0h-3.2z" fill="#dc4543" stroke="#dc4543" stroke-width="1"/><path d="M124.8 671.3h3.2v1.4h-3.2zM130.1 671.3h3.2v5.4h-3.2zM135.4 671.3h3.2v12.0h-3.2zM140.7 671.3h3.2v18.0h-3.2zM146.0 671.3h3.2v19.5h-3.2zM231.1 671.3h3.2v8.6h-3.2zM236.4 671.3h3.2v9.7h-3.2zM241.7 671.3h3.2v12.1h-3.2zM263.0 671.3h3.2v3.5h-3.2zM268.3 671.3h3.2v4.2h-3.2zM273.6 671.3h3.2v6.5h-3.2zM279.0 671.3h3.2v8.5h-3.2zM284.3 671.3h3.2v12.6h-3.2zM289.6 671.3h3.2v14.4h-3.2zM294.9 671.3h3.2v15.1h-3.2zM300.2 671.3h3.2v16.8h-3.2zM305.5 671.3h3.2v16.9h-3.2zM316.2 671.3h3.2v15.2h-3.2zM401.2 671.3h3.2v2.1h-3.2zM406.6 671.3h3.2v3.6h-3.2zM411.9 671.3h3.2v9.2h-3.2zM417.2 671.3h3.2v12.8h-3.2zM422.5 671.3h3.2v14.8h-3.2zM427.8 671.3h3.2v20.4h-3.2zM512.9 671.3h3.2v15.1h-3.2zM534.2 671.3h3.2v9.7h-3.2zM539.5 671.3h3.2v11.6h-3.2zM544.8 671.3h3.2v13.2h-3.2zM571.4 671.3h3.2v7.1h-3.2zM635.2 671.3h3.2v3.7h-3.2zM640.5 671.3h3.2v12.0h-3.2zM645.8 671.3h3.2v13.8h-3.2zM651.1 671.3h3.2v15.9h-3.2zM688.4 671.3h3.2v4.5h-3.2zM693.7 671.3h3.2v7.5h-3.2zM699.0 671.3h3.2v7.6h-3.2zM704.3 671.3h3.2v8.1h-3.2zM709.6 671.3h3.2v8.5h-3.2zM725.6 671.3h3.2v8.2h-3.2zM730.9 671.3h3.2v9.9h-3.2zM869.1 671.3h3.2v3.6h-3.2zM874.5 671.3h3.2v5.8h-3.2zM911.7 671.3h3.2v1.0h-3.2zM1049.9 671.3h3.2v4.7h-3.2zM1055.2 671.3h3.2v7.9h-3.2zM1060.6 671.3h3.2v10.1h-3.2zM1065.9 671.3h3.2v11.0h-3.2zM1071.2 671.3h3.2v11.1h-3.2zM1076.5 671.3h3.2v13.1h-3.2zM1097.8 671.3h3.2v7.7h-3.2zM1103.1 671.3h3.2v10.4h-3.2zM1108.4 671.3h3.2v15.9h-3.2zM1113.7 671.3h3.2v21.6h-3.2zM1119.0 671.3h3.2v22.5h-3.2zM1124.4 671.3h3.2v23.7h-3.2zM1129.7 671.3h3.2v24.3h-3.2zM1135.0 671.3h3.2v28.9h-3.2zM1400.8 671.3h3.2v3.1h-3.2zM1406.2 671.3h3.2v4.3h-3.2zM1411.5 671.3h3.2v5.2h-3.2z" fill="#111111" stroke="#dc4543" stroke-width="1"/><polyline points="-11.9,671.0 -6.6,670.7 -1.2,669.9 4.1,669.5 9.4,668.5 14.7,666.0 20.0,662.1 25.3,659.0 30.7,656.9 36.0,655.1 41.3,653.5 46.6,650.9 51.9,646.6 57.2,642.3 62.6,638.5 67.9,635.4 73.2,631.5 78.5,628.9 83.8,627.5 89.1,628.2 94.5,628.4 99.8,628.8 105.1,629.4 110.4,628.9 115.7,629.9 121.0,631.2 126.4,632.4 131.7,635.1 137.0,639.9 142.3,645.1 147.6,648.3 153.0,648.7 158.3,650.4 163.6,651.2 168.9,649.5 174.2,646.8 179.5,642.7 184.9,640.1 190.2,638.6 195.5,633.7 200.8,628.5 206.1,627.3 211.4,628.0 216.8,629.2 222.1,630.1 227.4,632.9 232.7,638.2 238.0,640.0 243.3,642.7 248.7,638.6 254.0,636.4 259.3,635.0 264.6,638.7 269.9,639.6 275.2,641.6 280.6,643.6 285.9,647.3 291.2,650.0 296.5,652.2 301.8,655.1 307.1,657.3 312.5,657.8 317.8,660.1 323.1,662.0 328.4,663.9 333.7,665.1 339.0,666.1 344.4,666.9 349.7,667.1 355.0,666.3 360.3,662.9 365.6,660.7 370.9,659.8 376.3,660.2 381.6,660.8 386.9,660.3 392.2,660.2 397.5,661.5 402.9,662.4 408.2,663.7 413.5,667.6 418.8,671.0 424.1,673.9 429.4,679.2 434.8,681.5 440.1,683.4 445.4,683.3 450.7,682.3 456.0,682.2 461.3,679.7 466.7,676.1 472.0,672.9 477.3,670.7 482.6,668.7 487.9,665.2 493.2,665.3 498.6,664.5 503.9,665.7 509.2,672.7 514.5,679.1 519.8,679.5 525.1,678.8 530.5,679.4 535.8,681.3 541.1,683.7 546.4,686.2 551.7,687.4 557.0,686.9 562.4,686.4 567.7,687.1 573.0,688.4 578.3,688.5 583.6,687.5 588.9,686.3 594.3,683.0 599.6,680.5 604.9,680.1 610.2,680.5 615.5,681.9 620.8,682.4 626.2,682.3 631.5,681.8 636.8,684.8 642.1,690.4 647.4,693.0 652.7,696.0 658.1,696.8 663.4,697.4 668.7,695.7 674.0,694.1 679.3,694.3 684.7,694.4 690.0,696.1 695.3,698.5 700.6,699.5 705.9,700.7 711.2,702.0 716.6,701.7 721.9,702.2 727.2,704.4 732.5,706.5 737.8,707.6 743.1,707.8 748.5,705.8 753.8,703.7 759.1,701.1 764.4,698.8 769.7,696.4 775.0,694.8 780.4,693.1 785.7,693.8 791.0,691.8 796.3,687.9 801.6,685.3 806.9,684.4 812.3,683.2 817.6,682.1 822.9,680.2 828.2,676.5 833.5,673.5 838.8,672.1 844.2,672.7 849.5,672.8 854.8,673.4 860.1,675.0 865.4,676.3 870.7,678.6 876.1,680.5 881.4,680.1 886.7,679.7 892.0,679.0 897.3,678.4 902.6,678.3 908.0,678.3 913.3,678.7 918.6,678.7 923.9,678.3 929.2,678.0 934.6,677.8 939.9,677.1 945.2,676.6 950.5,675.8 955.8,673.7 961.1,672.0 966.5,670.5 971.8,668.4 977.1,666.0 982.4,665.6 987.7,666.1 993.0,666.7 998.4,667.2 1003.7,667.4 1009.0,667.8 1014.3,665.6 1019.6,663.6 1024.9,662.5 1030.3,662.0 1035.6,661.6 1040.9,661.6 1046.2,662.8 1051.5,666.6 1056.8,669.2 1062.2,671.6 1067.5,673.4 1072.8,674.9 1078.1,677.5 1083.4,678.2 1088.7,677.6 1094.1,677.3 1099.4,679.0 1104.7,681.7 1110.0,686.4 1115.3,692.0 1120.6,695.2 1126.0,698.8 1131.3,702.1 1136.6,708.1 1141.9,709.7 1147.2,710.2 1152.5,710.1 1157.9,709.4 1163.2,709.4 1168.5,709.9 1173.8,709.7 1179.1,708.0 1184.4,705.8 1189.8,705.1 1195.1,703.8 1200.4,702.5 1205.7,701.4 1211.0,700.4 1216.4,699.1 1221.7,697.6 1227.0,696.3 1232.3,696.2 1237.6,695.8 1242.9,693.0 1248.3,690.8 1253.6,690.0 1258.9,688.7 1264.2,687.8 1269.5,686.7 1274.8,685.5 1280.2,682.7 1285.5,681.0 1290.8,680.2 1296.1,680.0 1301.4,680.1 1306.7,679.4 1312.1,678.4 1317.4,677.4 1322.7,676.4 1328.0,675.3 1333.3,674.2 1338.6,672.6 1344.0,669.2 1349.3,667.0 1354.6,666.5 1359.9,667.0 1365.2,667.2 1370.5,668.2 1375.9,669.4 1381.2,669.2 1386.5,669.1 1391.8,668.9 1397.1,669.9 1402.4,671.5 1407.8,672.6 1413.1,673.7 1418.4,674.0 1423.7,673.7 1429.0,672.8 1434.3,672.4 1439.7,672.2 1445.0,672.1 1450.3,671.7 1455.6,671.5 1460.9,669.9 1466.2,669.0 1471.6,668.4 1476.9,667.4 1482.2,666.3 1487.5,666.2 1492.8,664.6 1498.2,663.8 1503.5,662.9 1508.8,662.3 1514.1,661.0" fill="none" stroke="#cdcdcd" stroke-width="1.1" stroke-linejoin="round" /><polyline points="-11.9,673.0 -6.6,672.5 -1.2,672.0 4.1,671.5 9.4,670.9 14.7,669.9 20.0,668.4 25.3,666.5 30.7,664.6 36.0,662.7 41.3,660.8 46.6,658.9 51.9,656.4 57.2,653.6 62.6,650.6 67.9,647.5 73.2,644.3 78.5,641.2 83.8,638.5 89.1,636.4 94.5,634.8 99.8,633.6 105.1,632.8 110.4,632.0 115.7,631.6 121.0,631.5 126.4,631.7 131.7,632.3 137.0,633.9 142.3,636.1 147.6,638.5 153.0,640.6 158.3,642.5 163.6,644.3 168.9,645.3 174.2,645.6 179.5,645.0 184.9,644.1 190.2,643.0 195.5,641.1 200.8,638.6 206.1,636.3 211.4,634.7 216.8,633.6 222.1,632.9 227.4,632.9 232.7,634.0 238.0,635.2 243.3,636.7 248.7,637.1 254.0,636.9 259.3,636.6 264.6,637.0 269.9,637.5 275.2,638.3 280.6,639.4 285.9,641.0 291.2,642.8 296.5,644.6 301.8,646.7 307.1,648.9 312.5,650.6 317.8,652.5 323.1,654.4 328.4,656.3 333.7,658.1 339.0,659.7 344.4,661.1 349.7,662.3 355.0,663.1 360.3,663.1 365.6,662.6 370.9,662.0 376.3,661.7 381.6,661.5 386.9,661.3 392.2,661.0 397.5,661.1 402.9,661.4 408.2,661.8 413.5,663.0 418.8,664.6 424.1,666.4 429.4,669.0 434.8,671.5 440.1,673.9 445.4,675.7 450.7,677.1 456.0,678.1 461.3,678.4 466.7,677.9 472.0,676.9 477.3,675.7 482.6,674.3 487.9,672.5 493.2,671.0 498.6,669.7 503.9,668.9 509.2,669.7 514.5,671.6 519.8,673.1 525.1,674.3 530.5,675.3 535.8,676.5 541.1,677.9 546.4,679.6 551.7,681.1 557.0,682.3 562.4,683.1 567.7,683.9 573.0,684.8 578.3,685.5 583.6,685.9 588.9,686.0 594.3,685.4 599.6,684.4 604.9,683.5 610.2,682.9 615.5,682.7 620.8,682.7 626.2,682.6 631.5,682.4 636.8,682.9 642.1,684.4 647.4,686.1 652.7,688.1 658.1,689.8 663.4,691.4 668.7,692.2 674.0,692.6 679.3,692.9 684.7,693.2 690.0,693.8 695.3,694.7 700.6,695.7 705.9,696.7 711.2,697.8 716.6,698.5 721.9,699.3 727.2,700.3 732.5,701.5 737.8,702.8 743.1,703.8 748.5,704.2 753.8,704.1 759.1,703.5 764.4,702.5 769.7,701.3 775.0,700.0 780.4,698.6 785.7,697.7 791.0,696.5 796.3,694.8 801.6,692.9 806.9,691.2 812.3,689.6 817.6,688.1 822.9,686.5 828.2,684.5 833.5,682.3 838.8,680.3 844.2,678.7 849.5,677.6 854.8,676.7 860.1,676.4 865.4,676.4 870.7,676.8 876.1,677.5 881.4,678.1 886.7,678.4 892.0,678.5 897.3,678.5 902.6,678.4 908.0,678.4 913.3,678.5 918.6,678.5 923.9,678.5 929.2,678.4 934.6,678.2 939.9,678.0 945.2,677.7 950.5,677.3 955.8,676.6 961.1,675.7 966.5,674.7 971.8,673.4 977.1,671.9 982.4,670.7 987.7,669.8 993.0,669.1 998.4,668.8 1003.7,668.5 1009.0,668.3 1014.3,667.8 1019.6,666.9 1024.9,666.1 1030.3,665.2 1035.6,664.5 1040.9,663.9 1046.2,663.7 1051.5,664.3 1056.8,665.3 1062.2,666.5 1067.5,667.9 1072.8,669.3 1078.1,670.9 1083.4,672.4 1088.7,673.4 1094.1,674.2 1099.4,675.2 1104.7,676.5 1110.0,678.5 1115.3,681.2 1120.6,684.0 1126.0,686.9 1131.3,690.0 1136.6,693.6 1141.9,696.8 1147.2,699.5 1152.5,701.6 1157.9,703.2 1163.2,704.4 1168.5,705.5 1173.8,706.4 1179.1,706.7 1184.4,706.5 1189.8,706.2 1195.1,705.7 1200.4,705.1 1205.7,704.4 1211.0,703.6 1216.4,702.7 1221.7,701.7 1227.0,700.6 1232.3,699.7 1237.6,698.9 1242.9,697.7 1248.3,696.4 1253.6,695.1 1258.9,693.8 1264.2,692.6 1269.5,691.4 1274.8,690.2 1280.2,688.7 1285.5,687.2 1290.8,685.8 1296.1,684.6 1301.4,683.7 1306.7,682.9 1312.1,682.0 1317.4,681.1 1322.7,680.1 1328.0,679.2 1333.3,678.2 1338.6,677.1 1344.0,675.5 1349.3,673.8 1354.6,672.3 1359.9,671.2 1365.2,670.4 1370.5,670.0 1375.9,669.9 1381.2,669.7 1386.5,669.6 1391.8,669.5 1397.1,669.5 1402.4,669.9 1407.8,670.5 1413.1,671.1 1418.4,671.7 1423.7,672.1 1429.0,672.2 1434.3,672.3 1439.7,672.2 1445.0,672.2 1450.3,672.1 1455.6,672.0 1460.9,671.6 1466.2,671.1 1471.6,670.5 1476.9,669.9 1482.2,669.2 1487.5,668.6 1492.8,667.8 1498.2,667.0 1503.5,666.2 1508.8,665.4 1514.1,664.5" fill="none" stroke="#e6dc32" stroke-width="1.1" stroke-linejoin="round" /></g><g font-family="Liberation Sans, sans-serif"><text x="1657.2" y="380.73" fill="#8b8ea0" font-size="12" text-anchor="middle" font-weight="normal" >1500.00</text><text x="1657.2" y="334.84" fill="#8b8ea0" font-size="12" text-anchor="middle" font-weight="normal" >2000.00</text><text x="1657.2" y="288.95" fill="#8b8ea0" font-size="12" text-anchor="middle" font-weight="normal" >2500.00</text><text x="1657.2" y="243.06" fill="#8b8ea0" font-size="12" text-anchor="middle" font-weight="normal" >3000.00</text><text x="1657.2" y="197.17" fill="#8b8ea0" font-size="12" text-anchor="middle" font-weight="normal" >3500.00</text><text x="1657.2" y="151.28" fill="#8b8ea0" font-size="12" text-anchor="middle" font-weight="normal" >4000.00</text><text x="1657.2" y="105.39000000000001" fill="#8b8ea0" font-size="12" text-anchor="middle" font-weight="normal" >4500.00</text><text x="1657.2" y="59.5" fill="#8b8ea0" font-size="12" text-anchor="middle" font-weight="normal" >5000.00</text><text x="1657.2" y="422.90000000000003" fill="#8b8ea0" font-size="12" text-anchor="middle" font-weight="normal" >100.00</text><text x="1657.2" y="457.4" fill="#8b8ea0" font-size="12" text-anchor="middle" font-weight="normal" >50.00</text><text x="1657.2" y="491.3" fill="#8b8ea0" font-size="12" text-anchor="middle" font-weight="normal" >0.00</text><text x="1657.2" y="520.0999999999999" fill="#8b8ea0" font-size="12" text-anchor="middle" font-weight="normal" >100.00</text><text x="1657.2" y="549.1999999999999" fill="#8b8ea0" font-size="12" text-anchor="middle" font-weight="normal" >70.00</text><text x="1657.2" y="568.1999999999999" fill="#8b8ea0" font-size="12" text-anchor="middle" font-weight="normal" >50.00</text><text x="1657.2" y="587.1999999999999" fill="#8b8ea0" font-size="12" text-anchor="middle" font-weight="normal" >30.00</text><text x="1657.2" y="619.1999999999999" fill="#8b8ea0" font-size="12" text-anchor="middle" font-weight="normal" >400.00</text><text x="1657.2" y="647.1999999999999" fill="#8b8ea0" font-size="12" text-anchor="middle" font-weight="normal" >200.00</text><text x="1657.2" y="675.1999999999999" fill="#8b8ea0" font-size="12" text-anchor="middle" font-weight="normal" >0.00</text><text x="1657.2" y="703.1999999999999" fill="#8b8ea0" font-size="12" text-anchor="middle" font-weight="normal" >-200.00</text></g><rect x="1625" y="281" width="64" height="20" fill="#26a782"/><path d="M1625 291.5h6" stroke="#fff" stroke-width="1" shape-rendering="crispEdges"/><path d="M270.7 59.5H263M265.8 56.8L263 59.5L265.8 62.2" stroke="#dcdcdc" stroke-width="1" fill="none"/><path d="M1131 354.5H1138.6M1135.8 351.8L1138.6 354.5L1135.8 357.2" stroke="#fff" stroke-width="1" fill="none"/><rect x="1691" y="0" width="2" height="782" fill="#242424"/><rect x="1687" y="343.5" width="8" height="37" rx="1.5" fill="#4a4a4a"/><path d="M1689 362L1693 358.2V365.8z" fill="#c8c8c8"/><path d="M0 740.5H1691" stroke="#2e2e2e" stroke-width="1" shape-rendering="crispEdges"/><path d="M91.5 741V770M462.5 741V770" stroke="#2e2e2e" stroke-width="1" shape-rendering="crispEdges"/><path d="M67.3 754.4L69.1 756.4L70.9 754.4" stroke="#777" stroke-width="1" fill="none"/><rect x="104.2" y="745.2" width="51.7" height="21.3" rx="4" fill="#2a2a2a"/><rect x="168" y="745.2" width="44.6" height="21.3" rx="4" fill="#2a2a2a"/><rect x="307.2" y="745.2" width="37.6" height="21.3" rx="4" fill="#2a2a2a"/><rect x="532.1" y="745.2" width="40.9" height="21.3" rx="4" fill="#2a2a2a"/><rect x="585" y="745.2" width="56" height="21.3" rx="4" fill="#2a2a2a"/><rect x="762" y="745.2" width="36.8" height="21.3" rx="4" fill="#2a2a2a"/><path d="M826.5 751.6H822.6a1.4 1.4 0 0 0 -1.4 1.4V759.6a1.4 1.4 0 0 0 1.4 1.4H829.2a1.4 1.4 0 0 0 1.4 -1.4V756.2" stroke="#9a9a9a" stroke-width="1.1" fill="none"/><path d="M825 757.2L825.4 755.2L830.3 750.3L831.9 751.9L827 756.8z" stroke="#9a9a9a" stroke-width="1" fill="none" stroke-linejoin="round"/><rect x="1655" y="743.2" width="34" height="25.6" rx="4" fill="#2a2a2a"/><path d="M90 782V774a4 4 0 0 1 4 -4H124.3a4 4 0 0 1 4 4V782z" fill="#2a2a2a"/><g font-family="Liberation Sans, sans-serif"><text x="1656.9" y="295.3" fill="#ffffff" font-size="12" text-anchor="middle" font-weight="normal" stroke="#fff" stroke-width="0.35">2431.72</text><text x="127.8" y="730.3" fill="#8b8ea0" font-size="12" text-anchor="start" font-weight="normal" >8</text><text x="292.8" y="730.3" fill="#8b8ea0" font-size="12" text-anchor="start" font-weight="normal" >9</text><text x="448.4" y="730.3" fill="#8b8ea0" font-size="12" text-anchor="start" font-weight="normal" >10</text><text x="613.4" y="730.3" fill="#8b8ea0" font-size="12" text-anchor="start" font-weight="normal" >11</text><text x="773.4" y="730.3" fill="#8b8ea0" font-size="12" text-anchor="start" font-weight="normal" >12</text><text x="950.5" y="730.3" fill="#8b8ea0" font-size="12" text-anchor="middle" font-weight="normal" stroke="#8b8ea0" stroke-width="0.35">2026</text><text x="1105.8" y="730.3" fill="#8b8ea0" font-size="12" text-anchor="start" font-weight="normal" >2</text><text x="1254.8" y="730.3" fill="#8b8ea0" font-size="12" text-anchor="start" font-weight="normal" >3</text><text x="1419.8" y="730.3" fill="#8b8ea0" font-size="12" text-anchor="start" font-weight="normal" >4</text><text x="1579.8" y="730.3" fill="#8b8ea0" font-size="12" text-anchor="start" font-weight="normal" >5</text><text x="8.8" y="20" fill="#7d8091" font-size="12" text-anchor="start" font-weight="normal" textLength="92.1" lengthAdjust="spacingAndGlyphs" >2026-04-17 08:00</text><text x="123" y="20" fill="#2ba886" font-size="12" text-anchor="start" font-weight="normal" textLength="42.7" lengthAdjust="spacingAndGlyphs" >2346.90</text><text x="187.8" y="20" fill="#2ba886" font-size="12" text-anchor="start" font-weight="normal" textLength="42.6" lengthAdjust="spacingAndGlyphs" >2464.99</text><text x="251.8" y="20" fill="#2ba886" font-size="12" text-anchor="start" font-weight="normal" textLength="43.2" lengthAdjust="spacingAndGlyphs" >2315.70</text><text x="316.8" y="20" fill="#2ba886" font-size="12" text-anchor="start" font-weight="normal" textLength="42.6" lengthAdjust="spacingAndGlyphs" >2431.72</text><text x="392.3" y="20" fill="#2ba886" font-size="12" text-anchor="start" font-weight="normal" textLength="70.3" lengthAdjust="spacingAndGlyphs" >3.61%(84.81)</text><text x="496.5" y="20" fill="#2ba886" font-size="12" text-anchor="start" font-weight="normal" textLength="31.5" lengthAdjust="spacingAndGlyphs" >6.36%</text><text x="3.6" y="38" fill="#cdcdcd" font-size="12" text-anchor="start" font-weight="normal" textLength="73.6" lengthAdjust="spacingAndGlyphs" >BOLL:2190.21</text><text x="84.6" y="38" fill="#e6dc32" font-size="12" text-anchor="start" font-weight="normal" textLength="61.0" lengthAdjust="spacingAndGlyphs" stroke="#e6dc32" stroke-width="0.45">UB:2443.33</text><text x="152.6" y="38" fill="#d94cb8" font-size="12" text-anchor="start" font-weight="normal" textLength="59.5" lengthAdjust="spacingAndGlyphs" >LB:1937.10</text><text x="-37.9" y="56" fill="#cdcdcd" font-size="12" text-anchor="start" font-weight="normal" textLength="86.3" lengthAdjust="spacingAndGlyphs" >MA(15):2233.06</text><text x="55.2" y="56" fill="#e6dc32" font-size="12" text-anchor="start" font-weight="normal" textLength="85.8" lengthAdjust="spacingAndGlyphs" stroke="#e6dc32" stroke-width="0.45">MA(30):2158.03</text><text x="148" y="56" fill="#d94cb8" font-size="12" text-anchor="start" font-weight="normal" textLength="85.4" lengthAdjust="spacingAndGlyphs" >MA(60):2093.79</text><text x="240.2" y="56" fill="#2ea8dc" font-size="12" text-anchor="start" font-weight="normal" textLength="92.4" lengthAdjust="spacingAndGlyphs" >MA(120):2437.07</text><text x="339.4" y="56" fill="#a5d27a" font-size="12" text-anchor="start" font-weight="normal" textLength="93.1" lengthAdjust="spacingAndGlyphs" >MA(180):2726.76</text><text x="438.8" y="56" fill="#ea9090" font-size="12" text-anchor="start" font-weight="normal" textLength="93.4" lengthAdjust="spacingAndGlyphs" >MA(220):3009.65</text><text x="538.5" y="56" fill="#00e0ea" font-size="12" text-anchor="start" font-weight="normal" textLength="92.8" lengthAdjust="spacingAndGlyphs" stroke="#00e0ea" stroke-width="0.45">MA(300):3181.74</text><text x="637.9" y="56" fill="#ee6a00" font-size="12" text-anchor="start" font-weight="normal" textLength="92.6" lengthAdjust="spacingAndGlyphs" stroke="#ee6a00" stroke-width="0.25">MA(450):2886.27</text><text x="737" y="56" fill="#b78cf2" font-size="12" text-anchor="start" font-weight="normal" textLength="92.9" lengthAdjust="spacingAndGlyphs" stroke="#b78cf2" stroke-width="0.25">MA(500):2949.85</text><text x="-30.8" y="73.8" fill="#cdcdcd" font-size="12" text-anchor="start" font-weight="normal" textLength="86.5" lengthAdjust="spacingAndGlyphs" >EMA(7):2333.75</text><text x="62" y="73.8" fill="#e6dc32" font-size="12" text-anchor="start" font-weight="normal" textLength="92.9" lengthAdjust="spacingAndGlyphs" stroke="#e6dc32" stroke-width="0.45">EMA(10):2302.30</text><text x="161.4" y="73.8" fill="#d94cb8" font-size="12" text-anchor="start" font-weight="normal" textLength="92.9" lengthAdjust="spacingAndGlyphs" >EMA(15):2262.38</text><text x="261" y="73.8" fill="#2ea8dc" font-size="12" text-anchor="start" font-weight="normal" textLength="92.4" lengthAdjust="spacingAndGlyphs" >EMA(30):2200.57</text><text x="360.7" y="73.8" fill="#a5d27a" font-size="12" text-anchor="start" font-weight="normal" textLength="92.4" lengthAdjust="spacingAndGlyphs" >EMA(60):2218.67</text><text x="459.6" y="73.8" fill="#ea9090" font-size="12" text-anchor="start" font-weight="normal" textLength="92.7" lengthAdjust="spacingAndGlyphs" >EMA(80):2281.61</text><text x="559.3" y="73.8" fill="#00e0ea" font-size="12" text-anchor="start" font-weight="normal" textLength="99.7" lengthAdjust="spacingAndGlyphs" stroke="#00e0ea" stroke-width="0.45">EMA(120):2431.92</text><text x="665.5" y="73.8" fill="#ee6a00" font-size="12" text-anchor="start" font-weight="normal" textLength="99.6" lengthAdjust="spacingAndGlyphs" stroke="#ee6a00" stroke-width="0.25">EMA(180):2616.97</text><text x="771.9" y="73.8" fill="#b78cf2" font-size="12" text-anchor="start" font-weight="normal" textLength="99.4" lengthAdjust="spacingAndGlyphs" stroke="#b78cf2" stroke-width="0.25">EMA(220):2699.87</text><text x="877.1" y="73.8" fill="#9b9b9b" font-size="12" text-anchor="start" font-weight="normal" textLength="100.2" lengthAdjust="spacingAndGlyphs" >EMA(300):2732.46</text><text x="-6.7" y="404.3" fill="#cdcdcd" font-size="12" text-anchor="start" font-weight="normal" textLength="43.0" lengthAdjust="spacingAndGlyphs" >K:81.18</text><text x="43.1" y="404.3" fill="#e6dc32" font-size="12" text-anchor="start" font-weight="normal" textLength="40.0" lengthAdjust="spacingAndGlyphs" stroke="#e6dc32" stroke-width="0.45">D:78.09</text><text x="89.7" y="404.3" fill="#d94cb8" font-size="12" text-anchor="start" font-weight="normal" textLength="39.3" lengthAdjust="spacingAndGlyphs" >J:87.36</text><text x="5.5" y="512" fill="#cdcdcd" font-size="12" text-anchor="start" font-weight="normal" textLength="55.9" lengthAdjust="spacingAndGlyphs" >RSI1:73.21</text><text x="68.9" y="512" fill="#e6dc32" font-size="12" text-anchor="start" font-weight="normal" textLength="57.6" lengthAdjust="spacingAndGlyphs" stroke="#e6dc32" stroke-width="0.45">RSI2:67.04</text><text x="132.2" y="512" fill="#d94cb8" font-size="12" text-anchor="start" font-weight="normal" textLength="57.4" lengthAdjust="spacingAndGlyphs" >RSI3:59.19</text><text x="-28" y="620" fill="#777a88" font-size="12" text-anchor="start" font-weight="normal" textLength="43.5" lengthAdjust="spacingAndGlyphs" >(12,26,9)</text><text x="22" y="620" fill="#cdcdcd" font-size="12" text-anchor="start" font-weight="normal" textLength="49.4" lengthAdjust="spacingAndGlyphs" >DIF:73.81</text><text x="78.9" y="620" fill="#e6dc32" font-size="12" text-anchor="start" font-weight="normal" textLength="55.1" lengthAdjust="spacingAndGlyphs" stroke="#e6dc32" stroke-width="0.45">DEA:48.20</text><text x="140.2" y="620" fill="#2ba886" font-size="12" text-anchor="start" font-weight="normal" textLength="66.4" lengthAdjust="spacingAndGlyphs" >MACD:51.23</text><text x="274.8" y="61.7" fill="#dcdcdc" font-size="12" text-anchor="start" font-weight="normal" textLength="42.6" lengthAdjust="spacingAndGlyphs" >4958.69</text><text x="1083.9" y="357" fill="#ffffff" font-size="12" text-anchor="start" font-weight="normal" textLength="42.2" lengthAdjust="spacingAndGlyphs" stroke="#fff" stroke-width="0.25">1740.00</text><text x="112.4" y="761.3" fill="#ffffff" font-size="14" text-anchor="start" font-weight="normal" textLength="35.0" lengthAdjust="spacingAndGlyphs" stroke="#fff" stroke-width="0.3">BOLL</text><text x="176.2" y="761.3" fill="#ffffff" font-size="14" text-anchor="start" font-weight="normal" textLength="28.6" lengthAdjust="spacingAndGlyphs" stroke="#fff" stroke-width="0.3">EMA</text><text x="233.5" y="761.3" fill="#bcbcbc" font-size="14" text-anchor="start" font-weight="normal" textLength="53.8" lengthAdjust="spacingAndGlyphs" >Alligator</text><text x="315.7" y="761.3" fill="#ffffff" font-size="14" text-anchor="start" font-weight="normal" textLength="21.3" lengthAdjust="spacingAndGlyphs" stroke="#fff" stroke-width="0.3">MA</text><text x="365.6" y="761.3" fill="#bcbcbc" font-size="14" text-anchor="start" font-weight="normal" textLength="18.8" lengthAdjust="spacingAndGlyphs" >DC</text><text x="412.4" y="761.3" fill="#bcbcbc" font-size="14" text-anchor="start" font-weight="normal" textLength="17.8" lengthAdjust="spacingAndGlyphs" >KC</text><text x="482.5" y="761.3" fill="#bcbcbc" font-size="14" text-anchor="start" font-weight="normal" textLength="28.8" lengthAdjust="spacingAndGlyphs" >EMA</text><text x="540" y="761.3" fill="#ffffff" font-size="14" text-anchor="start" font-weight="normal" textLength="24.8" lengthAdjust="spacingAndGlyphs" stroke="#fff" stroke-width="0.3">KDJ</text><text x="593.1" y="761.3" fill="#ffffff" font-size="14" text-anchor="start" font-weight="normal" textLength="39.7" lengthAdjust="spacingAndGlyphs" stroke="#fff" stroke-width="0.3">MACD</text><text x="661" y="761.3" fill="#bcbcbc" font-size="14" text-anchor="start" font-weight="normal" textLength="27.6" lengthAdjust="spacingAndGlyphs" >OBV</text><text x="717.3" y="761.3" fill="#bcbcbc" font-size="14" text-anchor="start" font-weight="normal" textLength="25.3" lengthAdjust="spacingAndGlyphs" >ATR</text><text x="770.5" y="761.3" fill="#ffffff" font-size="14" text-anchor="start" font-weight="normal" textLength="20.3" lengthAdjust="spacingAndGlyphs" stroke="#fff" stroke-width="0.3">RSI</text><text x="1639" y="761" fill="#c4c4c4" font-size="13" text-anchor="start" font-weight="normal" textLength="10.3" lengthAdjust="spacingAndGlyphs" >%</text><text x="7.1" y="789.2" fill="#b8b8b8" font-size="14" text-anchor="start" font-weight="normal" >4</text><text x="51.1" y="789.2" fill="#b8b8b8" font-size="14" text-anchor="start" font-weight="normal" >8</text><text x="99.1" y="789.2" fill="#ffffff" font-size="14" text-anchor="start" font-weight="normal" >1</text><text x="144.1" y="789.2" fill="#b8b8b8" font-size="14" text-anchor="start" font-weight="normal" >1</text><text x="190.2" y="789.2" fill="#b8b8b8" font-size="14" text-anchor="start" font-weight="normal" >30</text><text x="272.0" y="789.2" fill="#b8b8b8" font-size="14" text-anchor="start" font-weight="normal" ></text><text x="296.1" y="789.2" fill="#b8b8b8" font-size="14" text-anchor="start" font-weight="normal" >1</text><text x="341.1" y="789.2" fill="#b8b8b8" font-size="14" text-anchor="start" font-weight="normal" >5</text><text x="387.2" y="789.2" fill="#b8b8b8" font-size="14" text-anchor="start" font-weight="normal" >10</text><text x="441.2" y="789.2" fill="#b8b8b8" font-size="14" text-anchor="start" font-weight="normal" >30</text><text x="496.1" y="789.2" fill="#b8b8b8" font-size="14" text-anchor="start" font-weight="normal" >1</text><text x="542.1" y="789.2" fill="#b8b8b8" font-size="14" text-anchor="start" font-weight="normal" >2</text><text x="587.1" y="789.2" fill="#b8b8b8" font-size="14" text-anchor="start" font-weight="normal" >3</text><text x="633.2" y="789.2" fill="#b8b8b8" font-size="14" text-anchor="start" font-weight="normal" >12</text><text x="687.1" y="789.2" fill="#b8b8b8" font-size="14" text-anchor="start" font-weight="normal" >2</text><text x="732.1" y="789.2" fill="#b8b8b8" font-size="14" text-anchor="start" font-weight="normal" >3</text><text x="794.4" y="789.2" fill="#b8b8b8" font-size="14" text-anchor="start" font-weight="normal" >K</text><text x="827.2" y="789.2" fill="#b8b8b8" font-size="14" text-anchor="start" font-weight="normal" >15</text><text x="894.4" y="789.2" fill="#b8b8b8" font-size="14" text-anchor="start" font-weight="normal" >K</text><text x="941.4" y="789.2" fill="#b8b8b8" font-size="14" text-anchor="start" font-weight="normal" >K</text><text x="989.4" y="789.2" fill="#b8b8b8" font-size="14" text-anchor="start" font-weight="normal" >K</text><text x="1023.1" y="789.2" fill="#b8b8b8" font-size="14" text-anchor="start" font-weight="normal" >3</text><text x="1069.1" y="789.2" fill="#b8b8b8" font-size="14" text-anchor="start" font-weight="normal" >6</text></g><g font-family="Liberation Sans, Noto Sans CJK SC, sans-serif"><text x="134.1" y="730.3" fill="#8b8ea0" font-size="12" text-anchor="start">月</text><text x="299.1" y="730.3" fill="#8b8ea0" font-size="12" text-anchor="start">月</text><text x="461.4" y="730.3" fill="#8b8ea0" font-size="12" text-anchor="start">月</text><text x="626.4" y="730.3" fill="#8b8ea0" font-size="12" text-anchor="start">月</text><text x="786.4" y="730.3" fill="#8b8ea0" font-size="12" text-anchor="start">月</text><text x="1112.1" y="730.3" fill="#8b8ea0" font-size="12" text-anchor="start">月</text><text x="1261.1" y="730.3" fill="#8b8ea0" font-size="12" text-anchor="start">月</text><text x="1426.1" y="730.3" fill="#8b8ea0" font-size="12" text-anchor="start">月</text><text x="1586.1" y="730.3" fill="#8b8ea0" font-size="12" text-anchor="start">月</text><text x="-6.9" y="20.5" fill="#7d8091" font-size="12" text-anchor="start">线</text><text x="107.7" y="20.5" fill="#7d8091" font-size="12" text-anchor="start">开</text><text x="172.5" y="20.5" fill="#7d8091" font-size="12" text-anchor="start">高</text><text x="236.6" y="20.5" fill="#7d8091" font-size="12" text-anchor="start">低</text><text x="301.9" y="20.5" fill="#7d8091" font-size="12" text-anchor="start">收</text><text x="366.4" y="20.5" fill="#7d8091" font-size="12" text-anchor="start">涨幅</text><text x="469.4" y="20.5" fill="#7d8091" font-size="12" text-anchor="start">振幅</text><text x="1648.8" y="732.3" fill="#a8a8a8" font-size="13" text-anchor="start">筹</text><text x="1671" y="732.3" fill="#a8a8a8" font-size="13" text-anchor="start">爆</text><text x="11" y="761.4" fill="#e0e0e0" font-size="12.5" text-anchor="start" stroke="#e0e0e0" stroke-width="0.4">日期范围</text><text x="841" y="761.6" fill="#c2c2c2" font-size="14" text-anchor="start" stroke="#c2c2c2" stroke-width="0.3">社区指标</text><text x="1603.2" y="761.2" fill="#c4c4c4" font-size="13" text-anchor="start">对数</text><text x="1661.2" y="761.2" fill="#ffffff" font-size="12" text-anchor="start" stroke="#ffffff" stroke-width="0.25">自动</text><text x="15" y="789.2" fill="#b8b8b8" font-size="14" text-anchor="start">时</text><text x="59" y="789.2" fill="#b8b8b8" font-size="14" text-anchor="start">时</text><text x="151.9" y="789.2" fill="#b8b8b8" font-size="14" text-anchor="start">秒</text><text x="205.8" y="789.2" fill="#b8b8b8" font-size="14" text-anchor="start">秒</text><text x="244" y="789.2" fill="#b8b8b8" font-size="14" text-anchor="start">分时</text><text x="303.9" y="789.2" fill="#b8b8b8" font-size="14" text-anchor="start">分</text><text x="348.9" y="789.2" fill="#b8b8b8" font-size="14" text-anchor="start">分</text><text x="402.8" y="789.2" fill="#b8b8b8" font-size="14" text-anchor="start">分</text><text x="456.8" y="789.2" fill="#b8b8b8" font-size="14" text-anchor="start">分</text><text x="503.9" y="789.2" fill="#b8b8b8" font-size="14" text-anchor="start">时</text><text x="549.9" y="789.2" fill="#b8b8b8" font-size="14" text-anchor="start">时</text><text x="594.9" y="789.2" fill="#b8b8b8" font-size="14" text-anchor="start">时</text><text x="648.8" y="789.2" fill="#b8b8b8" font-size="14" text-anchor="start">时</text><text x="694.9" y="789.2" fill="#b8b8b8" font-size="14" text-anchor="start">日</text><text x="739.9" y="789.2" fill="#b8b8b8" font-size="14" text-anchor="start">日</text><text x="780" y="789.2" fill="#b8b8b8" font-size="14" text-anchor="start">周</text><text x="842.8" y="789.2" fill="#b8b8b8" font-size="14" text-anchor="start">日</text><text x="880" y="789.2" fill="#b8b8b8" font-size="14" text-anchor="start">月</text><text x="927.4" y="789.2" fill="#b8b8b8" font-size="14" text-anchor="start">季</text><text x="975.4" y="789.2" fill="#b8b8b8" font-size="14" text-anchor="start">年</text><text x="1030.9" y="789.2" fill="#b8b8b8" font-size="14" text-anchor="start">分</text><text x="1076.9" y="789.2" fill="#b8b8b8" font-size="14" text-anchor="start">时</text><text x="106.9" y="789.2" fill="#ffffff" font-size="14" text-anchor="start">日</text></g></svg></body></html>
